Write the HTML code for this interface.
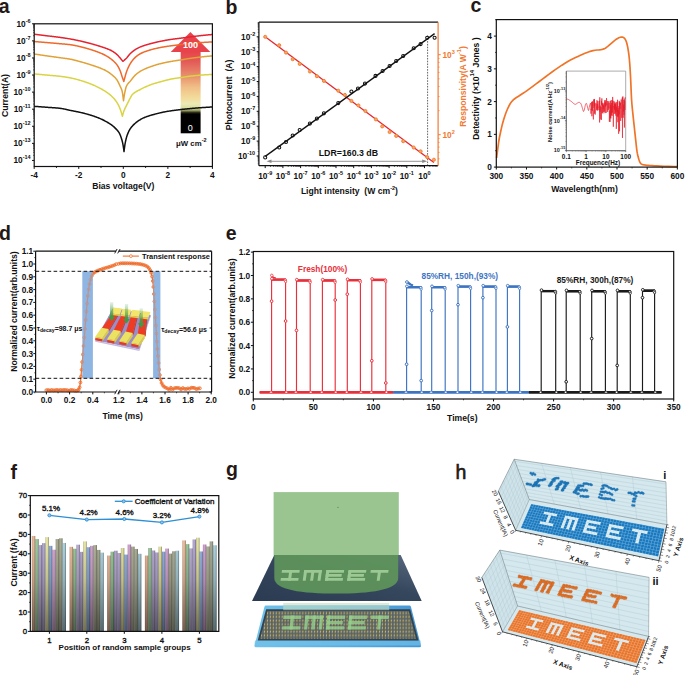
<!DOCTYPE html>
<html><head><meta charset="utf-8"><title>Figure</title>
<style>html,body{margin:0;padding:0;background:#fff;width:685px;height:675px;overflow:hidden;font-family:"Liberation Sans", sans-serif;}svg{display:block;}</style>
</head><body>
<svg width="685" height="675" viewBox="0 0 685 675" font-family='"Liberation Sans", sans-serif'>
<text x="-1.2" y="12.6" font-size="19.5" font-weight="bold" fill="#231815">a</text>
<text x="225.4" y="13.6" font-size="19.5" font-weight="bold" fill="#231815">b</text>
<text x="470.6" y="12.4" font-size="19.5" font-weight="bold" fill="#231815">c</text>
<text x="-1" y="240.1" font-size="19.5" font-weight="bold" fill="#231815">d</text>
<text x="225.8" y="240.1" font-size="19.5" font-weight="bold" fill="#231815">e</text>
<text x="10.6" y="479.2" font-size="19.5" font-weight="bold" fill="#231815">f</text>
<text x="226.1" y="476.3" font-size="19.5" font-weight="bold" fill="#231815">g</text>
<text x="455.6" y="478.9" font-size="19.5" font-weight="normal" fill="#231815" stroke="#231815" stroke-width="0.6">h</text>
<defs><linearGradient id="arrg" x1="0" y1="0" x2="0" y2="1">
<stop offset="0" stop-color="#e8434b"/><stop offset="0.12" stop-color="#e35a58"/>
<stop offset="0.3" stop-color="#e8906c"/><stop offset="0.44" stop-color="#f0c088"/>
<stop offset="0.57" stop-color="#f2dc9c"/><stop offset="0.64" stop-color="#eeeab6"/>
<stop offset="0.69" stop-color="#d8e0a0"/><stop offset="0.72" stop-color="#9aa064"/>
<stop offset="0.75" stop-color="#1a1a0c"/><stop offset="0.77" stop-color="#000"/><stop offset="1" stop-color="#000"/></linearGradient></defs>
<polygon points="190.4,31.9 210.4,52 170.7,52" fill="#e8434b" stroke="none" stroke-width="1"/>
<rect x="180.7" y="51.5" width="19.9" height="81.8" fill="url(#arrg)"/>
<text x="191.3" y="143" font-size="7.8" text-anchor="middle" font-weight="bold" fill="#111" dominant-baseline="central">μW cm<tspan font-size="5.5" dy="-3">-2</tspan></text>
<polyline points="34.2,106.3 34.7,106.34 35.2,106.38 35.7,106.42 36.2,106.46 36.7,106.5 37.2,106.54 37.7,106.57 38.2,106.61 38.7,106.65 39.2,106.69 39.7,106.73 40.2,106.77 40.7,106.81 41.2,106.85 41.7,106.89 42.2,106.93 42.7,106.97 43.2,107 43.7,107.04 44.2,107.08 44.7,107.12 45.2,107.16 45.7,107.2 46.2,107.24 46.7,107.28 47.2,107.32 47.7,107.35 48.2,107.39 48.7,107.42 49.2,107.46 49.7,107.49 50.2,107.53 50.7,107.56 51.2,107.59 51.7,107.62 52.2,107.66 52.7,107.69 53.2,107.72 53.7,107.76 54.2,107.79 54.7,107.83 55.2,107.86 55.7,107.9 56.2,107.94 56.7,107.98 57.2,108.02 57.7,108.07 58.2,108.11 58.7,108.16 59.2,108.21 59.7,108.27 60.2,108.32 60.7,108.39 61.2,108.46 61.7,108.54 62.2,108.62 62.7,108.71 63.2,108.81 63.7,108.91 64.2,109.01 64.7,109.12 65.2,109.23 65.7,109.35 66.2,109.46 66.7,109.58 67.2,109.69 67.7,109.81 68.2,109.92 68.7,110.03 69.2,110.15 69.7,110.25 70.2,110.36 70.7,110.46 71.2,110.56 71.7,110.66 72.2,110.76 72.7,110.86 73.2,110.95 73.7,111.05 74.2,111.15 74.7,111.25 75.2,111.34 75.7,111.44 76.2,111.54 76.7,111.64 77.2,111.74 77.7,111.85 78.2,111.95 78.7,112.06 79.2,112.16 79.7,112.27 80.2,112.39 80.7,112.5 81.2,112.62 81.7,112.73 82.2,112.85 82.7,112.98 83.2,113.1 83.7,113.22 84.2,113.35 84.7,113.48 85.2,113.61 85.7,113.74 86.2,113.87 86.7,114.01 87.2,114.15 87.7,114.29 88.2,114.43 88.7,114.58 89.2,114.72 89.7,114.87 90.2,115.02 90.7,115.18 91.2,115.33 91.7,115.49 92.2,115.65 92.7,115.82 93.2,115.98 93.7,116.15 94.2,116.32 94.7,116.5 95.2,116.68 95.7,116.86 96.2,117.04 96.7,117.23 97.2,117.42 97.7,117.62 98.2,117.81 98.7,118.01 99.2,118.22 99.7,118.42 100.2,118.64 100.7,118.85 101.2,119.07 101.7,119.29 102.2,119.52 102.7,119.76 103.2,120 103.7,120.26 104.2,120.52 104.7,120.79 105.2,121.06 105.7,121.34 106.2,121.62 106.7,121.9 107.2,122.19 107.7,122.48 108.2,122.77 108.7,123.07 109.2,123.38 109.7,123.69 110.2,124.01 110.7,124.35 111.2,124.69 111.7,125.05 112.2,125.43 112.7,125.82 113.2,126.24 113.7,126.67 114.2,127.13 114.7,127.6 115.2,128.1 115.7,128.6 116.2,129.1 116.7,129.62 117.2,130.17 117.7,130.77 118.2,131.43 118.7,132.16 119.2,132.97 119.7,133.92 120.2,135.02 120.7,136.28 121.2,137.69 121.7,139.27 122.2,141 122.7,143.12 123.2,145.8 123.7,149.12 124,151.6 124.5,147.72 125,144.18 125.5,141.52 126,139.31 126.5,137.4 127,135.76 127.5,134.36 128,133.1 128.5,131.96 129,130.92 129.5,129.99 130,129.16 130.5,128.41 131,127.72 131.5,127.07 132,126.46 132.5,125.89 133,125.35 133.5,124.84 134,124.36 134.5,123.89 135,123.45 135.5,123.01 136,122.6 136.5,122.19 137,121.81 137.5,121.44 138,121.08 138.5,120.74 139,120.41 139.5,120.1 140,119.79 140.5,119.5 141,119.22 141.5,118.94 142,118.68 142.5,118.42 143,118.17 143.5,117.94 144,117.71 144.5,117.49 145,117.28 145.5,117.08 146,116.89 146.5,116.7 147,116.52 147.5,116.35 148,116.18 148.5,116.01 149,115.85 149.5,115.69 150,115.53 150.5,115.38 151,115.23 151.5,115.09 152,114.95 152.5,114.81 153,114.67 153.5,114.53 154,114.4 154.5,114.27 155,114.13 155.5,114 156,113.87 156.5,113.75 157,113.62 157.5,113.49 158,113.37 158.5,113.24 159,113.12 159.5,113 160,112.88 160.5,112.76 161,112.65 161.5,112.53 162,112.42 162.5,112.31 163,112.21 163.5,112.1 164,112 164.5,111.9 165,111.8 165.5,111.71 166,111.62 166.5,111.53 167,111.44 167.5,111.36 168,111.28 168.5,111.2 169,111.12 169.5,111.04 170,110.96 170.5,110.89 171,110.82 171.5,110.74 172,110.67 172.5,110.6 173,110.54 173.5,110.47 174,110.4 174.5,110.33 175,110.27 175.5,110.2 176,110.14 176.5,110.07 177,110.01 177.5,109.95 178,109.89 178.5,109.83 179,109.77 179.5,109.71 180,109.65 180.5,109.59 181,109.53 181.5,109.48 182,109.42 182.5,109.37 183,109.31 183.5,109.26 184,109.2 184.5,109.15 185,109.1 185.5,109.05 186,109 186.5,108.95 187,108.9 187.5,108.84 188,108.79 188.5,108.74 189,108.7 189.5,108.65 190,108.6 190.5,108.55 191,108.5 191.5,108.45 192,108.41 192.5,108.36 193,108.32 193.5,108.27 194,108.23 194.5,108.18 195,108.14 195.5,108.1 196,108.06 196.5,108.02 197,107.98 197.5,107.94 198,107.9 198.5,107.86 199,107.83 199.5,107.79 200,107.75 200.5,107.72 201,107.68 201.5,107.65 202,107.61 202.5,107.58 203,107.54 203.5,107.51 204,107.48 204.5,107.44 205,107.41 205.5,107.38 206,107.35 206.5,107.32 207,107.29 207.5,107.26 208,107.23 208.5,107.2 209,107.17 209.5,107.15 210,107.12 210.5,107.09 211,107.07 211.5,107.04 212,107.02 212.4,107" fill="none" stroke="#111" stroke-width="1.5" stroke-linejoin="round"/>
<polyline points="34.2,73.9 34.7,73.95 35.2,73.99 35.7,74.04 36.2,74.09 36.7,74.14 37.2,74.18 37.7,74.23 38.2,74.28 38.7,74.32 39.2,74.37 39.7,74.42 40.2,74.46 40.7,74.51 41.2,74.56 41.7,74.61 42.2,74.65 42.7,74.7 43.2,74.75 43.7,74.79 44.2,74.84 44.7,74.89 45.2,74.93 45.7,74.98 46.2,75.03 46.7,75.07 47.2,75.12 47.7,75.16 48.2,75.21 48.7,75.25 49.2,75.3 49.7,75.34 50.2,75.38 50.7,75.42 51.2,75.47 51.7,75.51 52.2,75.55 52.7,75.59 53.2,75.64 53.7,75.68 54.2,75.72 54.7,75.77 55.2,75.81 55.7,75.86 56.2,75.9 56.7,75.95 57.2,76 57.7,76.05 58.2,76.1 58.7,76.15 59.2,76.21 59.7,76.27 60.2,76.32 60.7,76.38 61.2,76.44 61.7,76.51 62.2,76.57 62.7,76.64 63.2,76.71 63.7,76.78 64.2,76.85 64.7,76.93 65.2,77 65.7,77.08 66.2,77.16 66.7,77.24 67.2,77.32 67.7,77.41 68.2,77.5 68.7,77.59 69.2,77.68 69.7,77.77 70.2,77.86 70.7,77.96 71.2,78.06 71.7,78.16 72.2,78.27 72.7,78.38 73.2,78.49 73.7,78.61 74.2,78.73 74.7,78.85 75.2,78.98 75.7,79.11 76.2,79.24 76.7,79.37 77.2,79.51 77.7,79.65 78.2,79.78 78.7,79.92 79.2,80.07 79.7,80.21 80.2,80.35 80.7,80.5 81.2,80.65 81.7,80.8 82.2,80.95 82.7,81.1 83.2,81.26 83.7,81.42 84.2,81.58 84.7,81.75 85.2,81.92 85.7,82.09 86.2,82.26 86.7,82.44 87.2,82.61 87.7,82.8 88.2,82.98 88.7,83.17 89.2,83.36 89.7,83.55 90.2,83.74 90.7,83.94 91.2,84.14 91.7,84.34 92.2,84.55 92.7,84.77 93.2,84.98 93.7,85.2 94.2,85.43 94.7,85.66 95.2,85.89 95.7,86.12 96.2,86.36 96.7,86.61 97.2,86.85 97.7,87.1 98.2,87.36 98.7,87.61 99.2,87.87 99.7,88.13 100.2,88.4 100.7,88.67 101.2,88.94 101.7,89.21 102.2,89.49 102.7,89.77 103.2,90.07 103.7,90.36 104.2,90.67 104.7,90.98 105.2,91.3 105.7,91.62 106.2,91.96 106.7,92.3 107.2,92.65 107.7,93 108.2,93.36 108.7,93.72 109.2,94.1 109.7,94.49 110.2,94.89 110.7,95.31 111.2,95.75 111.7,96.21 112.2,96.69 112.7,97.19 113.2,97.71 113.7,98.25 114.2,98.82 114.7,99.42 115.2,100.05 115.7,100.71 116.2,101.41 116.7,102.14 117.2,102.92 117.7,103.76 118.2,104.69 118.7,105.69 119.2,106.77 119.7,107.92 120.2,109.15 120.7,110.53 121.2,112.06 121.7,113.71 122.2,115.47 122.4,116.2 122.9,114.34 123.4,112.62 123.9,111.08 124.4,109.75 124.9,108.62 125.4,107.62 125.9,106.67 126.4,105.7 126.9,104.68 127.4,103.65 127.9,102.62 128.4,101.59 128.9,100.59 129.4,99.62 129.9,98.68 130.4,97.76 130.9,96.81 131.4,95.9 131.9,95.11 132.4,94.5 132.9,94.02 133.4,93.58 133.9,93.17 134.4,92.79 134.9,92.43 135.4,92.1 135.9,91.79 136.4,91.5 136.9,91.22 137.4,90.96 137.9,90.7 138.4,90.45 138.9,90.21 139.4,89.96 139.9,89.71 140.4,89.46 140.9,89.19 141.4,88.93 141.9,88.67 142.4,88.42 142.9,88.17 143.4,87.92 143.9,87.67 144.4,87.43 144.9,87.19 145.4,86.96 145.9,86.73 146.4,86.5 146.9,86.28 147.4,86.07 147.9,85.85 148.4,85.64 148.9,85.44 149.4,85.24 149.9,85.05 150.4,84.86 150.9,84.67 151.4,84.49 151.9,84.32 152.4,84.15 152.9,83.98 153.4,83.82 153.9,83.66 154.4,83.5 154.9,83.35 155.4,83.2 155.9,83.05 156.4,82.91 156.9,82.76 157.4,82.62 157.9,82.48 158.4,82.34 158.9,82.21 159.4,82.07 159.9,81.93 160.4,81.8 160.9,81.66 161.4,81.53 161.9,81.39 162.4,81.25 162.9,81.12 163.4,80.98 163.9,80.84 164.4,80.7 164.9,80.57 165.4,80.43 165.9,80.3 166.4,80.16 166.9,80.03 167.4,79.91 167.9,79.78 168.4,79.66 168.9,79.54 169.4,79.42 169.9,79.31 170.4,79.2 170.9,79.09 171.4,78.99 171.9,78.9 172.4,78.81 172.9,78.72 173.4,78.64 173.9,78.56 174.4,78.48 174.9,78.41 175.4,78.34 175.9,78.26 176.4,78.19 176.9,78.13 177.4,78.06 177.9,77.99 178.4,77.93 178.9,77.86 179.4,77.79 179.9,77.73 180.4,77.66 180.9,77.59 181.4,77.52 181.9,77.44 182.4,77.37 182.9,77.29 183.4,77.21 183.9,77.13 184.4,77.05 184.9,76.96 185.4,76.88 185.9,76.79 186.4,76.71 186.9,76.63 187.4,76.55 187.9,76.47 188.4,76.4 188.9,76.33 189.4,76.27 189.9,76.21 190.4,76.16 190.9,76.1 191.4,76.05 191.9,76 192.4,75.94 192.9,75.89 193.4,75.84 193.9,75.79 194.4,75.74 194.9,75.69 195.4,75.63 195.9,75.58 196.4,75.54 196.9,75.49 197.4,75.44 197.9,75.39 198.4,75.34 198.9,75.3 199.4,75.25 199.9,75.21 200.4,75.17 200.9,75.12 201.4,75.08 201.9,75.04 202.4,75 202.9,74.97 203.4,74.93 203.9,74.89 204.4,74.86 204.9,74.82 205.4,74.79 205.9,74.76 206.4,74.73 206.9,74.7 207.4,74.68 207.9,74.65 208.4,74.63 208.9,74.61 209.4,74.59 209.9,74.57 210.4,74.55 210.9,74.54 211.4,74.52 211.9,74.51 212.4,74.5" fill="none" stroke="#d9d443" stroke-width="1.5" stroke-linejoin="round"/>
<polyline points="34.2,54 34.7,54.08 35.2,54.15 35.7,54.23 36.2,54.31 36.7,54.38 37.2,54.46 37.7,54.53 38.2,54.61 38.7,54.68 39.2,54.76 39.7,54.83 40.2,54.91 40.7,54.98 41.2,55.06 41.7,55.13 42.2,55.2 42.7,55.28 43.2,55.35 43.7,55.42 44.2,55.5 44.7,55.57 45.2,55.64 45.7,55.71 46.2,55.79 46.7,55.86 47.2,55.93 47.7,56 48.2,56.07 48.7,56.14 49.2,56.21 49.7,56.28 50.2,56.35 50.7,56.42 51.2,56.49 51.7,56.56 52.2,56.63 52.7,56.69 53.2,56.76 53.7,56.83 54.2,56.9 54.7,56.97 55.2,57.04 55.7,57.1 56.2,57.17 56.7,57.24 57.2,57.31 57.7,57.38 58.2,57.45 58.7,57.52 59.2,57.59 59.7,57.66 60.2,57.73 60.7,57.8 61.2,57.87 61.7,57.93 62.2,58 62.7,58.06 63.2,58.13 63.7,58.2 64.2,58.26 64.7,58.33 65.2,58.4 65.7,58.46 66.2,58.53 66.7,58.6 67.2,58.68 67.7,58.75 68.2,58.83 68.7,58.91 69.2,58.99 69.7,59.07 70.2,59.16 70.7,59.26 71.2,59.35 71.7,59.46 72.2,59.56 72.7,59.68 73.2,59.79 73.7,59.91 74.2,60.04 74.7,60.16 75.2,60.29 75.7,60.42 76.2,60.56 76.7,60.69 77.2,60.83 77.7,60.97 78.2,61.11 78.7,61.25 79.2,61.39 79.7,61.52 80.2,61.66 80.7,61.8 81.2,61.94 81.7,62.08 82.2,62.22 82.7,62.36 83.2,62.5 83.7,62.64 84.2,62.78 84.7,62.93 85.2,63.08 85.7,63.22 86.2,63.37 86.7,63.52 87.2,63.67 87.7,63.83 88.2,63.98 88.7,64.14 89.2,64.29 89.7,64.45 90.2,64.61 90.7,64.77 91.2,64.93 91.7,65.09 92.2,65.26 92.7,65.42 93.2,65.58 93.7,65.75 94.2,65.92 94.7,66.08 95.2,66.25 95.7,66.42 96.2,66.6 96.7,66.77 97.2,66.95 97.7,67.13 98.2,67.31 98.7,67.5 99.2,67.69 99.7,67.88 100.2,68.07 100.7,68.27 101.2,68.48 101.7,68.68 102.2,68.89 102.7,69.11 103.2,69.33 103.7,69.56 104.2,69.79 104.7,70.04 105.2,70.29 105.7,70.55 106.2,70.82 106.7,71.1 107.2,71.39 107.7,71.7 108.2,72.02 108.7,72.36 109.2,72.71 109.7,73.07 110.2,73.44 110.7,73.83 111.2,74.22 111.7,74.63 112.2,75.05 112.7,75.47 113.2,75.9 113.7,76.35 114.2,76.81 114.7,77.3 115.2,77.81 115.7,78.36 116.2,78.96 116.7,79.59 117.2,80.29 117.7,81.12 118.2,82.06 118.7,83.09 119.2,84.18 119.7,85.3 120.2,86.42 120.7,87.44 121.2,88.49 121.7,89.75 122.2,91.4 122.7,94.13 123.2,98.06 123.5,100.7 124,97.19 124.5,94.1 125,91.52 125.5,89.23 126,87.3 126.5,85.99 127,85.07 127.5,84.29 128,83.64 128.5,83.06 129,82.53 129.5,82.01 130,81.47 130.5,80.88 131,80.24 131.5,79.6 132,78.95 132.5,78.31 133,77.68 133.5,77.06 134,76.47 134.5,75.9 135,75.38 135.5,74.89 136,74.45 136.5,74.02 137,73.61 137.5,73.22 138,72.84 138.5,72.49 139,72.15 139.5,71.82 140,71.51 140.5,71.21 141,70.93 141.5,70.66 142,70.39 142.5,70.13 143,69.88 143.5,69.63 144,69.39 144.5,69.16 145,68.93 145.5,68.7 146,68.49 146.5,68.27 147,68.06 147.5,67.86 148,67.66 148.5,67.46 149,67.27 149.5,67.08 150,66.9 150.5,66.72 151,66.54 151.5,66.36 152,66.18 152.5,66.01 153,65.84 153.5,65.68 154,65.51 154.5,65.35 155,65.2 155.5,65.04 156,64.89 156.5,64.74 157,64.59 157.5,64.45 158,64.31 158.5,64.17 159,64.04 159.5,63.9 160,63.77 160.5,63.65 161,63.52 161.5,63.4 162,63.28 162.5,63.16 163,63.05 163.5,62.94 164,62.83 164.5,62.72 165,62.61 165.5,62.51 166,62.41 166.5,62.31 167,62.21 167.5,62.11 168,62.01 168.5,61.92 169,61.82 169.5,61.73 170,61.64 170.5,61.55 171,61.46 171.5,61.37 172,61.28 172.5,61.2 173,61.11 173.5,61.03 174,60.95 174.5,60.87 175,60.79 175.5,60.71 176,60.64 176.5,60.56 177,60.49 177.5,60.41 178,60.34 178.5,60.27 179,60.19 179.5,60.12 180,60.04 180.5,59.97 181,59.89 181.5,59.81 182,59.73 182.5,59.65 183,59.57 183.5,59.48 184,59.4 184.5,59.31 185,59.22 185.5,59.13 186,59.05 186.5,58.96 187,58.87 187.5,58.79 188,58.7 188.5,58.62 189,58.55 189.5,58.47 190,58.4 190.5,58.33 191,58.26 191.5,58.19 192,58.13 192.5,58.06 193,57.99 193.5,57.92 194,57.86 194.5,57.79 195,57.73 195.5,57.66 196,57.6 196.5,57.53 197,57.47 197.5,57.41 198,57.34 198.5,57.28 199,57.22 199.5,57.16 200,57.1 200.5,57.04 201,56.98 201.5,56.93 202,56.87 202.5,56.81 203,56.76 203.5,56.7 204,56.65 204.5,56.6 205,56.55 205.5,56.5 206,56.45 206.5,56.4 207,56.35 207.5,56.3 208,56.26 208.5,56.21 209,56.17 209.5,56.13 210,56.08 210.5,56.04 211,56 211.5,55.97 212,55.93 212.4,55.9" fill="none" stroke="#e0a236" stroke-width="1.5" stroke-linejoin="round"/>
<polyline points="34.2,41.5 34.7,41.54 35.2,41.59 35.7,41.63 36.2,41.67 36.7,41.72 37.2,41.76 37.7,41.8 38.2,41.85 38.7,41.89 39.2,41.93 39.7,41.97 40.2,42.02 40.7,42.06 41.2,42.1 41.7,42.15 42.2,42.19 42.7,42.23 43.2,42.28 43.7,42.32 44.2,42.36 44.7,42.4 45.2,42.45 45.7,42.49 46.2,42.53 46.7,42.57 47.2,42.62 47.7,42.66 48.2,42.7 48.7,42.74 49.2,42.79 49.7,42.83 50.2,42.87 50.7,42.91 51.2,42.95 51.7,42.99 52.2,43.03 52.7,43.08 53.2,43.12 53.7,43.16 54.2,43.2 54.7,43.24 55.2,43.28 55.7,43.33 56.2,43.37 56.7,43.41 57.2,43.45 57.7,43.5 58.2,43.54 58.7,43.58 59.2,43.63 59.7,43.67 60.2,43.72 60.7,43.76 61.2,43.81 61.7,43.85 62.2,43.89 62.7,43.93 63.2,43.98 63.7,44.02 64.2,44.06 64.7,44.1 65.2,44.15 65.7,44.19 66.2,44.24 66.7,44.29 67.2,44.34 67.7,44.39 68.2,44.44 68.7,44.49 69.2,44.55 69.7,44.61 70.2,44.67 70.7,44.74 71.2,44.81 71.7,44.89 72.2,44.97 72.7,45.05 73.2,45.14 73.7,45.24 74.2,45.34 74.7,45.44 75.2,45.54 75.7,45.65 76.2,45.76 76.7,45.87 77.2,45.98 77.7,46.1 78.2,46.21 78.7,46.33 79.2,46.45 79.7,46.56 80.2,46.68 80.7,46.8 81.2,46.92 81.7,47.04 82.2,47.16 82.7,47.29 83.2,47.42 83.7,47.55 84.2,47.68 84.7,47.81 85.2,47.95 85.7,48.09 86.2,48.23 86.7,48.37 87.2,48.52 87.7,48.66 88.2,48.81 88.7,48.96 89.2,49.11 89.7,49.26 90.2,49.42 90.7,49.57 91.2,49.73 91.7,49.89 92.2,50.05 92.7,50.22 93.2,50.38 93.7,50.55 94.2,50.72 94.7,50.89 95.2,51.06 95.7,51.24 96.2,51.42 96.7,51.6 97.2,51.78 97.7,51.97 98.2,52.16 98.7,52.35 99.2,52.55 99.7,52.75 100.2,52.95 100.7,53.16 101.2,53.37 101.7,53.59 102.2,53.81 102.7,54.03 103.2,54.27 103.7,54.51 104.2,54.75 104.7,55.01 105.2,55.27 105.7,55.54 106.2,55.81 106.7,56.1 107.2,56.39 107.7,56.7 108.2,57.01 108.7,57.34 109.2,57.67 109.7,58.02 110.2,58.38 110.7,58.75 111.2,59.14 111.7,59.54 112.2,59.95 112.7,60.37 113.2,60.81 113.7,61.26 114.2,61.73 114.7,62.22 115.2,62.74 115.7,63.29 116.2,63.88 116.7,64.5 117.2,65.18 117.7,65.92 118.2,66.75 118.7,67.65 119.2,68.64 119.7,69.7 120.2,70.84 120.7,72.2 121.2,73.75 121.7,75.36 122.2,76.9 122.7,78.36 123.2,79.8 123.7,81.22 123.8,81.5 124.3,79.6 124.8,77.74 125.3,75.87 125.8,74 126.3,72.42 126.8,71.04 127.3,69.74 127.8,68.52 128.3,67.38 128.8,66.31 129.3,65.32 129.8,64.4 130.3,63.56 130.8,62.78 131.3,62.04 131.8,61.34 132.3,60.67 132.8,60.04 133.3,59.45 133.8,58.88 134.3,58.35 134.8,57.85 135.3,57.37 135.8,56.92 136.3,56.49 136.8,56.08 137.3,55.68 137.8,55.3 138.3,54.94 138.8,54.6 139.3,54.28 139.8,53.99 140.3,53.71 140.8,53.45 141.3,53.21 141.8,52.97 142.3,52.74 142.8,52.53 143.3,52.31 143.8,52.11 144.3,51.91 144.8,51.72 145.3,51.53 145.8,51.35 146.3,51.18 146.8,51.01 147.3,50.84 147.8,50.68 148.3,50.53 148.8,50.37 149.3,50.22 149.8,50.07 150.3,49.93 150.8,49.79 151.3,49.64 151.8,49.5 152.3,49.37 152.8,49.23 153.3,49.1 153.8,48.98 154.3,48.85 154.8,48.73 155.3,48.61 155.8,48.49 156.3,48.37 156.8,48.26 157.3,48.15 157.8,48.04 158.3,47.93 158.8,47.83 159.3,47.73 159.8,47.63 160.3,47.53 160.8,47.43 161.3,47.34 161.8,47.24 162.3,47.15 162.8,47.07 163.3,46.98 163.8,46.89 164.3,46.81 164.8,46.73 165.3,46.65 165.8,46.57 166.3,46.49 166.8,46.42 167.3,46.34 167.8,46.27 168.3,46.2 168.8,46.12 169.3,46.05 169.8,45.98 170.3,45.92 170.8,45.85 171.3,45.78 171.8,45.71 172.3,45.65 172.8,45.58 173.3,45.52 173.8,45.46 174.3,45.4 174.8,45.34 175.3,45.28 175.8,45.23 176.3,45.17 176.8,45.11 177.3,45.06 177.8,45 178.3,44.95 178.8,44.89 179.3,44.84 179.8,44.78 180.3,44.72 180.8,44.67 181.3,44.61 181.8,44.55 182.3,44.49 182.8,44.42 183.3,44.36 183.8,44.29 184.3,44.22 184.8,44.15 185.3,44.08 185.8,44.01 186.3,43.94 186.8,43.88 187.3,43.81 187.8,43.74 188.3,43.68 188.8,43.62 189.3,43.57 189.8,43.52 190.3,43.47 190.8,43.43 191.3,43.38 191.8,43.33 192.3,43.29 192.8,43.24 193.3,43.2 193.8,43.15 194.3,43.11 194.8,43.07 195.3,43.02 195.8,42.98 196.3,42.94 196.8,42.89 197.3,42.85 197.8,42.81 198.3,42.77 198.8,42.73 199.3,42.69 199.8,42.65 200.3,42.62 200.8,42.58 201.3,42.54 201.8,42.51 202.3,42.47 202.8,42.44 203.3,42.41 203.8,42.38 204.3,42.34 204.8,42.31 205.3,42.29 205.8,42.26 206.3,42.23 206.8,42.2 207.3,42.18 207.8,42.16 208.3,42.13 208.8,42.11 209.3,42.09 209.8,42.07 210.3,42.06 210.8,42.04 211.3,42.03 211.8,42.01 212.3,42 212.4,42" fill="none" stroke="#f0692c" stroke-width="1.5" stroke-linejoin="round"/>
<polyline points="34.2,34.2 34.7,34.26 35.2,34.33 35.7,34.39 36.2,34.45 36.7,34.51 37.2,34.58 37.7,34.64 38.2,34.7 38.7,34.77 39.2,34.83 39.7,34.89 40.2,34.95 40.7,35.02 41.2,35.08 41.7,35.14 42.2,35.2 42.7,35.27 43.2,35.33 43.7,35.39 44.2,35.45 44.7,35.51 45.2,35.58 45.7,35.64 46.2,35.7 46.7,35.76 47.2,35.82 47.7,35.89 48.2,35.95 48.7,36.01 49.2,36.07 49.7,36.13 50.2,36.19 50.7,36.25 51.2,36.31 51.7,36.36 52.2,36.42 52.7,36.48 53.2,36.54 53.7,36.6 54.2,36.66 54.7,36.72 55.2,36.78 55.7,36.84 56.2,36.91 56.7,36.97 57.2,37.03 57.7,37.1 58.2,37.16 58.7,37.23 59.2,37.29 59.7,37.36 60.2,37.43 60.7,37.5 61.2,37.57 61.7,37.64 62.2,37.71 62.7,37.78 63.2,37.85 63.7,37.93 64.2,38 64.7,38.07 65.2,38.15 65.7,38.23 66.2,38.3 66.7,38.38 67.2,38.46 67.7,38.54 68.2,38.63 68.7,38.71 69.2,38.79 69.7,38.88 70.2,38.97 70.7,39.05 71.2,39.14 71.7,39.23 72.2,39.33 72.7,39.42 73.2,39.52 73.7,39.61 74.2,39.71 74.7,39.81 75.2,39.91 75.7,40.02 76.2,40.12 76.7,40.23 77.2,40.33 77.7,40.44 78.2,40.55 78.7,40.66 79.2,40.77 79.7,40.88 80.2,40.99 80.7,41.1 81.2,41.21 81.7,41.33 82.2,41.44 82.7,41.56 83.2,41.68 83.7,41.8 84.2,41.92 84.7,42.04 85.2,42.16 85.7,42.29 86.2,42.41 86.7,42.54 87.2,42.67 87.7,42.8 88.2,42.93 88.7,43.06 89.2,43.19 89.7,43.32 90.2,43.46 90.7,43.59 91.2,43.73 91.7,43.86 92.2,44 92.7,44.14 93.2,44.28 93.7,44.42 94.2,44.57 94.7,44.71 95.2,44.86 95.7,45.01 96.2,45.15 96.7,45.3 97.2,45.45 97.7,45.61 98.2,45.76 98.7,45.91 99.2,46.07 99.7,46.23 100.2,46.38 100.7,46.54 101.2,46.7 101.7,46.86 102.2,47.03 102.7,47.19 103.2,47.35 103.7,47.52 104.2,47.69 104.7,47.86 105.2,48.04 105.7,48.22 106.2,48.41 106.7,48.6 107.2,48.79 107.7,48.99 108.2,49.19 108.7,49.39 109.2,49.6 109.7,49.82 110.2,50.04 110.7,50.28 111.2,50.53 111.7,50.79 112.2,51.07 112.7,51.36 113.2,51.68 113.7,52.01 114.2,52.35 114.7,52.72 115.2,53.1 115.7,53.5 116.2,53.91 116.7,54.34 117.2,54.78 117.7,55.28 118.2,55.81 118.7,56.38 119.2,56.96 119.7,57.54 120.2,58.11 120.7,58.69 121.2,59.27 121.7,59.86 122.2,60.45 122.7,61.06 122.9,61.3 123.4,60.91 123.9,60.51 124.4,60.08 124.9,59.64 125.4,59.18 125.9,58.7 126.4,58.2 126.9,57.66 127.4,57.08 127.9,56.46 128.4,55.82 128.9,55.19 129.4,54.58 129.9,54.01 130.4,53.5 130.9,53.03 131.4,52.58 131.9,52.14 132.4,51.72 132.9,51.31 133.4,50.92 133.9,50.55 134.4,50.19 134.9,49.85 135.4,49.53 135.9,49.22 136.4,48.92 136.9,48.63 137.4,48.36 137.9,48.09 138.4,47.84 138.9,47.59 139.4,47.36 139.9,47.13 140.4,46.92 140.9,46.72 141.4,46.52 141.9,46.33 142.4,46.15 142.9,45.97 143.4,45.79 143.9,45.62 144.4,45.45 144.9,45.29 145.4,45.13 145.9,44.98 146.4,44.82 146.9,44.67 147.4,44.53 147.9,44.38 148.4,44.24 148.9,44.1 149.4,43.96 149.9,43.82 150.4,43.69 150.9,43.55 151.4,43.42 151.9,43.29 152.4,43.16 152.9,43.03 153.4,42.91 153.9,42.78 154.4,42.66 154.9,42.54 155.4,42.42 155.9,42.3 156.4,42.19 156.9,42.07 157.4,41.96 157.9,41.85 158.4,41.74 158.9,41.63 159.4,41.53 159.9,41.42 160.4,41.32 160.9,41.22 161.4,41.12 161.9,41.02 162.4,40.92 162.9,40.83 163.4,40.73 163.9,40.64 164.4,40.54 164.9,40.45 165.4,40.36 165.9,40.27 166.4,40.18 166.9,40.1 167.4,40.01 167.9,39.93 168.4,39.84 168.9,39.76 169.4,39.68 169.9,39.6 170.4,39.53 170.9,39.45 171.4,39.37 171.9,39.3 172.4,39.23 172.9,39.16 173.4,39.09 173.9,39.02 174.4,38.96 174.9,38.9 175.4,38.83 175.9,38.77 176.4,38.71 176.9,38.65 177.4,38.59 177.9,38.53 178.4,38.47 178.9,38.41 179.4,38.35 179.9,38.29 180.4,38.23 180.9,38.17 181.4,38.1 181.9,38.04 182.4,37.97 182.9,37.9 183.4,37.83 183.9,37.76 184.4,37.69 184.9,37.62 185.4,37.54 185.9,37.47 186.4,37.4 186.9,37.32 187.4,37.25 187.9,37.18 188.4,37.11 188.9,37.04 189.4,36.98 189.9,36.91 190.4,36.85 190.9,36.79 191.4,36.73 191.9,36.67 192.4,36.6 192.9,36.54 193.4,36.48 193.9,36.42 194.4,36.36 194.9,36.3 195.4,36.24 195.9,36.18 196.4,36.12 196.9,36.07 197.4,36.01 197.9,35.95 198.4,35.89 198.9,35.84 199.4,35.78 199.9,35.72 200.4,35.67 200.9,35.61 201.4,35.56 201.9,35.51 202.4,35.45 202.9,35.4 203.4,35.35 203.9,35.29 204.4,35.24 204.9,35.19 205.4,35.14 205.9,35.09 206.4,35.04 206.9,34.99 207.4,34.94 207.9,34.9 208.4,34.85 208.9,34.8 209.4,34.76 209.9,34.71 210.4,34.67 210.9,34.63 211.4,34.58 211.9,34.54 212.4,34.5" fill="none" stroke="#e52330" stroke-width="1.5" stroke-linejoin="round"/>
<text x="190.5" y="45.4" font-size="9" text-anchor="middle" font-weight="bold" fill="#fff" dominant-baseline="central">100</text>
<text x="190.2" y="128.3" font-size="9" text-anchor="middle" font-weight="normal" fill="#fff" dominant-baseline="central">0</text>
<rect x="34.2" y="23.8" width="178.2" height="142.7" fill="none" stroke="#111" stroke-width="1.2"/>
<line x1="32" y1="23.8" x2="34.2" y2="23.8" stroke="#111" stroke-width="1"/>
<text x="30.6" y="23.5" font-size="8.3" text-anchor="end" font-weight="bold" fill="#111" dominant-baseline="central">10<tspan font-size="5.5" dy="-2.7">-6</tspan></text>
<line x1="33" y1="35.74" x2="34.2" y2="35.74" stroke="#111" stroke-width="0.6"/>
<line x1="33" y1="32.73" x2="34.2" y2="32.73" stroke="#111" stroke-width="0.6"/>
<line x1="33" y1="30.6" x2="34.2" y2="30.6" stroke="#111" stroke-width="0.6"/>
<line x1="33" y1="28.94" x2="34.2" y2="28.94" stroke="#111" stroke-width="0.6"/>
<line x1="33" y1="27.59" x2="34.2" y2="27.59" stroke="#111" stroke-width="0.6"/>
<line x1="33" y1="26.45" x2="34.2" y2="26.45" stroke="#111" stroke-width="0.6"/>
<line x1="33" y1="25.46" x2="34.2" y2="25.46" stroke="#111" stroke-width="0.6"/>
<line x1="33" y1="24.58" x2="34.2" y2="24.58" stroke="#111" stroke-width="0.6"/>
<line x1="32" y1="40.88" x2="34.2" y2="40.88" stroke="#111" stroke-width="1"/>
<text x="30.6" y="40.58" font-size="8.3" text-anchor="end" font-weight="bold" fill="#111" dominant-baseline="central">10<tspan font-size="5.5" dy="-2.7">-7</tspan></text>
<line x1="33" y1="52.82" x2="34.2" y2="52.82" stroke="#111" stroke-width="0.6"/>
<line x1="33" y1="49.81" x2="34.2" y2="49.81" stroke="#111" stroke-width="0.6"/>
<line x1="33" y1="47.68" x2="34.2" y2="47.68" stroke="#111" stroke-width="0.6"/>
<line x1="33" y1="46.02" x2="34.2" y2="46.02" stroke="#111" stroke-width="0.6"/>
<line x1="33" y1="44.67" x2="34.2" y2="44.67" stroke="#111" stroke-width="0.6"/>
<line x1="33" y1="43.53" x2="34.2" y2="43.53" stroke="#111" stroke-width="0.6"/>
<line x1="33" y1="42.54" x2="34.2" y2="42.54" stroke="#111" stroke-width="0.6"/>
<line x1="33" y1="41.66" x2="34.2" y2="41.66" stroke="#111" stroke-width="0.6"/>
<line x1="32" y1="57.96" x2="34.2" y2="57.96" stroke="#111" stroke-width="1"/>
<text x="30.6" y="57.66" font-size="8.3" text-anchor="end" font-weight="bold" fill="#111" dominant-baseline="central">10<tspan font-size="5.5" dy="-2.7">-8</tspan></text>
<line x1="33" y1="69.9" x2="34.2" y2="69.9" stroke="#111" stroke-width="0.6"/>
<line x1="33" y1="66.89" x2="34.2" y2="66.89" stroke="#111" stroke-width="0.6"/>
<line x1="33" y1="64.76" x2="34.2" y2="64.76" stroke="#111" stroke-width="0.6"/>
<line x1="33" y1="63.1" x2="34.2" y2="63.1" stroke="#111" stroke-width="0.6"/>
<line x1="33" y1="61.75" x2="34.2" y2="61.75" stroke="#111" stroke-width="0.6"/>
<line x1="33" y1="60.61" x2="34.2" y2="60.61" stroke="#111" stroke-width="0.6"/>
<line x1="33" y1="59.62" x2="34.2" y2="59.62" stroke="#111" stroke-width="0.6"/>
<line x1="33" y1="58.74" x2="34.2" y2="58.74" stroke="#111" stroke-width="0.6"/>
<line x1="32" y1="75.04" x2="34.2" y2="75.04" stroke="#111" stroke-width="1"/>
<text x="30.6" y="74.74" font-size="8.3" text-anchor="end" font-weight="bold" fill="#111" dominant-baseline="central">10<tspan font-size="5.5" dy="-2.7">-9</tspan></text>
<line x1="33" y1="86.98" x2="34.2" y2="86.98" stroke="#111" stroke-width="0.6"/>
<line x1="33" y1="83.97" x2="34.2" y2="83.97" stroke="#111" stroke-width="0.6"/>
<line x1="33" y1="81.84" x2="34.2" y2="81.84" stroke="#111" stroke-width="0.6"/>
<line x1="33" y1="80.18" x2="34.2" y2="80.18" stroke="#111" stroke-width="0.6"/>
<line x1="33" y1="78.83" x2="34.2" y2="78.83" stroke="#111" stroke-width="0.6"/>
<line x1="33" y1="77.69" x2="34.2" y2="77.69" stroke="#111" stroke-width="0.6"/>
<line x1="33" y1="76.7" x2="34.2" y2="76.7" stroke="#111" stroke-width="0.6"/>
<line x1="33" y1="75.82" x2="34.2" y2="75.82" stroke="#111" stroke-width="0.6"/>
<line x1="32" y1="92.12" x2="34.2" y2="92.12" stroke="#111" stroke-width="1"/>
<text x="30.6" y="91.82" font-size="8.3" text-anchor="end" font-weight="bold" fill="#111" dominant-baseline="central">10<tspan font-size="5.5" dy="-2.7">-10</tspan></text>
<line x1="33" y1="104.06" x2="34.2" y2="104.06" stroke="#111" stroke-width="0.6"/>
<line x1="33" y1="101.05" x2="34.2" y2="101.05" stroke="#111" stroke-width="0.6"/>
<line x1="33" y1="98.92" x2="34.2" y2="98.92" stroke="#111" stroke-width="0.6"/>
<line x1="33" y1="97.26" x2="34.2" y2="97.26" stroke="#111" stroke-width="0.6"/>
<line x1="33" y1="95.91" x2="34.2" y2="95.91" stroke="#111" stroke-width="0.6"/>
<line x1="33" y1="94.77" x2="34.2" y2="94.77" stroke="#111" stroke-width="0.6"/>
<line x1="33" y1="93.78" x2="34.2" y2="93.78" stroke="#111" stroke-width="0.6"/>
<line x1="33" y1="92.9" x2="34.2" y2="92.9" stroke="#111" stroke-width="0.6"/>
<line x1="32" y1="109.2" x2="34.2" y2="109.2" stroke="#111" stroke-width="1"/>
<text x="30.6" y="108.9" font-size="8.3" text-anchor="end" font-weight="bold" fill="#111" dominant-baseline="central">10<tspan font-size="5.5" dy="-2.7">-11</tspan></text>
<line x1="33" y1="121.14" x2="34.2" y2="121.14" stroke="#111" stroke-width="0.6"/>
<line x1="33" y1="118.13" x2="34.2" y2="118.13" stroke="#111" stroke-width="0.6"/>
<line x1="33" y1="116" x2="34.2" y2="116" stroke="#111" stroke-width="0.6"/>
<line x1="33" y1="114.34" x2="34.2" y2="114.34" stroke="#111" stroke-width="0.6"/>
<line x1="33" y1="112.99" x2="34.2" y2="112.99" stroke="#111" stroke-width="0.6"/>
<line x1="33" y1="111.85" x2="34.2" y2="111.85" stroke="#111" stroke-width="0.6"/>
<line x1="33" y1="110.86" x2="34.2" y2="110.86" stroke="#111" stroke-width="0.6"/>
<line x1="33" y1="109.98" x2="34.2" y2="109.98" stroke="#111" stroke-width="0.6"/>
<line x1="32" y1="126.28" x2="34.2" y2="126.28" stroke="#111" stroke-width="1"/>
<text x="30.6" y="125.98" font-size="8.3" text-anchor="end" font-weight="bold" fill="#111" dominant-baseline="central">10<tspan font-size="5.5" dy="-2.7">-12</tspan></text>
<line x1="33" y1="138.22" x2="34.2" y2="138.22" stroke="#111" stroke-width="0.6"/>
<line x1="33" y1="135.21" x2="34.2" y2="135.21" stroke="#111" stroke-width="0.6"/>
<line x1="33" y1="133.08" x2="34.2" y2="133.08" stroke="#111" stroke-width="0.6"/>
<line x1="33" y1="131.42" x2="34.2" y2="131.42" stroke="#111" stroke-width="0.6"/>
<line x1="33" y1="130.07" x2="34.2" y2="130.07" stroke="#111" stroke-width="0.6"/>
<line x1="33" y1="128.93" x2="34.2" y2="128.93" stroke="#111" stroke-width="0.6"/>
<line x1="33" y1="127.94" x2="34.2" y2="127.94" stroke="#111" stroke-width="0.6"/>
<line x1="33" y1="127.06" x2="34.2" y2="127.06" stroke="#111" stroke-width="0.6"/>
<line x1="32" y1="143.36" x2="34.2" y2="143.36" stroke="#111" stroke-width="1"/>
<text x="30.6" y="143.06" font-size="8.3" text-anchor="end" font-weight="bold" fill="#111" dominant-baseline="central">10<tspan font-size="5.5" dy="-2.7">-13</tspan></text>
<line x1="33" y1="155.3" x2="34.2" y2="155.3" stroke="#111" stroke-width="0.6"/>
<line x1="33" y1="152.29" x2="34.2" y2="152.29" stroke="#111" stroke-width="0.6"/>
<line x1="33" y1="150.16" x2="34.2" y2="150.16" stroke="#111" stroke-width="0.6"/>
<line x1="33" y1="148.5" x2="34.2" y2="148.5" stroke="#111" stroke-width="0.6"/>
<line x1="33" y1="147.15" x2="34.2" y2="147.15" stroke="#111" stroke-width="0.6"/>
<line x1="33" y1="146.01" x2="34.2" y2="146.01" stroke="#111" stroke-width="0.6"/>
<line x1="33" y1="145.02" x2="34.2" y2="145.02" stroke="#111" stroke-width="0.6"/>
<line x1="33" y1="144.14" x2="34.2" y2="144.14" stroke="#111" stroke-width="0.6"/>
<line x1="32" y1="160.44" x2="34.2" y2="160.44" stroke="#111" stroke-width="1"/>
<text x="30.6" y="160.14" font-size="8.3" text-anchor="end" font-weight="bold" fill="#111" dominant-baseline="central">10<tspan font-size="5.5" dy="-2.7">-14</tspan></text>
<line x1="34.18" y1="166.5" x2="34.18" y2="168.9" stroke="#111" stroke-width="1"/>
<text x="34.18" y="175.2" font-size="8.3" text-anchor="middle" font-weight="bold" fill="#111" dominant-baseline="central">-4</text>
<line x1="56.46" y1="166.5" x2="56.46" y2="167.9" stroke="#111" stroke-width="1"/>
<line x1="78.74" y1="166.5" x2="78.74" y2="168.9" stroke="#111" stroke-width="1"/>
<text x="78.74" y="175.2" font-size="8.3" text-anchor="middle" font-weight="bold" fill="#111" dominant-baseline="central">-2</text>
<line x1="101.02" y1="166.5" x2="101.02" y2="167.9" stroke="#111" stroke-width="1"/>
<line x1="123.3" y1="166.5" x2="123.3" y2="168.9" stroke="#111" stroke-width="1"/>
<text x="123.3" y="175.2" font-size="8.3" text-anchor="middle" font-weight="bold" fill="#111" dominant-baseline="central">0</text>
<line x1="145.58" y1="166.5" x2="145.58" y2="167.9" stroke="#111" stroke-width="1"/>
<line x1="167.86" y1="166.5" x2="167.86" y2="168.9" stroke="#111" stroke-width="1"/>
<text x="167.86" y="175.2" font-size="8.3" text-anchor="middle" font-weight="bold" fill="#111" dominant-baseline="central">2</text>
<line x1="190.14" y1="166.5" x2="190.14" y2="167.9" stroke="#111" stroke-width="1"/>
<line x1="212.42" y1="166.5" x2="212.42" y2="168.9" stroke="#111" stroke-width="1"/>
<text x="212.42" y="175.2" font-size="8.3" text-anchor="middle" font-weight="bold" fill="#111" dominant-baseline="central">4</text>
<text x="123.3" y="186" font-size="8.6" text-anchor="middle" font-weight="bold" fill="#111" dominant-baseline="central">Bias voltage(V)</text>
<text x="5" y="95.5" font-size="8.6" text-anchor="middle" font-weight="bold" fill="#111" dominant-baseline="central" transform="rotate(-90 5 95.5)">Current(A)</text>
<line x1="427.6" y1="35.5" x2="427.6" y2="165.7" stroke="#222" stroke-width="0.7" stroke-dasharray="1.6,1.2"/>
<line x1="269" y1="161.3" x2="425" y2="161.3" stroke="#888" stroke-width="0.9"/>
<polygon points="266.5,161.3 271.5,159.5 271.5,163.1" fill="#888" stroke="none" stroke-width="1"/>
<polygon points="427.2,161.3 422.2,159.5 422.2,163.1" fill="#888" stroke="none" stroke-width="1"/>
<text x="348.4" y="153.4" font-size="8.8" text-anchor="middle" font-weight="bold" fill="#111" dominant-baseline="central">LDR=160.3 dB</text>
<line x1="265.2" y1="36.8" x2="433.9" y2="162.4" stroke="#e8242c" stroke-width="1.3"/>
<circle cx="265.2" cy="36.8" r="1.55" fill="#f8a860" stroke="#f07a32" stroke-width="0.9"/>
<circle cx="279.2" cy="45.2" r="1.55" fill="#f8a860" stroke="#f07a32" stroke-width="0.9"/>
<circle cx="286" cy="52.6" r="1.55" fill="#f8a860" stroke="#f07a32" stroke-width="0.9"/>
<circle cx="292.7" cy="59.2" r="1.55" fill="#f8a860" stroke="#f07a32" stroke-width="0.9"/>
<circle cx="299.7" cy="63.9" r="1.55" fill="#f8a860" stroke="#f07a32" stroke-width="0.9"/>
<circle cx="309.9" cy="71.5" r="1.55" fill="#f8a860" stroke="#f07a32" stroke-width="0.9"/>
<circle cx="316.9" cy="76.2" r="1.55" fill="#f8a860" stroke="#f07a32" stroke-width="0.9"/>
<circle cx="323.9" cy="80.9" r="1.55" fill="#f8a860" stroke="#f07a32" stroke-width="0.9"/>
<circle cx="338.3" cy="90.7" r="1.55" fill="#f8a860" stroke="#f07a32" stroke-width="0.9"/>
<circle cx="344.9" cy="94.9" r="1.55" fill="#f8a860" stroke="#f07a32" stroke-width="0.9"/>
<circle cx="351.4" cy="100.9" r="1.55" fill="#f8a860" stroke="#f07a32" stroke-width="0.9"/>
<circle cx="358.4" cy="105.4" r="1.55" fill="#f8a860" stroke="#f07a32" stroke-width="0.9"/>
<circle cx="365.4" cy="111" r="1.55" fill="#f8a860" stroke="#f07a32" stroke-width="0.9"/>
<circle cx="375.9" cy="119.4" r="1.55" fill="#f8a860" stroke="#f07a32" stroke-width="0.9"/>
<circle cx="382.2" cy="126.4" r="1.55" fill="#f8a860" stroke="#f07a32" stroke-width="0.9"/>
<circle cx="389.6" cy="132" r="1.55" fill="#f8a860" stroke="#f07a32" stroke-width="0.9"/>
<circle cx="396.2" cy="135.9" r="1.55" fill="#f8a860" stroke="#f07a32" stroke-width="0.9"/>
<circle cx="403.2" cy="141.2" r="1.55" fill="#f8a860" stroke="#f07a32" stroke-width="0.9"/>
<circle cx="413.7" cy="147.5" r="1.55" fill="#f8a860" stroke="#f07a32" stroke-width="0.9"/>
<circle cx="420.6" cy="151.3" r="1.55" fill="#f8a860" stroke="#f07a32" stroke-width="0.9"/>
<circle cx="427.2" cy="157.1" r="1.55" fill="#f8a860" stroke="#f07a32" stroke-width="0.9"/>
<circle cx="433.9" cy="159.7" r="1.55" fill="#f8a860" stroke="#f07a32" stroke-width="0.9"/>
<line x1="265.2" y1="156.4" x2="434.6" y2="33.6" stroke="#111" stroke-width="1.3"/>
<circle cx="265.2" cy="157.4" r="1.55" fill="none" stroke="#111" stroke-width="1.05"/>
<circle cx="279.2" cy="147.5" r="1.55" fill="none" stroke="#111" stroke-width="1.05"/>
<circle cx="286" cy="142" r="1.55" fill="none" stroke="#111" stroke-width="1.05"/>
<circle cx="292.7" cy="135.5" r="1.55" fill="none" stroke="#111" stroke-width="1.05"/>
<circle cx="299.7" cy="130" r="1.55" fill="none" stroke="#111" stroke-width="1.05"/>
<circle cx="309.9" cy="123.6" r="1.55" fill="none" stroke="#111" stroke-width="1.05"/>
<circle cx="316.9" cy="118.6" r="1.55" fill="none" stroke="#111" stroke-width="1.05"/>
<circle cx="323.9" cy="113.3" r="1.55" fill="none" stroke="#111" stroke-width="1.05"/>
<circle cx="338.3" cy="103.1" r="1.55" fill="none" stroke="#111" stroke-width="1.05"/>
<circle cx="351.4" cy="91.6" r="1.55" fill="none" stroke="#111" stroke-width="1.05"/>
<circle cx="358" cy="88.5" r="1.55" fill="none" stroke="#111" stroke-width="1.05"/>
<circle cx="365" cy="83.6" r="1.55" fill="none" stroke="#111" stroke-width="1.05"/>
<circle cx="375.5" cy="75.9" r="1.55" fill="none" stroke="#111" stroke-width="1.05"/>
<circle cx="382.6" cy="71" r="1.55" fill="none" stroke="#111" stroke-width="1.05"/>
<circle cx="389.6" cy="66" r="1.55" fill="none" stroke="#111" stroke-width="1.05"/>
<circle cx="396.2" cy="61" r="1.55" fill="none" stroke="#111" stroke-width="1.05"/>
<circle cx="403.2" cy="56" r="1.55" fill="none" stroke="#111" stroke-width="1.05"/>
<circle cx="413.7" cy="48.2" r="1.55" fill="none" stroke="#111" stroke-width="1.05"/>
<circle cx="420.6" cy="44.1" r="1.55" fill="none" stroke="#111" stroke-width="1.05"/>
<circle cx="427.2" cy="37.7" r="1.55" fill="none" stroke="#111" stroke-width="1.05"/>
<circle cx="434.6" cy="37.7" r="1.55" fill="none" stroke="#111" stroke-width="1.05"/>
<line x1="258.9" y1="22.2" x2="438.1" y2="22.2" stroke="#111" stroke-width="1.2"/>
<line x1="258.9" y1="22.2" x2="258.9" y2="165.7" stroke="#111" stroke-width="1.2"/>
<line x1="258.9" y1="165.7" x2="438.1" y2="165.7" stroke="#111" stroke-width="1.2"/>
<line x1="438.1" y1="22.2" x2="438.1" y2="165.7" stroke="#f07a32" stroke-width="1.2"/>
<line x1="256.7" y1="36.8" x2="258.9" y2="36.8" stroke="#111" stroke-width="1"/>
<text x="255.2" y="36.6" font-size="8.3" text-anchor="end" font-weight="bold" fill="#111" dominant-baseline="central">10<tspan font-size="5.5" dy="-2.7">-2</tspan></text>
<line x1="257.7" y1="47.21" x2="258.9" y2="47.21" stroke="#111" stroke-width="0.6"/>
<line x1="257.7" y1="44.59" x2="258.9" y2="44.59" stroke="#111" stroke-width="0.6"/>
<line x1="257.7" y1="42.73" x2="258.9" y2="42.73" stroke="#111" stroke-width="0.6"/>
<line x1="257.7" y1="41.29" x2="258.9" y2="41.29" stroke="#111" stroke-width="0.6"/>
<line x1="257.7" y1="40.11" x2="258.9" y2="40.11" stroke="#111" stroke-width="0.6"/>
<line x1="257.7" y1="39.11" x2="258.9" y2="39.11" stroke="#111" stroke-width="0.6"/>
<line x1="257.7" y1="38.24" x2="258.9" y2="38.24" stroke="#111" stroke-width="0.6"/>
<line x1="257.7" y1="37.48" x2="258.9" y2="37.48" stroke="#111" stroke-width="0.6"/>
<line x1="256.7" y1="51.7" x2="258.9" y2="51.7" stroke="#111" stroke-width="1"/>
<text x="255.2" y="51.5" font-size="8.3" text-anchor="end" font-weight="bold" fill="#111" dominant-baseline="central">10<tspan font-size="5.5" dy="-2.7">-3</tspan></text>
<line x1="257.7" y1="62.11" x2="258.9" y2="62.11" stroke="#111" stroke-width="0.6"/>
<line x1="257.7" y1="59.49" x2="258.9" y2="59.49" stroke="#111" stroke-width="0.6"/>
<line x1="257.7" y1="57.63" x2="258.9" y2="57.63" stroke="#111" stroke-width="0.6"/>
<line x1="257.7" y1="56.19" x2="258.9" y2="56.19" stroke="#111" stroke-width="0.6"/>
<line x1="257.7" y1="55.01" x2="258.9" y2="55.01" stroke="#111" stroke-width="0.6"/>
<line x1="257.7" y1="54.01" x2="258.9" y2="54.01" stroke="#111" stroke-width="0.6"/>
<line x1="257.7" y1="53.14" x2="258.9" y2="53.14" stroke="#111" stroke-width="0.6"/>
<line x1="257.7" y1="52.38" x2="258.9" y2="52.38" stroke="#111" stroke-width="0.6"/>
<line x1="256.7" y1="66.6" x2="258.9" y2="66.6" stroke="#111" stroke-width="1"/>
<text x="255.2" y="66.4" font-size="8.3" text-anchor="end" font-weight="bold" fill="#111" dominant-baseline="central">10<tspan font-size="5.5" dy="-2.7">-4</tspan></text>
<line x1="257.7" y1="77.01" x2="258.9" y2="77.01" stroke="#111" stroke-width="0.6"/>
<line x1="257.7" y1="74.39" x2="258.9" y2="74.39" stroke="#111" stroke-width="0.6"/>
<line x1="257.7" y1="72.53" x2="258.9" y2="72.53" stroke="#111" stroke-width="0.6"/>
<line x1="257.7" y1="71.09" x2="258.9" y2="71.09" stroke="#111" stroke-width="0.6"/>
<line x1="257.7" y1="69.91" x2="258.9" y2="69.91" stroke="#111" stroke-width="0.6"/>
<line x1="257.7" y1="68.91" x2="258.9" y2="68.91" stroke="#111" stroke-width="0.6"/>
<line x1="257.7" y1="68.04" x2="258.9" y2="68.04" stroke="#111" stroke-width="0.6"/>
<line x1="257.7" y1="67.28" x2="258.9" y2="67.28" stroke="#111" stroke-width="0.6"/>
<line x1="256.7" y1="81.5" x2="258.9" y2="81.5" stroke="#111" stroke-width="1"/>
<text x="255.2" y="81.3" font-size="8.3" text-anchor="end" font-weight="bold" fill="#111" dominant-baseline="central">10<tspan font-size="5.5" dy="-2.7">-5</tspan></text>
<line x1="257.7" y1="91.91" x2="258.9" y2="91.91" stroke="#111" stroke-width="0.6"/>
<line x1="257.7" y1="89.29" x2="258.9" y2="89.29" stroke="#111" stroke-width="0.6"/>
<line x1="257.7" y1="87.43" x2="258.9" y2="87.43" stroke="#111" stroke-width="0.6"/>
<line x1="257.7" y1="85.99" x2="258.9" y2="85.99" stroke="#111" stroke-width="0.6"/>
<line x1="257.7" y1="84.81" x2="258.9" y2="84.81" stroke="#111" stroke-width="0.6"/>
<line x1="257.7" y1="83.81" x2="258.9" y2="83.81" stroke="#111" stroke-width="0.6"/>
<line x1="257.7" y1="82.94" x2="258.9" y2="82.94" stroke="#111" stroke-width="0.6"/>
<line x1="257.7" y1="82.18" x2="258.9" y2="82.18" stroke="#111" stroke-width="0.6"/>
<line x1="256.7" y1="96.4" x2="258.9" y2="96.4" stroke="#111" stroke-width="1"/>
<text x="255.2" y="96.2" font-size="8.3" text-anchor="end" font-weight="bold" fill="#111" dominant-baseline="central">10<tspan font-size="5.5" dy="-2.7">-6</tspan></text>
<line x1="257.7" y1="106.81" x2="258.9" y2="106.81" stroke="#111" stroke-width="0.6"/>
<line x1="257.7" y1="104.19" x2="258.9" y2="104.19" stroke="#111" stroke-width="0.6"/>
<line x1="257.7" y1="102.33" x2="258.9" y2="102.33" stroke="#111" stroke-width="0.6"/>
<line x1="257.7" y1="100.89" x2="258.9" y2="100.89" stroke="#111" stroke-width="0.6"/>
<line x1="257.7" y1="99.71" x2="258.9" y2="99.71" stroke="#111" stroke-width="0.6"/>
<line x1="257.7" y1="98.71" x2="258.9" y2="98.71" stroke="#111" stroke-width="0.6"/>
<line x1="257.7" y1="97.84" x2="258.9" y2="97.84" stroke="#111" stroke-width="0.6"/>
<line x1="257.7" y1="97.08" x2="258.9" y2="97.08" stroke="#111" stroke-width="0.6"/>
<line x1="256.7" y1="111.3" x2="258.9" y2="111.3" stroke="#111" stroke-width="1"/>
<text x="255.2" y="111.1" font-size="8.3" text-anchor="end" font-weight="bold" fill="#111" dominant-baseline="central">10<tspan font-size="5.5" dy="-2.7">-7</tspan></text>
<line x1="257.7" y1="121.71" x2="258.9" y2="121.71" stroke="#111" stroke-width="0.6"/>
<line x1="257.7" y1="119.09" x2="258.9" y2="119.09" stroke="#111" stroke-width="0.6"/>
<line x1="257.7" y1="117.23" x2="258.9" y2="117.23" stroke="#111" stroke-width="0.6"/>
<line x1="257.7" y1="115.79" x2="258.9" y2="115.79" stroke="#111" stroke-width="0.6"/>
<line x1="257.7" y1="114.61" x2="258.9" y2="114.61" stroke="#111" stroke-width="0.6"/>
<line x1="257.7" y1="113.61" x2="258.9" y2="113.61" stroke="#111" stroke-width="0.6"/>
<line x1="257.7" y1="112.74" x2="258.9" y2="112.74" stroke="#111" stroke-width="0.6"/>
<line x1="257.7" y1="111.98" x2="258.9" y2="111.98" stroke="#111" stroke-width="0.6"/>
<line x1="256.7" y1="126.2" x2="258.9" y2="126.2" stroke="#111" stroke-width="1"/>
<text x="255.2" y="126" font-size="8.3" text-anchor="end" font-weight="bold" fill="#111" dominant-baseline="central">10<tspan font-size="5.5" dy="-2.7">-8</tspan></text>
<line x1="257.7" y1="136.61" x2="258.9" y2="136.61" stroke="#111" stroke-width="0.6"/>
<line x1="257.7" y1="133.99" x2="258.9" y2="133.99" stroke="#111" stroke-width="0.6"/>
<line x1="257.7" y1="132.13" x2="258.9" y2="132.13" stroke="#111" stroke-width="0.6"/>
<line x1="257.7" y1="130.69" x2="258.9" y2="130.69" stroke="#111" stroke-width="0.6"/>
<line x1="257.7" y1="129.51" x2="258.9" y2="129.51" stroke="#111" stroke-width="0.6"/>
<line x1="257.7" y1="128.51" x2="258.9" y2="128.51" stroke="#111" stroke-width="0.6"/>
<line x1="257.7" y1="127.64" x2="258.9" y2="127.64" stroke="#111" stroke-width="0.6"/>
<line x1="257.7" y1="126.88" x2="258.9" y2="126.88" stroke="#111" stroke-width="0.6"/>
<line x1="256.7" y1="141.1" x2="258.9" y2="141.1" stroke="#111" stroke-width="1"/>
<text x="255.2" y="140.9" font-size="8.3" text-anchor="end" font-weight="bold" fill="#111" dominant-baseline="central">10<tspan font-size="5.5" dy="-2.7">-9</tspan></text>
<line x1="257.7" y1="151.51" x2="258.9" y2="151.51" stroke="#111" stroke-width="0.6"/>
<line x1="257.7" y1="148.89" x2="258.9" y2="148.89" stroke="#111" stroke-width="0.6"/>
<line x1="257.7" y1="147.03" x2="258.9" y2="147.03" stroke="#111" stroke-width="0.6"/>
<line x1="257.7" y1="145.59" x2="258.9" y2="145.59" stroke="#111" stroke-width="0.6"/>
<line x1="257.7" y1="144.41" x2="258.9" y2="144.41" stroke="#111" stroke-width="0.6"/>
<line x1="257.7" y1="143.41" x2="258.9" y2="143.41" stroke="#111" stroke-width="0.6"/>
<line x1="257.7" y1="142.54" x2="258.9" y2="142.54" stroke="#111" stroke-width="0.6"/>
<line x1="257.7" y1="141.78" x2="258.9" y2="141.78" stroke="#111" stroke-width="0.6"/>
<line x1="256.7" y1="156" x2="258.9" y2="156" stroke="#111" stroke-width="1"/>
<text x="255.2" y="155.8" font-size="8.3" text-anchor="end" font-weight="bold" fill="#111" dominant-baseline="central">10<tspan font-size="5.5" dy="-2.7">-10</tspan></text>
<line x1="257.7" y1="32.31" x2="258.9" y2="32.31" stroke="#111" stroke-width="0.6"/>
<line x1="257.7" y1="29.69" x2="258.9" y2="29.69" stroke="#111" stroke-width="0.6"/>
<line x1="257.7" y1="27.83" x2="258.9" y2="27.83" stroke="#111" stroke-width="0.6"/>
<line x1="257.7" y1="26.39" x2="258.9" y2="26.39" stroke="#111" stroke-width="0.6"/>
<line x1="257.7" y1="25.21" x2="258.9" y2="25.21" stroke="#111" stroke-width="0.6"/>
<line x1="257.7" y1="24.21" x2="258.9" y2="24.21" stroke="#111" stroke-width="0.6"/>
<line x1="257.7" y1="23.34" x2="258.9" y2="23.34" stroke="#111" stroke-width="0.6"/>
<line x1="257.7" y1="22.58" x2="258.9" y2="22.58" stroke="#111" stroke-width="0.6"/>
<line x1="257.7" y1="163.79" x2="258.9" y2="163.79" stroke="#111" stroke-width="0.6"/>
<line x1="257.7" y1="161.93" x2="258.9" y2="161.93" stroke="#111" stroke-width="0.6"/>
<line x1="257.7" y1="160.49" x2="258.9" y2="160.49" stroke="#111" stroke-width="0.6"/>
<line x1="257.7" y1="159.31" x2="258.9" y2="159.31" stroke="#111" stroke-width="0.6"/>
<line x1="257.7" y1="158.31" x2="258.9" y2="158.31" stroke="#111" stroke-width="0.6"/>
<line x1="257.7" y1="157.44" x2="258.9" y2="157.44" stroke="#111" stroke-width="0.6"/>
<line x1="257.7" y1="156.68" x2="258.9" y2="156.68" stroke="#111" stroke-width="0.6"/>
<line x1="265.2" y1="165.7" x2="265.2" y2="168.1" stroke="#111" stroke-width="1"/>
<text x="265.2" y="175.8" font-size="8.3" text-anchor="middle" font-weight="bold" fill="#111" dominant-baseline="central">10<tspan font-size="5.5" dy="-2.7">-9</tspan></text>
<line x1="270.53" y1="165.7" x2="270.53" y2="167" stroke="#111" stroke-width="0.6"/>
<line x1="273.65" y1="165.7" x2="273.65" y2="167" stroke="#111" stroke-width="0.6"/>
<line x1="275.86" y1="165.7" x2="275.86" y2="167" stroke="#111" stroke-width="0.6"/>
<line x1="277.57" y1="165.7" x2="277.57" y2="167" stroke="#111" stroke-width="0.6"/>
<line x1="278.97" y1="165.7" x2="278.97" y2="167" stroke="#111" stroke-width="0.6"/>
<line x1="280.16" y1="165.7" x2="280.16" y2="167" stroke="#111" stroke-width="0.6"/>
<line x1="281.18" y1="165.7" x2="281.18" y2="167" stroke="#111" stroke-width="0.6"/>
<line x1="282.09" y1="165.7" x2="282.09" y2="167" stroke="#111" stroke-width="0.6"/>
<line x1="282.9" y1="165.7" x2="282.9" y2="168.1" stroke="#111" stroke-width="1"/>
<text x="282.9" y="175.8" font-size="8.3" text-anchor="middle" font-weight="bold" fill="#111" dominant-baseline="central">10<tspan font-size="5.5" dy="-2.7">-8</tspan></text>
<line x1="288.23" y1="165.7" x2="288.23" y2="167" stroke="#111" stroke-width="0.6"/>
<line x1="291.35" y1="165.7" x2="291.35" y2="167" stroke="#111" stroke-width="0.6"/>
<line x1="293.56" y1="165.7" x2="293.56" y2="167" stroke="#111" stroke-width="0.6"/>
<line x1="295.27" y1="165.7" x2="295.27" y2="167" stroke="#111" stroke-width="0.6"/>
<line x1="296.67" y1="165.7" x2="296.67" y2="167" stroke="#111" stroke-width="0.6"/>
<line x1="297.86" y1="165.7" x2="297.86" y2="167" stroke="#111" stroke-width="0.6"/>
<line x1="298.88" y1="165.7" x2="298.88" y2="167" stroke="#111" stroke-width="0.6"/>
<line x1="299.79" y1="165.7" x2="299.79" y2="167" stroke="#111" stroke-width="0.6"/>
<line x1="300.6" y1="165.7" x2="300.6" y2="168.1" stroke="#111" stroke-width="1"/>
<text x="300.6" y="175.8" font-size="8.3" text-anchor="middle" font-weight="bold" fill="#111" dominant-baseline="central">10<tspan font-size="5.5" dy="-2.7">-7</tspan></text>
<line x1="305.93" y1="165.7" x2="305.93" y2="167" stroke="#111" stroke-width="0.6"/>
<line x1="309.05" y1="165.7" x2="309.05" y2="167" stroke="#111" stroke-width="0.6"/>
<line x1="311.26" y1="165.7" x2="311.26" y2="167" stroke="#111" stroke-width="0.6"/>
<line x1="312.97" y1="165.7" x2="312.97" y2="167" stroke="#111" stroke-width="0.6"/>
<line x1="314.37" y1="165.7" x2="314.37" y2="167" stroke="#111" stroke-width="0.6"/>
<line x1="315.56" y1="165.7" x2="315.56" y2="167" stroke="#111" stroke-width="0.6"/>
<line x1="316.58" y1="165.7" x2="316.58" y2="167" stroke="#111" stroke-width="0.6"/>
<line x1="317.49" y1="165.7" x2="317.49" y2="167" stroke="#111" stroke-width="0.6"/>
<line x1="318.3" y1="165.7" x2="318.3" y2="168.1" stroke="#111" stroke-width="1"/>
<text x="318.3" y="175.8" font-size="8.3" text-anchor="middle" font-weight="bold" fill="#111" dominant-baseline="central">10<tspan font-size="5.5" dy="-2.7">-6</tspan></text>
<line x1="323.63" y1="165.7" x2="323.63" y2="167" stroke="#111" stroke-width="0.6"/>
<line x1="326.75" y1="165.7" x2="326.75" y2="167" stroke="#111" stroke-width="0.6"/>
<line x1="328.96" y1="165.7" x2="328.96" y2="167" stroke="#111" stroke-width="0.6"/>
<line x1="330.67" y1="165.7" x2="330.67" y2="167" stroke="#111" stroke-width="0.6"/>
<line x1="332.07" y1="165.7" x2="332.07" y2="167" stroke="#111" stroke-width="0.6"/>
<line x1="333.26" y1="165.7" x2="333.26" y2="167" stroke="#111" stroke-width="0.6"/>
<line x1="334.28" y1="165.7" x2="334.28" y2="167" stroke="#111" stroke-width="0.6"/>
<line x1="335.19" y1="165.7" x2="335.19" y2="167" stroke="#111" stroke-width="0.6"/>
<line x1="336" y1="165.7" x2="336" y2="168.1" stroke="#111" stroke-width="1"/>
<text x="336" y="175.8" font-size="8.3" text-anchor="middle" font-weight="bold" fill="#111" dominant-baseline="central">10<tspan font-size="5.5" dy="-2.7">-5</tspan></text>
<line x1="341.33" y1="165.7" x2="341.33" y2="167" stroke="#111" stroke-width="0.6"/>
<line x1="344.45" y1="165.7" x2="344.45" y2="167" stroke="#111" stroke-width="0.6"/>
<line x1="346.66" y1="165.7" x2="346.66" y2="167" stroke="#111" stroke-width="0.6"/>
<line x1="348.37" y1="165.7" x2="348.37" y2="167" stroke="#111" stroke-width="0.6"/>
<line x1="349.77" y1="165.7" x2="349.77" y2="167" stroke="#111" stroke-width="0.6"/>
<line x1="350.96" y1="165.7" x2="350.96" y2="167" stroke="#111" stroke-width="0.6"/>
<line x1="351.98" y1="165.7" x2="351.98" y2="167" stroke="#111" stroke-width="0.6"/>
<line x1="352.89" y1="165.7" x2="352.89" y2="167" stroke="#111" stroke-width="0.6"/>
<line x1="353.7" y1="165.7" x2="353.7" y2="168.1" stroke="#111" stroke-width="1"/>
<text x="353.7" y="175.8" font-size="8.3" text-anchor="middle" font-weight="bold" fill="#111" dominant-baseline="central">10<tspan font-size="5.5" dy="-2.7">-4</tspan></text>
<line x1="359.03" y1="165.7" x2="359.03" y2="167" stroke="#111" stroke-width="0.6"/>
<line x1="362.15" y1="165.7" x2="362.15" y2="167" stroke="#111" stroke-width="0.6"/>
<line x1="364.36" y1="165.7" x2="364.36" y2="167" stroke="#111" stroke-width="0.6"/>
<line x1="366.07" y1="165.7" x2="366.07" y2="167" stroke="#111" stroke-width="0.6"/>
<line x1="367.47" y1="165.7" x2="367.47" y2="167" stroke="#111" stroke-width="0.6"/>
<line x1="368.66" y1="165.7" x2="368.66" y2="167" stroke="#111" stroke-width="0.6"/>
<line x1="369.68" y1="165.7" x2="369.68" y2="167" stroke="#111" stroke-width="0.6"/>
<line x1="370.59" y1="165.7" x2="370.59" y2="167" stroke="#111" stroke-width="0.6"/>
<line x1="371.4" y1="165.7" x2="371.4" y2="168.1" stroke="#111" stroke-width="1"/>
<text x="371.4" y="175.8" font-size="8.3" text-anchor="middle" font-weight="bold" fill="#111" dominant-baseline="central">10<tspan font-size="5.5" dy="-2.7">-3</tspan></text>
<line x1="376.73" y1="165.7" x2="376.73" y2="167" stroke="#111" stroke-width="0.6"/>
<line x1="379.85" y1="165.7" x2="379.85" y2="167" stroke="#111" stroke-width="0.6"/>
<line x1="382.06" y1="165.7" x2="382.06" y2="167" stroke="#111" stroke-width="0.6"/>
<line x1="383.77" y1="165.7" x2="383.77" y2="167" stroke="#111" stroke-width="0.6"/>
<line x1="385.17" y1="165.7" x2="385.17" y2="167" stroke="#111" stroke-width="0.6"/>
<line x1="386.36" y1="165.7" x2="386.36" y2="167" stroke="#111" stroke-width="0.6"/>
<line x1="387.38" y1="165.7" x2="387.38" y2="167" stroke="#111" stroke-width="0.6"/>
<line x1="388.29" y1="165.7" x2="388.29" y2="167" stroke="#111" stroke-width="0.6"/>
<line x1="389.1" y1="165.7" x2="389.1" y2="168.1" stroke="#111" stroke-width="1"/>
<text x="389.1" y="175.8" font-size="8.3" text-anchor="middle" font-weight="bold" fill="#111" dominant-baseline="central">10<tspan font-size="5.5" dy="-2.7">-2</tspan></text>
<line x1="394.43" y1="165.7" x2="394.43" y2="167" stroke="#111" stroke-width="0.6"/>
<line x1="397.55" y1="165.7" x2="397.55" y2="167" stroke="#111" stroke-width="0.6"/>
<line x1="399.76" y1="165.7" x2="399.76" y2="167" stroke="#111" stroke-width="0.6"/>
<line x1="401.47" y1="165.7" x2="401.47" y2="167" stroke="#111" stroke-width="0.6"/>
<line x1="402.87" y1="165.7" x2="402.87" y2="167" stroke="#111" stroke-width="0.6"/>
<line x1="404.06" y1="165.7" x2="404.06" y2="167" stroke="#111" stroke-width="0.6"/>
<line x1="405.08" y1="165.7" x2="405.08" y2="167" stroke="#111" stroke-width="0.6"/>
<line x1="405.99" y1="165.7" x2="405.99" y2="167" stroke="#111" stroke-width="0.6"/>
<line x1="406.8" y1="165.7" x2="406.8" y2="168.1" stroke="#111" stroke-width="1"/>
<text x="406.8" y="175.8" font-size="8.3" text-anchor="middle" font-weight="bold" fill="#111" dominant-baseline="central">10<tspan font-size="5.5" dy="-2.7">-1</tspan></text>
<line x1="412.13" y1="165.7" x2="412.13" y2="167" stroke="#111" stroke-width="0.6"/>
<line x1="415.25" y1="165.7" x2="415.25" y2="167" stroke="#111" stroke-width="0.6"/>
<line x1="417.46" y1="165.7" x2="417.46" y2="167" stroke="#111" stroke-width="0.6"/>
<line x1="419.17" y1="165.7" x2="419.17" y2="167" stroke="#111" stroke-width="0.6"/>
<line x1="420.57" y1="165.7" x2="420.57" y2="167" stroke="#111" stroke-width="0.6"/>
<line x1="421.76" y1="165.7" x2="421.76" y2="167" stroke="#111" stroke-width="0.6"/>
<line x1="422.78" y1="165.7" x2="422.78" y2="167" stroke="#111" stroke-width="0.6"/>
<line x1="423.69" y1="165.7" x2="423.69" y2="167" stroke="#111" stroke-width="0.6"/>
<line x1="424.5" y1="165.7" x2="424.5" y2="168.1" stroke="#111" stroke-width="1"/>
<text x="424.5" y="175.8" font-size="8.3" text-anchor="middle" font-weight="bold" fill="#111" dominant-baseline="central">10<tspan font-size="5.5" dy="-2.7">0</tspan></text>
<line x1="429.83" y1="165.7" x2="429.83" y2="167" stroke="#111" stroke-width="0.6"/>
<line x1="432.95" y1="165.7" x2="432.95" y2="167" stroke="#111" stroke-width="0.6"/>
<line x1="435.16" y1="165.7" x2="435.16" y2="167" stroke="#111" stroke-width="0.6"/>
<line x1="436.87" y1="165.7" x2="436.87" y2="167" stroke="#111" stroke-width="0.6"/>
<line x1="438.1" y1="54.7" x2="440.7" y2="54.7" stroke="#f07a32" stroke-width="1"/>
<text x="442.5" y="54.5" font-size="8.3" text-anchor="start" font-weight="bold" fill="#f07a32" dominant-baseline="central">10<tspan font-size="5.5" dy="-2.7">3</tspan></text>
<line x1="438.1" y1="134.7" x2="440.7" y2="134.7" stroke="#f07a32" stroke-width="1"/>
<text x="442.5" y="134.5" font-size="8.3" text-anchor="start" font-weight="bold" fill="#f07a32" dominant-baseline="central">10<tspan font-size="5.5" dy="-2.7">2</tspan></text>
<line x1="438.1" y1="110.62" x2="439.6" y2="110.62" stroke="#f07a32" stroke-width="0.7"/>
<line x1="438.1" y1="96.53" x2="439.6" y2="96.53" stroke="#f07a32" stroke-width="0.7"/>
<line x1="438.1" y1="86.54" x2="439.6" y2="86.54" stroke="#f07a32" stroke-width="0.7"/>
<line x1="438.1" y1="78.78" x2="439.6" y2="78.78" stroke="#f07a32" stroke-width="0.7"/>
<line x1="438.1" y1="72.45" x2="439.6" y2="72.45" stroke="#f07a32" stroke-width="0.7"/>
<line x1="438.1" y1="67.09" x2="439.6" y2="67.09" stroke="#f07a32" stroke-width="0.7"/>
<line x1="438.1" y1="62.45" x2="439.6" y2="62.45" stroke="#f07a32" stroke-width="0.7"/>
<line x1="438.1" y1="58.36" x2="439.6" y2="58.36" stroke="#f07a32" stroke-width="0.7"/>
<line x1="438.1" y1="158.78" x2="439.6" y2="158.78" stroke="#f07a32" stroke-width="0.7"/>
<line x1="438.1" y1="152.45" x2="439.6" y2="152.45" stroke="#f07a32" stroke-width="0.7"/>
<line x1="438.1" y1="147.09" x2="439.6" y2="147.09" stroke="#f07a32" stroke-width="0.7"/>
<line x1="438.1" y1="142.45" x2="439.6" y2="142.45" stroke="#f07a32" stroke-width="0.7"/>
<line x1="438.1" y1="138.36" x2="439.6" y2="138.36" stroke="#f07a32" stroke-width="0.7"/>
<text x="229.2" y="95" font-size="8.6" text-anchor="middle" font-weight="bold" fill="#111" dominant-baseline="central" transform="rotate(-90 229.2 95)" xml:space="preserve">Photocurrent  (A)</text>
<text x="349.4" y="191.2" font-size="8.6" text-anchor="middle" font-weight="bold" fill="#111" dominant-baseline="central" xml:space="preserve">Light intensity  (W cm<tspan font-size="5.5" dy="-3.2">-2</tspan><tspan dy="3.2">)</tspan></text>
<text x="462.7" y="86.5" font-size="8.6" text-anchor="middle" font-weight="bold" fill="#f07a32" dominant-baseline="central" transform="rotate(-90 462.7 86.5)">Responsivity(A W<tspan font-size="5.5" dy="-3.2">-1</tspan><tspan dy="3.2">)</tspan></text>
<polyline points="496.6,158 496.77,156.61 497.01,154.62 497.3,152.33 497.6,150 497.91,147.62 498.25,145.06 498.61,142.48 499,140 499.42,137.64 499.88,135.33 500.35,133.1 500.8,131 501.21,129.1 501.61,127.36 502.02,125.64 502.5,123.8 503.07,121.76 503.7,119.61 504.36,117.47 505,115.5 505.62,113.71 506.25,112.04 506.88,110.48 507.5,109 508.14,107.59 508.78,106.26 509.41,105.05 510,104 510.51,103.17 510.97,102.51 511.44,101.93 512,101.3 512.63,100.62 513.31,99.93 514.09,99.23 515,98.5 516.06,97.76 517.25,97.02 518.56,96.21 520,95.3 521.49,94.33 523.04,93.32 524.83,92.12 527,90.6 529.69,88.64 532.79,86.35 536.07,83.91 539.3,81.5 542.44,79.14 545.61,76.73 548.79,74.34 552,72 555.29,69.68 558.64,67.36 561.92,65.16 565,63.2 567.82,61.54 570.47,60.12 573,58.83 575.5,57.6 577.98,56.4 580.41,55.27 582.75,54.23 585,53.3 587.11,52.47 589.1,51.74 591.04,51.12 593,50.6 595.08,50.23 597.22,49.99 599.23,49.81 600.9,49.6 602.12,49.37 603.01,49.16 603.74,48.92 604.5,48.6 605.28,48.19 606.01,47.73 606.73,47.19 607.5,46.6 608.34,45.92 609.22,45.16 610.11,44.37 611,43.6 611.88,42.84 612.75,42.06 613.62,41.31 614.5,40.6 615.38,39.93 616.27,39.28 617.15,38.69 618,38.2 618.82,37.8 619.62,37.48 620.38,37.24 621.1,37.1 621.76,37.05 622.38,37.1 622.95,37.25 623.5,37.5 624.02,37.85 624.5,38.3 624.96,38.87 625.4,39.6 625.82,40.45 626.22,41.43 626.61,42.59 627,44 627.39,45.7 627.78,47.65 628.16,49.77 628.5,52 628.81,54.22 629.08,56.5 629.34,59.03 629.6,62 629.86,65.44 630.11,69.25 630.35,73.44 630.6,78 630.84,83.24 631.08,89.06 631.32,94.85 631.6,100 631.92,104.29 632.28,108.06 632.64,111.55 633,115 633.35,118.39 633.7,121.62 634.05,124.8 634.4,128 634.75,131.3 635.11,134.63 635.46,137.9 635.8,141 636.13,143.97 636.44,146.85 636.76,149.53 637.1,151.9 637.45,153.9 637.82,155.6 638.2,157.1 638.6,158.5 639.01,159.84 639.43,161.06 639.89,162.13 640.4,163 640.89,163.62 641.37,164.02 642.01,164.32 643,164.6 644.39,164.88 646.09,165.11 648.02,165.31 650.1,165.5 652.21,165.67 654.43,165.82 656.96,165.96 660,166.1 664.15,166.24 669.12,166.39 673.78,166.51 677,166.6" fill="none" stroke="#f07428" stroke-width="1.7" stroke-linejoin="round"/>
<rect x="566.3" y="71.1" width="59.4" height="79.6" fill="#fff" stroke="none" stroke-width="1"/>
<polyline points="566.3,99.1 566.73,99.11 567.35,99.15 568,99.3 568.64,99.61 569.32,100.04 570,100.5 570.67,100.97 571.33,101.47 572,102 572.69,102.63 573.37,103.29 574,103.8 574.54,104.11 575.02,104.29 575.5,104.3 576,104.11 576.5,103.76 577,103.4 577.5,103.03 578,102.65 578.5,102.4 579.01,102.31 579.51,102.36 580,102.6 580.45,103.03 580.88,103.65 581.3,104.5 581.71,105.71 582.12,107.16 582.5,108.5 582.85,109.78 583.17,110.94 583.5,111.5 583.83,111.15 584.17,110.19 584.5,109 584.83,107.52 585.17,105.81 585.5,104.5 585.83,103.74 586.17,103.37 586.5,103.5 586.83,104.33 587.17,105.67 587.5,107 587.83,108.46 588.17,109.93 588.5,110.5 588.83,109.54 589.17,107.69 589.5,106 589.87,104.78 590.24,103.72 590.5,103 590.5,103.3 590.68,105.85 590.8,106.82 590.95,113.67 591.15,108.77 591.28,109.95 591.46,108.99 591.58,108.6 591.73,101.86 591.92,116.25 592.14,102.09 592.35,110.89 592.48,101.33 592.67,103.35 592.82,108.76 593.03,110.67 593.24,116.56 593.37,119.43 593.58,109.61 593.73,108.85 593.87,99.29 594,107.98 594.14,99.88 594.26,105.94 594.45,98.98 594.62,113.62 594.75,105.88 594.89,102.76 595.02,113.81 595.23,114.55 595.4,109.54 595.58,109.43 595.79,108.33 595.98,103.34 596.16,105.83 596.32,105.89 596.5,106.15 596.68,109.98 596.84,110.37 596.96,100.18 597.1,109.52 597.26,104.17 597.44,103.83 597.56,110.5 597.71,101.55 597.85,102.1 598,101.37 598.21,104.03 598.41,107.33 598.55,107.12 598.75,107.09 598.9,110.14 599.1,105.17 599.3,103.96 599.46,100.73 599.58,122.45 599.8,97.29 599.94,111.65 600.13,107.92 600.28,105.55 600.43,106.26 600.64,112.41 600.85,119.3 600.97,107.18 601.12,109.7 601.28,119.97 601.43,100.85 601.63,104.82 601.83,98.37 602.04,106.07 602.22,112.8 602.37,102.8 602.53,106.05 602.66,105.27 602.88,113.46 603.05,104.1 603.23,108.78 603.37,105.29 603.56,105.58 603.72,112.05 603.88,110.86 604.04,102.92 604.2,109.67 604.35,111.5 604.47,101.7 604.69,100.28 604.83,107.1 605.03,113.15 605.23,111.97 605.41,102.26 605.54,106.52 605.67,100.28 605.8,107.15 606,112.95 606.22,112.69 606.34,110.37 606.53,98.02 606.66,100.03 606.8,104.5 607,103.69 607.15,105.66 607.37,101.03 607.56,111.92 607.73,111.69 607.94,105.59 608.15,110.06 608.34,104.38 608.52,104.63 608.74,101.22 608.94,108.64 609.08,102.83 609.22,103.97 609.36,121.73 609.54,113.7 609.74,110.61 609.93,120.62 610.12,121.85 610.27,101 610.48,118.09 610.62,104.97 610.83,118.43 611.03,103.18 611.16,100.05 611.32,112.62 611.44,103.07 611.58,115.25 611.74,107.54 611.89,107.48 612.09,115.99 612.31,100.41 612.46,112.62 612.66,96.96 612.85,107.56 613.02,100.78 613.19,101.34 613.33,126.73 613.46,117.18 613.62,112.28 613.79,110.96 613.94,105.97 614.14,113.76 614.29,101.53 614.42,108.97 614.61,103.82 614.79,110.06 614.99,104.33 615.12,113.83 615.26,103.11 615.46,112.53 615.6,104.97 615.78,104.5 615.9,115.64 616.11,101.93 616.3,128.88 616.45,124.89 616.63,106.67 616.82,111.72 617,108.66 617.17,102.33 617.33,116.67 617.54,99.77 617.67,104.65 617.84,122.16 618.05,108.12 618.26,116.55 618.45,110.38 618.65,133.81 618.81,111.94 618.94,106.04 619.08,114.29 619.25,100.9 619.42,111.12 619.56,131.32 619.71,101.96 619.86,104.87 619.99,108.93 620.13,103.09 620.25,105.25 620.38,102.68 620.57,103.08 620.69,120.9 620.82,108.66 621,105.67 621.2,99.47 621.41,104.5 621.61,110.75 621.74,117.84 621.92,106.58 622.06,106.36 622.27,97.6 622.47,137.93 622.59,97.59 622.72,98.74 622.88,96.42 623.02,115.42 623.22,117.67 623.38,104.7 623.54,105.28 623.73,111.49 623.89,99.98 624.06,114.96 624.19,98.65 624.4,127.54 624.61,110.96 624.76,100.63 624.9,108.31 625.02,109.89 625.15,100.54 625.27,97.29 625.45,99.15" fill="none" stroke="#e61e2c" stroke-width="0.65" stroke-linejoin="round"/>
<line x1="566.3" y1="71.1" x2="625.7" y2="71.1" stroke="#888" stroke-width="0.7"/>
<line x1="625.7" y1="71.1" x2="625.7" y2="150.7" stroke="#888" stroke-width="0.7"/>
<line x1="566.3" y1="71.1" x2="566.3" y2="150.7" stroke="#333" stroke-width="0.8"/>
<line x1="566.3" y1="150.7" x2="625.7" y2="150.7" stroke="#333" stroke-width="0.8"/>
<line x1="564.9" y1="91" x2="566.3" y2="91" stroke="#333" stroke-width="0.6"/>
<text x="565.3" y="90.8" font-size="5.5" text-anchor="end" font-weight="bold" fill="#222" dominant-baseline="central">10<tspan font-size="3.8" dy="-2.2">-13</tspan></text>
<line x1="565.5" y1="82.06" x2="566.3" y2="82.06" stroke="#444" stroke-width="0.4"/>
<line x1="565.5" y1="76.83" x2="566.3" y2="76.83" stroke="#444" stroke-width="0.4"/>
<line x1="565.5" y1="73.12" x2="566.3" y2="73.12" stroke="#444" stroke-width="0.4"/>
<line x1="564.9" y1="120.7" x2="566.3" y2="120.7" stroke="#333" stroke-width="0.6"/>
<text x="565.3" y="120.5" font-size="5.5" text-anchor="end" font-weight="bold" fill="#222" dominant-baseline="central">10<tspan font-size="3.8" dy="-2.2">-14</tspan></text>
<line x1="565.5" y1="111.76" x2="566.3" y2="111.76" stroke="#444" stroke-width="0.4"/>
<line x1="565.5" y1="106.53" x2="566.3" y2="106.53" stroke="#444" stroke-width="0.4"/>
<line x1="565.5" y1="102.82" x2="566.3" y2="102.82" stroke="#444" stroke-width="0.4"/>
<line x1="565.5" y1="99.94" x2="566.3" y2="99.94" stroke="#444" stroke-width="0.4"/>
<line x1="565.5" y1="97.59" x2="566.3" y2="97.59" stroke="#444" stroke-width="0.4"/>
<line x1="565.5" y1="95.6" x2="566.3" y2="95.6" stroke="#444" stroke-width="0.4"/>
<line x1="565.5" y1="93.88" x2="566.3" y2="93.88" stroke="#444" stroke-width="0.4"/>
<line x1="565.5" y1="92.36" x2="566.3" y2="92.36" stroke="#444" stroke-width="0.4"/>
<line x1="564.9" y1="150.4" x2="566.3" y2="150.4" stroke="#333" stroke-width="0.6"/>
<text x="565.3" y="150.2" font-size="5.5" text-anchor="end" font-weight="bold" fill="#222" dominant-baseline="central">10<tspan font-size="3.8" dy="-2.2">-15</tspan></text>
<line x1="565.5" y1="141.46" x2="566.3" y2="141.46" stroke="#444" stroke-width="0.4"/>
<line x1="565.5" y1="136.23" x2="566.3" y2="136.23" stroke="#444" stroke-width="0.4"/>
<line x1="565.5" y1="132.52" x2="566.3" y2="132.52" stroke="#444" stroke-width="0.4"/>
<line x1="565.5" y1="129.64" x2="566.3" y2="129.64" stroke="#444" stroke-width="0.4"/>
<line x1="565.5" y1="127.29" x2="566.3" y2="127.29" stroke="#444" stroke-width="0.4"/>
<line x1="565.5" y1="125.3" x2="566.3" y2="125.3" stroke="#444" stroke-width="0.4"/>
<line x1="565.5" y1="123.58" x2="566.3" y2="123.58" stroke="#444" stroke-width="0.4"/>
<line x1="565.5" y1="122.06" x2="566.3" y2="122.06" stroke="#444" stroke-width="0.4"/>
<line x1="566.3" y1="150.7" x2="566.3" y2="152.1" stroke="#333" stroke-width="0.6"/>
<text x="566.3" y="156.9" font-size="6.4" text-anchor="middle" font-weight="bold" fill="#111" dominant-baseline="central">0.1</text>
<line x1="572.26" y1="150.7" x2="572.26" y2="151.5" stroke="#444" stroke-width="0.4"/>
<line x1="575.75" y1="150.7" x2="575.75" y2="151.5" stroke="#444" stroke-width="0.4"/>
<line x1="578.22" y1="150.7" x2="578.22" y2="151.5" stroke="#444" stroke-width="0.4"/>
<line x1="580.14" y1="150.7" x2="580.14" y2="151.5" stroke="#444" stroke-width="0.4"/>
<line x1="581.71" y1="150.7" x2="581.71" y2="151.5" stroke="#444" stroke-width="0.4"/>
<line x1="583.03" y1="150.7" x2="583.03" y2="151.5" stroke="#444" stroke-width="0.4"/>
<line x1="584.18" y1="150.7" x2="584.18" y2="151.5" stroke="#444" stroke-width="0.4"/>
<line x1="585.19" y1="150.7" x2="585.19" y2="151.5" stroke="#444" stroke-width="0.4"/>
<line x1="586.1" y1="150.7" x2="586.1" y2="152.1" stroke="#333" stroke-width="0.6"/>
<text x="586.1" y="156.9" font-size="6.4" text-anchor="middle" font-weight="bold" fill="#111" dominant-baseline="central">1</text>
<line x1="592.06" y1="150.7" x2="592.06" y2="151.5" stroke="#444" stroke-width="0.4"/>
<line x1="595.55" y1="150.7" x2="595.55" y2="151.5" stroke="#444" stroke-width="0.4"/>
<line x1="598.02" y1="150.7" x2="598.02" y2="151.5" stroke="#444" stroke-width="0.4"/>
<line x1="599.94" y1="150.7" x2="599.94" y2="151.5" stroke="#444" stroke-width="0.4"/>
<line x1="601.51" y1="150.7" x2="601.51" y2="151.5" stroke="#444" stroke-width="0.4"/>
<line x1="602.83" y1="150.7" x2="602.83" y2="151.5" stroke="#444" stroke-width="0.4"/>
<line x1="603.98" y1="150.7" x2="603.98" y2="151.5" stroke="#444" stroke-width="0.4"/>
<line x1="604.99" y1="150.7" x2="604.99" y2="151.5" stroke="#444" stroke-width="0.4"/>
<line x1="605.9" y1="150.7" x2="605.9" y2="152.1" stroke="#333" stroke-width="0.6"/>
<text x="605.9" y="156.9" font-size="6.4" text-anchor="middle" font-weight="bold" fill="#111" dominant-baseline="central">10</text>
<line x1="611.86" y1="150.7" x2="611.86" y2="151.5" stroke="#444" stroke-width="0.4"/>
<line x1="615.35" y1="150.7" x2="615.35" y2="151.5" stroke="#444" stroke-width="0.4"/>
<line x1="617.82" y1="150.7" x2="617.82" y2="151.5" stroke="#444" stroke-width="0.4"/>
<line x1="619.74" y1="150.7" x2="619.74" y2="151.5" stroke="#444" stroke-width="0.4"/>
<line x1="621.31" y1="150.7" x2="621.31" y2="151.5" stroke="#444" stroke-width="0.4"/>
<line x1="622.63" y1="150.7" x2="622.63" y2="151.5" stroke="#444" stroke-width="0.4"/>
<line x1="623.78" y1="150.7" x2="623.78" y2="151.5" stroke="#444" stroke-width="0.4"/>
<line x1="624.79" y1="150.7" x2="624.79" y2="151.5" stroke="#444" stroke-width="0.4"/>
<line x1="625.7" y1="150.7" x2="625.7" y2="152.1" stroke="#333" stroke-width="0.6"/>
<text x="625.7" y="156.9" font-size="6.4" text-anchor="middle" font-weight="bold" fill="#111" dominant-baseline="central">100</text>
<text x="598" y="162" font-size="6.4" text-anchor="middle" font-weight="bold" fill="#111" dominant-baseline="central">Frequence(Hz)</text>
<text x="549.6" y="112" font-size="5.7" text-anchor="middle" font-weight="bold" fill="#111" dominant-baseline="central" transform="rotate(-90 549.6 112)">Noise current(A Hz<tspan font-size="4" dy="-2.2">-1/2</tspan><tspan dy="2.2">)</tspan></text>
<rect x="496.3" y="19.6" width="181.1" height="147.5" fill="none" stroke="#111" stroke-width="1.2"/>
<line x1="493.9" y1="167.1" x2="496.3" y2="167.1" stroke="#111" stroke-width="1"/>
<text x="491.8" y="167.1" font-size="8.3" text-anchor="end" font-weight="bold" fill="#111" dominant-baseline="central">0</text>
<line x1="495" y1="150.7" x2="496.3" y2="150.7" stroke="#111" stroke-width="0.7"/>
<line x1="493.9" y1="134.35" x2="496.3" y2="134.35" stroke="#111" stroke-width="1"/>
<text x="491.8" y="134.35" font-size="8.3" text-anchor="end" font-weight="bold" fill="#111" dominant-baseline="central">1</text>
<line x1="495" y1="117.95" x2="496.3" y2="117.95" stroke="#111" stroke-width="0.7"/>
<line x1="493.9" y1="101.6" x2="496.3" y2="101.6" stroke="#111" stroke-width="1"/>
<text x="491.8" y="101.6" font-size="8.3" text-anchor="end" font-weight="bold" fill="#111" dominant-baseline="central">2</text>
<line x1="495" y1="85.2" x2="496.3" y2="85.2" stroke="#111" stroke-width="0.7"/>
<line x1="493.9" y1="68.85" x2="496.3" y2="68.85" stroke="#111" stroke-width="1"/>
<text x="491.8" y="68.85" font-size="8.3" text-anchor="end" font-weight="bold" fill="#111" dominant-baseline="central">3</text>
<line x1="495" y1="52.45" x2="496.3" y2="52.45" stroke="#111" stroke-width="0.7"/>
<line x1="493.9" y1="36.1" x2="496.3" y2="36.1" stroke="#111" stroke-width="1"/>
<text x="491.8" y="36.1" font-size="8.3" text-anchor="end" font-weight="bold" fill="#111" dominant-baseline="central">4</text>
<line x1="495" y1="19.7" x2="496.3" y2="19.7" stroke="#111" stroke-width="0.7"/>
<line x1="496.3" y1="167.1" x2="496.3" y2="169.5" stroke="#111" stroke-width="1"/>
<text x="496.3" y="176" font-size="8.3" text-anchor="middle" font-weight="bold" fill="#111" dominant-baseline="central">300</text>
<line x1="511.4" y1="167.1" x2="511.4" y2="168.4" stroke="#111" stroke-width="0.7"/>
<line x1="526.48" y1="167.1" x2="526.48" y2="169.5" stroke="#111" stroke-width="1"/>
<text x="526.48" y="176" font-size="8.3" text-anchor="middle" font-weight="bold" fill="#111" dominant-baseline="central">350</text>
<line x1="541.58" y1="167.1" x2="541.58" y2="168.4" stroke="#111" stroke-width="0.7"/>
<line x1="556.65" y1="167.1" x2="556.65" y2="169.5" stroke="#111" stroke-width="1"/>
<text x="556.65" y="176" font-size="8.3" text-anchor="middle" font-weight="bold" fill="#111" dominant-baseline="central">400</text>
<line x1="571.75" y1="167.1" x2="571.75" y2="168.4" stroke="#111" stroke-width="0.7"/>
<line x1="586.83" y1="167.1" x2="586.83" y2="169.5" stroke="#111" stroke-width="1"/>
<text x="586.83" y="176" font-size="8.3" text-anchor="middle" font-weight="bold" fill="#111" dominant-baseline="central">450</text>
<line x1="601.93" y1="167.1" x2="601.93" y2="168.4" stroke="#111" stroke-width="0.7"/>
<line x1="617" y1="167.1" x2="617" y2="169.5" stroke="#111" stroke-width="1"/>
<text x="617" y="176" font-size="8.3" text-anchor="middle" font-weight="bold" fill="#111" dominant-baseline="central">500</text>
<line x1="632.1" y1="167.1" x2="632.1" y2="168.4" stroke="#111" stroke-width="0.7"/>
<line x1="647.17" y1="167.1" x2="647.17" y2="169.5" stroke="#111" stroke-width="1"/>
<text x="647.17" y="176" font-size="8.3" text-anchor="middle" font-weight="bold" fill="#111" dominant-baseline="central">550</text>
<line x1="662.27" y1="167.1" x2="662.27" y2="168.4" stroke="#111" stroke-width="0.7"/>
<line x1="677.35" y1="167.1" x2="677.35" y2="169.5" stroke="#111" stroke-width="1"/>
<text x="677.35" y="176" font-size="8.3" text-anchor="middle" font-weight="bold" fill="#111" dominant-baseline="central">600</text>
<text x="584.5" y="188.6" font-size="8.6" text-anchor="middle" font-weight="bold" fill="#111" dominant-baseline="central">Wavelength(nm)</text>
<text x="475.8" y="88.6" font-size="8.6" text-anchor="middle" font-weight="bold" fill="#111" dominant-baseline="central" transform="rotate(-90 475.8 88.6)">Detectivity (×10<tspan font-size="6" dy="-3.4">14</tspan><tspan dy="3.4"> Jones )</tspan></text>
<polyline points="46.4,390.19 48.15,390.04 49.9,390.49 51.65,389.97 53.4,390.38 55.15,390.23 56.9,389.95 58.65,390.36 60.4,389.93 62.15,390.29 63.9,389.96 65.65,389.98 67.4,390.28 69.15,390.64 70.9,390.01 72.65,390.1 74.4,390.46 76.15,390.75 77.9,390.42 78.6,389.6 79.6,387.3 80.4,382.5 81,376.5 81.6,369.8 82.2,362 82.9,354.5 83.6,346 84.3,337.5 85,329 85.7,320 86.4,311.5 87.1,303.5 87.8,296 88.6,289.5 89.5,284 90.5,279.5 91.7,276 93.1,273.6 94.7,272.2 96.4,271.3 98.2,270.5 100,269.8 101.8,269.2 103.6,268.6 105.4,268 107.2,267.5 109,267 110.8,266.4 112.6,265.8 114.4,265.1 116.2,264.2" fill="none" stroke="#f07030" stroke-width="1.1" stroke-linejoin="round"/>
<polyline points="118.6,263.8 120.4,263.4 122.2,263.3 124,263.3 125.8,263.3 127.6,263.3 129.4,263.4 131.2,263.4 133,263.5 134.8,263.6 136.6,263.7 138.4,263.9 140.2,264.1 142,264.5 143.8,265 145.6,265.6 147.3,266.6 148.8,268 150.1,270 151.2,272.8 152.1,276.5 152.8,281 153.4,287 153.9,294 154.4,301.5 154.9,309.5 155.4,317.5 155.9,325.5 156.4,333.5 156.9,341.5 157.4,349 157.9,356 158.5,363 159.1,369.5 159.8,375 160.6,379.5 161.6,383 162.8,385.3 164.2,386.8 165.8,387.7 167.5,388.47 169.2,389.75 170.9,387.7 172.6,389.49 174.3,388.24 176,387.92 177.7,387.86 179.4,388.28 181.1,389.4 182.8,388 184.5,388.88 186.2,389.01 187.9,388.42 189.6,388.81 191.3,387.74 193,387.73 194.7,388.05 196.4,389.1 198.1,388.54 199.8,388.29" fill="none" stroke="#f07030" stroke-width="1.1" stroke-linejoin="round"/>
<circle cx="46.4" cy="390.19" r="1.4" fill="none" stroke="#f07030" stroke-width="0.75"/>
<circle cx="48.15" cy="390.04" r="1.4" fill="none" stroke="#f07030" stroke-width="0.75"/>
<circle cx="49.9" cy="390.49" r="1.4" fill="none" stroke="#f07030" stroke-width="0.75"/>
<circle cx="51.65" cy="389.97" r="1.4" fill="none" stroke="#f07030" stroke-width="0.75"/>
<circle cx="53.4" cy="390.38" r="1.4" fill="none" stroke="#f07030" stroke-width="0.75"/>
<circle cx="55.15" cy="390.23" r="1.4" fill="none" stroke="#f07030" stroke-width="0.75"/>
<circle cx="56.9" cy="389.95" r="1.4" fill="none" stroke="#f07030" stroke-width="0.75"/>
<circle cx="58.65" cy="390.36" r="1.4" fill="none" stroke="#f07030" stroke-width="0.75"/>
<circle cx="60.4" cy="389.93" r="1.4" fill="none" stroke="#f07030" stroke-width="0.75"/>
<circle cx="62.15" cy="390.29" r="1.4" fill="none" stroke="#f07030" stroke-width="0.75"/>
<circle cx="63.9" cy="389.96" r="1.4" fill="none" stroke="#f07030" stroke-width="0.75"/>
<circle cx="65.65" cy="389.98" r="1.4" fill="none" stroke="#f07030" stroke-width="0.75"/>
<circle cx="67.4" cy="390.28" r="1.4" fill="none" stroke="#f07030" stroke-width="0.75"/>
<circle cx="69.15" cy="390.64" r="1.4" fill="none" stroke="#f07030" stroke-width="0.75"/>
<circle cx="70.9" cy="390.01" r="1.4" fill="none" stroke="#f07030" stroke-width="0.75"/>
<circle cx="72.65" cy="390.1" r="1.4" fill="none" stroke="#f07030" stroke-width="0.75"/>
<circle cx="74.4" cy="390.46" r="1.4" fill="none" stroke="#f07030" stroke-width="0.75"/>
<circle cx="76.15" cy="390.75" r="1.4" fill="none" stroke="#f07030" stroke-width="0.75"/>
<circle cx="77.9" cy="390.42" r="1.4" fill="none" stroke="#f07030" stroke-width="0.75"/>
<circle cx="78.6" cy="389.6" r="1.4" fill="none" stroke="#f07030" stroke-width="0.75"/>
<circle cx="79.6" cy="387.3" r="1.4" fill="none" stroke="#f07030" stroke-width="0.75"/>
<circle cx="80.4" cy="382.5" r="1.4" fill="none" stroke="#f07030" stroke-width="0.75"/>
<circle cx="81" cy="376.5" r="1.4" fill="none" stroke="#f07030" stroke-width="0.75"/>
<circle cx="81.6" cy="369.8" r="1.4" fill="none" stroke="#f07030" stroke-width="0.75"/>
<circle cx="82.2" cy="362" r="1.4" fill="none" stroke="#f07030" stroke-width="0.75"/>
<circle cx="82.9" cy="354.5" r="1.4" fill="none" stroke="#f07030" stroke-width="0.75"/>
<circle cx="83.6" cy="346" r="1.4" fill="none" stroke="#f07030" stroke-width="0.75"/>
<circle cx="84.3" cy="337.5" r="1.4" fill="none" stroke="#f07030" stroke-width="0.75"/>
<circle cx="85" cy="329" r="1.4" fill="none" stroke="#f07030" stroke-width="0.75"/>
<circle cx="85.7" cy="320" r="1.4" fill="none" stroke="#f07030" stroke-width="0.75"/>
<circle cx="86.4" cy="311.5" r="1.4" fill="none" stroke="#f07030" stroke-width="0.75"/>
<circle cx="87.1" cy="303.5" r="1.4" fill="none" stroke="#f07030" stroke-width="0.75"/>
<circle cx="87.8" cy="296" r="1.4" fill="none" stroke="#f07030" stroke-width="0.75"/>
<circle cx="88.6" cy="289.5" r="1.4" fill="none" stroke="#f07030" stroke-width="0.75"/>
<circle cx="89.5" cy="284" r="1.4" fill="none" stroke="#f07030" stroke-width="0.75"/>
<circle cx="90.5" cy="279.5" r="1.4" fill="none" stroke="#f07030" stroke-width="0.75"/>
<circle cx="91.7" cy="276" r="1.4" fill="none" stroke="#f07030" stroke-width="0.75"/>
<circle cx="93.1" cy="273.6" r="1.4" fill="none" stroke="#f07030" stroke-width="0.75"/>
<circle cx="94.7" cy="272.2" r="1.4" fill="none" stroke="#f07030" stroke-width="0.75"/>
<circle cx="96.4" cy="271.3" r="1.4" fill="none" stroke="#f07030" stroke-width="0.75"/>
<circle cx="98.2" cy="270.5" r="1.4" fill="none" stroke="#f07030" stroke-width="0.75"/>
<circle cx="100" cy="269.8" r="1.4" fill="none" stroke="#f07030" stroke-width="0.75"/>
<circle cx="101.8" cy="269.2" r="1.4" fill="none" stroke="#f07030" stroke-width="0.75"/>
<circle cx="103.6" cy="268.6" r="1.4" fill="none" stroke="#f07030" stroke-width="0.75"/>
<circle cx="105.4" cy="268" r="1.4" fill="none" stroke="#f07030" stroke-width="0.75"/>
<circle cx="107.2" cy="267.5" r="1.4" fill="none" stroke="#f07030" stroke-width="0.75"/>
<circle cx="109" cy="267" r="1.4" fill="none" stroke="#f07030" stroke-width="0.75"/>
<circle cx="110.8" cy="266.4" r="1.4" fill="none" stroke="#f07030" stroke-width="0.75"/>
<circle cx="112.6" cy="265.8" r="1.4" fill="none" stroke="#f07030" stroke-width="0.75"/>
<circle cx="114.4" cy="265.1" r="1.4" fill="none" stroke="#f07030" stroke-width="0.75"/>
<circle cx="116.2" cy="264.2" r="1.4" fill="none" stroke="#f07030" stroke-width="0.75"/>
<circle cx="118.6" cy="263.8" r="1.4" fill="none" stroke="#f07030" stroke-width="0.75"/>
<circle cx="120.4" cy="263.4" r="1.4" fill="none" stroke="#f07030" stroke-width="0.75"/>
<circle cx="122.2" cy="263.3" r="1.4" fill="none" stroke="#f07030" stroke-width="0.75"/>
<circle cx="124" cy="263.3" r="1.4" fill="none" stroke="#f07030" stroke-width="0.75"/>
<circle cx="125.8" cy="263.3" r="1.4" fill="none" stroke="#f07030" stroke-width="0.75"/>
<circle cx="127.6" cy="263.3" r="1.4" fill="none" stroke="#f07030" stroke-width="0.75"/>
<circle cx="129.4" cy="263.4" r="1.4" fill="none" stroke="#f07030" stroke-width="0.75"/>
<circle cx="131.2" cy="263.4" r="1.4" fill="none" stroke="#f07030" stroke-width="0.75"/>
<circle cx="133" cy="263.5" r="1.4" fill="none" stroke="#f07030" stroke-width="0.75"/>
<circle cx="134.8" cy="263.6" r="1.4" fill="none" stroke="#f07030" stroke-width="0.75"/>
<circle cx="136.6" cy="263.7" r="1.4" fill="none" stroke="#f07030" stroke-width="0.75"/>
<circle cx="138.4" cy="263.9" r="1.4" fill="none" stroke="#f07030" stroke-width="0.75"/>
<circle cx="140.2" cy="264.1" r="1.4" fill="none" stroke="#f07030" stroke-width="0.75"/>
<circle cx="142" cy="264.5" r="1.4" fill="none" stroke="#f07030" stroke-width="0.75"/>
<circle cx="143.8" cy="265" r="1.4" fill="none" stroke="#f07030" stroke-width="0.75"/>
<circle cx="145.6" cy="265.6" r="1.4" fill="none" stroke="#f07030" stroke-width="0.75"/>
<circle cx="147.3" cy="266.6" r="1.4" fill="none" stroke="#f07030" stroke-width="0.75"/>
<circle cx="148.8" cy="268" r="1.4" fill="none" stroke="#f07030" stroke-width="0.75"/>
<circle cx="150.1" cy="270" r="1.4" fill="none" stroke="#f07030" stroke-width="0.75"/>
<circle cx="151.2" cy="272.8" r="1.4" fill="none" stroke="#f07030" stroke-width="0.75"/>
<circle cx="152.1" cy="276.5" r="1.4" fill="none" stroke="#f07030" stroke-width="0.75"/>
<circle cx="152.8" cy="281" r="1.4" fill="none" stroke="#f07030" stroke-width="0.75"/>
<circle cx="153.4" cy="287" r="1.4" fill="none" stroke="#f07030" stroke-width="0.75"/>
<circle cx="153.9" cy="294" r="1.4" fill="none" stroke="#f07030" stroke-width="0.75"/>
<circle cx="154.4" cy="301.5" r="1.4" fill="none" stroke="#f07030" stroke-width="0.75"/>
<circle cx="154.9" cy="309.5" r="1.4" fill="none" stroke="#f07030" stroke-width="0.75"/>
<circle cx="155.4" cy="317.5" r="1.4" fill="none" stroke="#f07030" stroke-width="0.75"/>
<circle cx="155.9" cy="325.5" r="1.4" fill="none" stroke="#f07030" stroke-width="0.75"/>
<circle cx="156.4" cy="333.5" r="1.4" fill="none" stroke="#f07030" stroke-width="0.75"/>
<circle cx="156.9" cy="341.5" r="1.4" fill="none" stroke="#f07030" stroke-width="0.75"/>
<circle cx="157.4" cy="349" r="1.4" fill="none" stroke="#f07030" stroke-width="0.75"/>
<circle cx="157.9" cy="356" r="1.4" fill="none" stroke="#f07030" stroke-width="0.75"/>
<circle cx="158.5" cy="363" r="1.4" fill="none" stroke="#f07030" stroke-width="0.75"/>
<circle cx="159.1" cy="369.5" r="1.4" fill="none" stroke="#f07030" stroke-width="0.75"/>
<circle cx="159.8" cy="375" r="1.4" fill="none" stroke="#f07030" stroke-width="0.75"/>
<circle cx="160.6" cy="379.5" r="1.4" fill="none" stroke="#f07030" stroke-width="0.75"/>
<circle cx="161.6" cy="383" r="1.4" fill="none" stroke="#f07030" stroke-width="0.75"/>
<circle cx="162.8" cy="385.3" r="1.4" fill="none" stroke="#f07030" stroke-width="0.75"/>
<circle cx="164.2" cy="386.8" r="1.4" fill="none" stroke="#f07030" stroke-width="0.75"/>
<circle cx="165.8" cy="387.7" r="1.4" fill="none" stroke="#f07030" stroke-width="0.75"/>
<circle cx="167.5" cy="388.47" r="1.4" fill="none" stroke="#f07030" stroke-width="0.75"/>
<circle cx="169.2" cy="389.75" r="1.4" fill="none" stroke="#f07030" stroke-width="0.75"/>
<circle cx="170.9" cy="387.7" r="1.4" fill="none" stroke="#f07030" stroke-width="0.75"/>
<circle cx="172.6" cy="389.49" r="1.4" fill="none" stroke="#f07030" stroke-width="0.75"/>
<circle cx="174.3" cy="388.24" r="1.4" fill="none" stroke="#f07030" stroke-width="0.75"/>
<circle cx="176" cy="387.92" r="1.4" fill="none" stroke="#f07030" stroke-width="0.75"/>
<circle cx="177.7" cy="387.86" r="1.4" fill="none" stroke="#f07030" stroke-width="0.75"/>
<circle cx="179.4" cy="388.28" r="1.4" fill="none" stroke="#f07030" stroke-width="0.75"/>
<circle cx="181.1" cy="389.4" r="1.4" fill="none" stroke="#f07030" stroke-width="0.75"/>
<circle cx="182.8" cy="388" r="1.4" fill="none" stroke="#f07030" stroke-width="0.75"/>
<circle cx="184.5" cy="388.88" r="1.4" fill="none" stroke="#f07030" stroke-width="0.75"/>
<circle cx="186.2" cy="389.01" r="1.4" fill="none" stroke="#f07030" stroke-width="0.75"/>
<circle cx="187.9" cy="388.42" r="1.4" fill="none" stroke="#f07030" stroke-width="0.75"/>
<circle cx="189.6" cy="388.81" r="1.4" fill="none" stroke="#f07030" stroke-width="0.75"/>
<circle cx="191.3" cy="387.74" r="1.4" fill="none" stroke="#f07030" stroke-width="0.75"/>
<circle cx="193" cy="387.73" r="1.4" fill="none" stroke="#f07030" stroke-width="0.75"/>
<circle cx="194.7" cy="388.05" r="1.4" fill="none" stroke="#f07030" stroke-width="0.75"/>
<circle cx="196.4" cy="389.1" r="1.4" fill="none" stroke="#f07030" stroke-width="0.75"/>
<circle cx="198.1" cy="388.54" r="1.4" fill="none" stroke="#f07030" stroke-width="0.75"/>
<circle cx="199.8" cy="388.29" r="1.4" fill="none" stroke="#f07030" stroke-width="0.75"/>
<rect x="82.3" y="271.3" width="10.6" height="107" fill="#8fb5e3" stroke="none" stroke-width="1"/>
<rect x="153.1" y="271.3" width="7.3" height="107" fill="#8fb5e3" stroke="none" stroke-width="1"/>
<g opacity="0.5"><polyline points="46.4,390.19 48.15,390.04 49.9,390.49 51.65,389.97 53.4,390.38 55.15,390.23 56.9,389.95 58.65,390.36 60.4,389.93 62.15,390.29 63.9,389.96 65.65,389.98 67.4,390.28 69.15,390.64 70.9,390.01 72.65,390.1 74.4,390.46 76.15,390.75 77.9,390.42 78.6,389.6 79.6,387.3 80.4,382.5 81,376.5 81.6,369.8 82.2,362 82.9,354.5 83.6,346 84.3,337.5 85,329 85.7,320 86.4,311.5 87.1,303.5 87.8,296 88.6,289.5 89.5,284 90.5,279.5 91.7,276 93.1,273.6 94.7,272.2 96.4,271.3 98.2,270.5 100,269.8 101.8,269.2 103.6,268.6 105.4,268 107.2,267.5 109,267 110.8,266.4 112.6,265.8 114.4,265.1 116.2,264.2" fill="none" stroke="#f07030" stroke-width="1.1" stroke-linejoin="round"/>
<polyline points="118.6,263.8 120.4,263.4 122.2,263.3 124,263.3 125.8,263.3 127.6,263.3 129.4,263.4 131.2,263.4 133,263.5 134.8,263.6 136.6,263.7 138.4,263.9 140.2,264.1 142,264.5 143.8,265 145.6,265.6 147.3,266.6 148.8,268 150.1,270 151.2,272.8 152.1,276.5 152.8,281 153.4,287 153.9,294 154.4,301.5 154.9,309.5 155.4,317.5 155.9,325.5 156.4,333.5 156.9,341.5 157.4,349 157.9,356 158.5,363 159.1,369.5 159.8,375 160.6,379.5 161.6,383 162.8,385.3 164.2,386.8 165.8,387.7 167.5,388.47 169.2,389.75 170.9,387.7 172.6,389.49 174.3,388.24 176,387.92 177.7,387.86 179.4,388.28 181.1,389.4 182.8,388 184.5,388.88 186.2,389.01 187.9,388.42 189.6,388.81 191.3,387.74 193,387.73 194.7,388.05 196.4,389.1 198.1,388.54 199.8,388.29" fill="none" stroke="#f07030" stroke-width="1.1" stroke-linejoin="round"/>
<circle cx="46.4" cy="390.19" r="1.4" fill="none" stroke="#f07030" stroke-width="0.75"/>
<circle cx="48.15" cy="390.04" r="1.4" fill="none" stroke="#f07030" stroke-width="0.75"/>
<circle cx="49.9" cy="390.49" r="1.4" fill="none" stroke="#f07030" stroke-width="0.75"/>
<circle cx="51.65" cy="389.97" r="1.4" fill="none" stroke="#f07030" stroke-width="0.75"/>
<circle cx="53.4" cy="390.38" r="1.4" fill="none" stroke="#f07030" stroke-width="0.75"/>
<circle cx="55.15" cy="390.23" r="1.4" fill="none" stroke="#f07030" stroke-width="0.75"/>
<circle cx="56.9" cy="389.95" r="1.4" fill="none" stroke="#f07030" stroke-width="0.75"/>
<circle cx="58.65" cy="390.36" r="1.4" fill="none" stroke="#f07030" stroke-width="0.75"/>
<circle cx="60.4" cy="389.93" r="1.4" fill="none" stroke="#f07030" stroke-width="0.75"/>
<circle cx="62.15" cy="390.29" r="1.4" fill="none" stroke="#f07030" stroke-width="0.75"/>
<circle cx="63.9" cy="389.96" r="1.4" fill="none" stroke="#f07030" stroke-width="0.75"/>
<circle cx="65.65" cy="389.98" r="1.4" fill="none" stroke="#f07030" stroke-width="0.75"/>
<circle cx="67.4" cy="390.28" r="1.4" fill="none" stroke="#f07030" stroke-width="0.75"/>
<circle cx="69.15" cy="390.64" r="1.4" fill="none" stroke="#f07030" stroke-width="0.75"/>
<circle cx="70.9" cy="390.01" r="1.4" fill="none" stroke="#f07030" stroke-width="0.75"/>
<circle cx="72.65" cy="390.1" r="1.4" fill="none" stroke="#f07030" stroke-width="0.75"/>
<circle cx="74.4" cy="390.46" r="1.4" fill="none" stroke="#f07030" stroke-width="0.75"/>
<circle cx="76.15" cy="390.75" r="1.4" fill="none" stroke="#f07030" stroke-width="0.75"/>
<circle cx="77.9" cy="390.42" r="1.4" fill="none" stroke="#f07030" stroke-width="0.75"/>
<circle cx="78.6" cy="389.6" r="1.4" fill="none" stroke="#f07030" stroke-width="0.75"/>
<circle cx="79.6" cy="387.3" r="1.4" fill="none" stroke="#f07030" stroke-width="0.75"/>
<circle cx="80.4" cy="382.5" r="1.4" fill="none" stroke="#f07030" stroke-width="0.75"/>
<circle cx="81" cy="376.5" r="1.4" fill="none" stroke="#f07030" stroke-width="0.75"/>
<circle cx="81.6" cy="369.8" r="1.4" fill="none" stroke="#f07030" stroke-width="0.75"/>
<circle cx="82.2" cy="362" r="1.4" fill="none" stroke="#f07030" stroke-width="0.75"/>
<circle cx="82.9" cy="354.5" r="1.4" fill="none" stroke="#f07030" stroke-width="0.75"/>
<circle cx="83.6" cy="346" r="1.4" fill="none" stroke="#f07030" stroke-width="0.75"/>
<circle cx="84.3" cy="337.5" r="1.4" fill="none" stroke="#f07030" stroke-width="0.75"/>
<circle cx="85" cy="329" r="1.4" fill="none" stroke="#f07030" stroke-width="0.75"/>
<circle cx="85.7" cy="320" r="1.4" fill="none" stroke="#f07030" stroke-width="0.75"/>
<circle cx="86.4" cy="311.5" r="1.4" fill="none" stroke="#f07030" stroke-width="0.75"/>
<circle cx="87.1" cy="303.5" r="1.4" fill="none" stroke="#f07030" stroke-width="0.75"/>
<circle cx="87.8" cy="296" r="1.4" fill="none" stroke="#f07030" stroke-width="0.75"/>
<circle cx="88.6" cy="289.5" r="1.4" fill="none" stroke="#f07030" stroke-width="0.75"/>
<circle cx="89.5" cy="284" r="1.4" fill="none" stroke="#f07030" stroke-width="0.75"/>
<circle cx="90.5" cy="279.5" r="1.4" fill="none" stroke="#f07030" stroke-width="0.75"/>
<circle cx="91.7" cy="276" r="1.4" fill="none" stroke="#f07030" stroke-width="0.75"/>
<circle cx="93.1" cy="273.6" r="1.4" fill="none" stroke="#f07030" stroke-width="0.75"/>
<circle cx="94.7" cy="272.2" r="1.4" fill="none" stroke="#f07030" stroke-width="0.75"/>
<circle cx="96.4" cy="271.3" r="1.4" fill="none" stroke="#f07030" stroke-width="0.75"/>
<circle cx="98.2" cy="270.5" r="1.4" fill="none" stroke="#f07030" stroke-width="0.75"/>
<circle cx="100" cy="269.8" r="1.4" fill="none" stroke="#f07030" stroke-width="0.75"/>
<circle cx="101.8" cy="269.2" r="1.4" fill="none" stroke="#f07030" stroke-width="0.75"/>
<circle cx="103.6" cy="268.6" r="1.4" fill="none" stroke="#f07030" stroke-width="0.75"/>
<circle cx="105.4" cy="268" r="1.4" fill="none" stroke="#f07030" stroke-width="0.75"/>
<circle cx="107.2" cy="267.5" r="1.4" fill="none" stroke="#f07030" stroke-width="0.75"/>
<circle cx="109" cy="267" r="1.4" fill="none" stroke="#f07030" stroke-width="0.75"/>
<circle cx="110.8" cy="266.4" r="1.4" fill="none" stroke="#f07030" stroke-width="0.75"/>
<circle cx="112.6" cy="265.8" r="1.4" fill="none" stroke="#f07030" stroke-width="0.75"/>
<circle cx="114.4" cy="265.1" r="1.4" fill="none" stroke="#f07030" stroke-width="0.75"/>
<circle cx="116.2" cy="264.2" r="1.4" fill="none" stroke="#f07030" stroke-width="0.75"/>
<circle cx="118.6" cy="263.8" r="1.4" fill="none" stroke="#f07030" stroke-width="0.75"/>
<circle cx="120.4" cy="263.4" r="1.4" fill="none" stroke="#f07030" stroke-width="0.75"/>
<circle cx="122.2" cy="263.3" r="1.4" fill="none" stroke="#f07030" stroke-width="0.75"/>
<circle cx="124" cy="263.3" r="1.4" fill="none" stroke="#f07030" stroke-width="0.75"/>
<circle cx="125.8" cy="263.3" r="1.4" fill="none" stroke="#f07030" stroke-width="0.75"/>
<circle cx="127.6" cy="263.3" r="1.4" fill="none" stroke="#f07030" stroke-width="0.75"/>
<circle cx="129.4" cy="263.4" r="1.4" fill="none" stroke="#f07030" stroke-width="0.75"/>
<circle cx="131.2" cy="263.4" r="1.4" fill="none" stroke="#f07030" stroke-width="0.75"/>
<circle cx="133" cy="263.5" r="1.4" fill="none" stroke="#f07030" stroke-width="0.75"/>
<circle cx="134.8" cy="263.6" r="1.4" fill="none" stroke="#f07030" stroke-width="0.75"/>
<circle cx="136.6" cy="263.7" r="1.4" fill="none" stroke="#f07030" stroke-width="0.75"/>
<circle cx="138.4" cy="263.9" r="1.4" fill="none" stroke="#f07030" stroke-width="0.75"/>
<circle cx="140.2" cy="264.1" r="1.4" fill="none" stroke="#f07030" stroke-width="0.75"/>
<circle cx="142" cy="264.5" r="1.4" fill="none" stroke="#f07030" stroke-width="0.75"/>
<circle cx="143.8" cy="265" r="1.4" fill="none" stroke="#f07030" stroke-width="0.75"/>
<circle cx="145.6" cy="265.6" r="1.4" fill="none" stroke="#f07030" stroke-width="0.75"/>
<circle cx="147.3" cy="266.6" r="1.4" fill="none" stroke="#f07030" stroke-width="0.75"/>
<circle cx="148.8" cy="268" r="1.4" fill="none" stroke="#f07030" stroke-width="0.75"/>
<circle cx="150.1" cy="270" r="1.4" fill="none" stroke="#f07030" stroke-width="0.75"/>
<circle cx="151.2" cy="272.8" r="1.4" fill="none" stroke="#f07030" stroke-width="0.75"/>
<circle cx="152.1" cy="276.5" r="1.4" fill="none" stroke="#f07030" stroke-width="0.75"/>
<circle cx="152.8" cy="281" r="1.4" fill="none" stroke="#f07030" stroke-width="0.75"/>
<circle cx="153.4" cy="287" r="1.4" fill="none" stroke="#f07030" stroke-width="0.75"/>
<circle cx="153.9" cy="294" r="1.4" fill="none" stroke="#f07030" stroke-width="0.75"/>
<circle cx="154.4" cy="301.5" r="1.4" fill="none" stroke="#f07030" stroke-width="0.75"/>
<circle cx="154.9" cy="309.5" r="1.4" fill="none" stroke="#f07030" stroke-width="0.75"/>
<circle cx="155.4" cy="317.5" r="1.4" fill="none" stroke="#f07030" stroke-width="0.75"/>
<circle cx="155.9" cy="325.5" r="1.4" fill="none" stroke="#f07030" stroke-width="0.75"/>
<circle cx="156.4" cy="333.5" r="1.4" fill="none" stroke="#f07030" stroke-width="0.75"/>
<circle cx="156.9" cy="341.5" r="1.4" fill="none" stroke="#f07030" stroke-width="0.75"/>
<circle cx="157.4" cy="349" r="1.4" fill="none" stroke="#f07030" stroke-width="0.75"/>
<circle cx="157.9" cy="356" r="1.4" fill="none" stroke="#f07030" stroke-width="0.75"/>
<circle cx="158.5" cy="363" r="1.4" fill="none" stroke="#f07030" stroke-width="0.75"/>
<circle cx="159.1" cy="369.5" r="1.4" fill="none" stroke="#f07030" stroke-width="0.75"/>
<circle cx="159.8" cy="375" r="1.4" fill="none" stroke="#f07030" stroke-width="0.75"/>
<circle cx="160.6" cy="379.5" r="1.4" fill="none" stroke="#f07030" stroke-width="0.75"/>
<circle cx="161.6" cy="383" r="1.4" fill="none" stroke="#f07030" stroke-width="0.75"/>
<circle cx="162.8" cy="385.3" r="1.4" fill="none" stroke="#f07030" stroke-width="0.75"/>
<circle cx="164.2" cy="386.8" r="1.4" fill="none" stroke="#f07030" stroke-width="0.75"/>
<circle cx="165.8" cy="387.7" r="1.4" fill="none" stroke="#f07030" stroke-width="0.75"/>
<circle cx="167.5" cy="388.47" r="1.4" fill="none" stroke="#f07030" stroke-width="0.75"/>
<circle cx="169.2" cy="389.75" r="1.4" fill="none" stroke="#f07030" stroke-width="0.75"/>
<circle cx="170.9" cy="387.7" r="1.4" fill="none" stroke="#f07030" stroke-width="0.75"/>
<circle cx="172.6" cy="389.49" r="1.4" fill="none" stroke="#f07030" stroke-width="0.75"/>
<circle cx="174.3" cy="388.24" r="1.4" fill="none" stroke="#f07030" stroke-width="0.75"/>
<circle cx="176" cy="387.92" r="1.4" fill="none" stroke="#f07030" stroke-width="0.75"/>
<circle cx="177.7" cy="387.86" r="1.4" fill="none" stroke="#f07030" stroke-width="0.75"/>
<circle cx="179.4" cy="388.28" r="1.4" fill="none" stroke="#f07030" stroke-width="0.75"/>
<circle cx="181.1" cy="389.4" r="1.4" fill="none" stroke="#f07030" stroke-width="0.75"/>
<circle cx="182.8" cy="388" r="1.4" fill="none" stroke="#f07030" stroke-width="0.75"/>
<circle cx="184.5" cy="388.88" r="1.4" fill="none" stroke="#f07030" stroke-width="0.75"/>
<circle cx="186.2" cy="389.01" r="1.4" fill="none" stroke="#f07030" stroke-width="0.75"/>
<circle cx="187.9" cy="388.42" r="1.4" fill="none" stroke="#f07030" stroke-width="0.75"/>
<circle cx="189.6" cy="388.81" r="1.4" fill="none" stroke="#f07030" stroke-width="0.75"/>
<circle cx="191.3" cy="387.74" r="1.4" fill="none" stroke="#f07030" stroke-width="0.75"/>
<circle cx="193" cy="387.73" r="1.4" fill="none" stroke="#f07030" stroke-width="0.75"/>
<circle cx="194.7" cy="388.05" r="1.4" fill="none" stroke="#f07030" stroke-width="0.75"/>
<circle cx="196.4" cy="389.1" r="1.4" fill="none" stroke="#f07030" stroke-width="0.75"/>
<circle cx="198.1" cy="388.54" r="1.4" fill="none" stroke="#f07030" stroke-width="0.75"/>
<circle cx="199.8" cy="388.29" r="1.4" fill="none" stroke="#f07030" stroke-width="0.75"/></g>
<line x1="35.6" y1="271.3" x2="211.6" y2="271.3" stroke="#111" stroke-width="1" stroke-dasharray="3.6,2.4"/>
<line x1="35.6" y1="378.3" x2="211.6" y2="378.3" stroke="#111" stroke-width="1" stroke-dasharray="3.6,2.4"/>
<polygon points="95.22,340.35 139.34,349.55 150.72,314.92 113.24,307.81" fill="#9c8cc8" stroke="none" stroke-width="1"/>
<polygon points="95.22,340.35 139.34,349.55 139.34,350.98 95.22,341.77" fill="#c6bce0" stroke="none" stroke-width="1"/>
<polygon points="139.34,349.55 150.72,314.92 150.72,316.35 139.34,350.98" fill="#b0a4d4" stroke="none" stroke-width="1"/>
<polygon points="101.48,328.78 108.6,330.2 117.89,314.83 112.01,313.98" fill="#ee3b24" stroke="none" stroke-width="1"/>
<polygon points="108.6,330.2 109.54,330.48 118.75,315.11 117.89,314.83" fill="#b8402c" stroke="none" stroke-width="1"/>
<polygon points="113.53,330.77 120.65,332.19 127.38,315.97 121.5,315.11" fill="#ee3b24" stroke="none" stroke-width="1"/>
<polygon points="120.65,332.19 121.59,332.48 128.24,316.25 127.38,315.97" fill="#b8402c" stroke="none" stroke-width="1"/>
<polygon points="125.58,332.76 132.69,334.18 136.87,317.11 130.99,316.25" fill="#ee3b24" stroke="none" stroke-width="1"/>
<polygon points="132.69,334.18 133.64,334.47 137.72,317.39 136.87,317.11" fill="#b8402c" stroke="none" stroke-width="1"/>
<polygon points="137.63,334.75 144.74,336.18 146.36,318.24 140.47,317.39" fill="#ee3b24" stroke="none" stroke-width="1"/>
<polygon points="144.74,336.18 145.69,336.46 147.21,318.53 146.36,318.24" fill="#b8402c" stroke="none" stroke-width="1"/>
<polygon points="113.24,307.52 121.97,308.57 119.89,314.45 111.16,313.41" fill="#f2e66c" stroke="none" stroke-width="1"/>
<polygon points="111.16,313.41 119.89,314.45 119.89,315.97 111.16,314.92" fill="#e2d248" stroke="none" stroke-width="1"/>
<polygon points="122.73,308.66 131.46,309.71 129.37,315.59 120.65,314.54" fill="#f2e66c" stroke="none" stroke-width="1"/>
<polygon points="120.65,314.54 129.37,315.59 129.37,317.11 120.65,316.06" fill="#e2d248" stroke="none" stroke-width="1"/>
<polygon points="132.22,309.8 140.95,310.84 138.86,316.73 130.13,315.68" fill="#f2e66c" stroke="none" stroke-width="1"/>
<polygon points="130.13,315.68 138.86,316.73 138.86,318.24 130.13,317.2" fill="#e2d248" stroke="none" stroke-width="1"/>
<polygon points="141.71,310.94 150.44,311.98 148.35,317.87 139.62,316.82" fill="#f2e66c" stroke="none" stroke-width="1"/>
<polygon points="139.62,316.82 148.35,317.87 148.35,319.38 139.62,318.34" fill="#e2d248" stroke="none" stroke-width="1"/>
<polygon points="102.33,338.17 108.6,329.06 108.6,332.48 102.33,341.58" fill="#d9cb46" stroke="none" stroke-width="1"/>
<polygon points="95.22,336.75 102.33,338.17 108.6,329.06 101.48,327.64" fill="#ece262" stroke="none" stroke-width="1"/>
<polygon points="95.22,336.75 102.33,338.17 102.33,339.31 95.22,337.88" fill="#e4d650" stroke="none" stroke-width="1"/>
<polygon points="95.22,337.88 102.33,339.31 102.33,341.58 95.22,340.16" fill="#e8381f" stroke="none" stroke-width="1"/>
<polygon points="114.38,340.16 120.65,331.05 120.65,334.47 114.38,343.58" fill="#d9cb46" stroke="none" stroke-width="1"/>
<polygon points="107.27,338.74 114.38,340.16 120.65,331.05 113.53,329.63" fill="#ece262" stroke="none" stroke-width="1"/>
<polygon points="107.27,338.74 114.38,340.16 114.38,341.3 107.27,339.88" fill="#e4d650" stroke="none" stroke-width="1"/>
<polygon points="107.27,339.88 114.38,341.3 114.38,343.58 107.27,342.15" fill="#e8381f" stroke="none" stroke-width="1"/>
<polygon points="126.43,342.15 132.69,333.05 132.69,336.46 126.43,345.57" fill="#d9cb46" stroke="none" stroke-width="1"/>
<polygon points="119.32,340.73 126.43,342.15 132.69,333.05 125.58,331.62" fill="#ece262" stroke="none" stroke-width="1"/>
<polygon points="119.32,340.73 126.43,342.15 126.43,343.29 119.32,341.87" fill="#e4d650" stroke="none" stroke-width="1"/>
<polygon points="119.32,341.87 126.43,343.29 126.43,345.57 119.32,344.15" fill="#e8381f" stroke="none" stroke-width="1"/>
<polygon points="138.48,344.15 144.74,335.04 144.74,338.45 138.48,347.56" fill="#d9cb46" stroke="none" stroke-width="1"/>
<polygon points="131.37,342.72 138.48,344.15 144.74,335.04 137.63,333.61" fill="#ece262" stroke="none" stroke-width="1"/>
<polygon points="131.37,342.72 138.48,344.15 138.48,345.28 131.37,343.86" fill="#e4d650" stroke="none" stroke-width="1"/>
<polygon points="131.37,343.86 138.48,345.28 138.48,347.56 131.37,346.14" fill="#e8381f" stroke="none" stroke-width="1"/>
<defs><linearGradient id="ga228" x1="0" y1="0" x2="0" y2="1"><stop offset="0" stop-color="#5aa860" stop-opacity="0.15"/><stop offset="1" stop-color="#3f9a48"/></linearGradient></defs>
<rect x="110.03" y="302.12" width="3.2" height="15.24" fill="url(#ga228)" stroke="none" stroke-width="1"/>
<polygon points="108.23,316.66 115.03,316.66 111.63,321.06" fill="#3f9a48" stroke="none" stroke-width="1"/>
<defs><linearGradient id="ga385" x1="0" y1="0" x2="0" y2="1"><stop offset="0" stop-color="#5aa860" stop-opacity="0.15"/><stop offset="1" stop-color="#3f9a48"/></linearGradient></defs>
<rect x="124.93" y="304.01" width="3.2" height="15.81" fill="url(#ga385)" stroke="none" stroke-width="1"/>
<polygon points="123.13,319.12 129.93,319.12 126.53,323.52" fill="#3f9a48" stroke="none" stroke-width="1"/>
<defs><linearGradient id="ga540" x1="0" y1="0" x2="0" y2="1"><stop offset="0" stop-color="#5aa860" stop-opacity="0.15"/><stop offset="1" stop-color="#3f9a48"/></linearGradient></defs>
<rect x="139.63" y="308.28" width="3.2" height="15.72" fill="url(#ga540)" stroke="none" stroke-width="1"/>
<polygon points="137.83,323.3 144.63,323.3 141.23,327.7" fill="#3f9a48" stroke="none" stroke-width="1"/>
<line x1="122.8" y1="256.1" x2="138.9" y2="256.1" stroke="#f07030" stroke-width="1.1"/>
<circle cx="130.9" cy="256.1" r="1.4" fill="#fff" stroke="#f07030" stroke-width="0.8"/>
<text x="142.1" y="256.3" font-size="7.4" text-anchor="start" font-weight="bold" fill="#111" dominant-baseline="central">Transient response</text>
<text x="36.8" y="328.4" font-size="7" text-anchor="start" font-weight="bold" fill="#111" dominant-baseline="central">τ<tspan font-size="5.2" dy="1.8">decay</tspan><tspan dy="-1.8">=98.7 μs</tspan></text>
<text x="161.2" y="329.2" font-size="7" text-anchor="start" font-weight="bold" fill="#111" dominant-baseline="central">τ<tspan font-size="5.2" dy="1.8">decay</tspan><tspan dy="-1.8">=56.6 μs</tspan></text>
<line x1="35.6" y1="251.2" x2="116.1" y2="251.2" stroke="#111" stroke-width="1.2"/>
<line x1="118.5" y1="251.2" x2="211.6" y2="251.2" stroke="#111" stroke-width="1.2"/>
<line x1="35.6" y1="392" x2="116.1" y2="392" stroke="#111" stroke-width="1.2"/>
<line x1="118.5" y1="392" x2="211.6" y2="392" stroke="#111" stroke-width="1.2"/>
<line x1="35.6" y1="251.2" x2="35.6" y2="392" stroke="#111" stroke-width="1.2"/>
<line x1="211.6" y1="251.2" x2="211.6" y2="392" stroke="#111" stroke-width="1.2"/>
<line x1="114.7" y1="253.4" x2="117.1" y2="249" stroke="#111" stroke-width="0.9"/>
<line x1="117.7" y1="253.4" x2="120.1" y2="249" stroke="#111" stroke-width="0.9"/>
<line x1="114.7" y1="394.2" x2="117.1" y2="389.8" stroke="#111" stroke-width="0.9"/>
<line x1="117.7" y1="394.2" x2="120.1" y2="389.8" stroke="#111" stroke-width="0.9"/>
<line x1="33.3" y1="392" x2="35.6" y2="392" stroke="#111" stroke-width="1"/>
<line x1="209.6" y1="392" x2="211.6" y2="392" stroke="#111" stroke-width="0.9"/>
<text x="33.2" y="392" font-size="8.3" text-anchor="end" font-weight="bold" fill="#111" dominant-baseline="central">0.0</text>
<line x1="34.3" y1="385.6" x2="35.6" y2="385.6" stroke="#111" stroke-width="0.7"/>
<line x1="33.3" y1="379.2" x2="35.6" y2="379.2" stroke="#111" stroke-width="1"/>
<line x1="209.6" y1="379.2" x2="211.6" y2="379.2" stroke="#111" stroke-width="0.9"/>
<text x="33.2" y="379.2" font-size="8.3" text-anchor="end" font-weight="bold" fill="#111" dominant-baseline="central">0.1</text>
<line x1="34.3" y1="372.8" x2="35.6" y2="372.8" stroke="#111" stroke-width="0.7"/>
<line x1="33.3" y1="366.4" x2="35.6" y2="366.4" stroke="#111" stroke-width="1"/>
<line x1="209.6" y1="366.4" x2="211.6" y2="366.4" stroke="#111" stroke-width="0.9"/>
<text x="33.2" y="366.4" font-size="8.3" text-anchor="end" font-weight="bold" fill="#111" dominant-baseline="central">0.2</text>
<line x1="34.3" y1="360" x2="35.6" y2="360" stroke="#111" stroke-width="0.7"/>
<line x1="33.3" y1="353.6" x2="35.6" y2="353.6" stroke="#111" stroke-width="1"/>
<line x1="209.6" y1="353.6" x2="211.6" y2="353.6" stroke="#111" stroke-width="0.9"/>
<text x="33.2" y="353.6" font-size="8.3" text-anchor="end" font-weight="bold" fill="#111" dominant-baseline="central">0.3</text>
<line x1="34.3" y1="347.2" x2="35.6" y2="347.2" stroke="#111" stroke-width="0.7"/>
<line x1="33.3" y1="340.8" x2="35.6" y2="340.8" stroke="#111" stroke-width="1"/>
<line x1="209.6" y1="340.8" x2="211.6" y2="340.8" stroke="#111" stroke-width="0.9"/>
<text x="33.2" y="340.8" font-size="8.3" text-anchor="end" font-weight="bold" fill="#111" dominant-baseline="central">0.4</text>
<line x1="34.3" y1="334.4" x2="35.6" y2="334.4" stroke="#111" stroke-width="0.7"/>
<line x1="33.3" y1="328" x2="35.6" y2="328" stroke="#111" stroke-width="1"/>
<line x1="209.6" y1="328" x2="211.6" y2="328" stroke="#111" stroke-width="0.9"/>
<text x="33.2" y="328" font-size="8.3" text-anchor="end" font-weight="bold" fill="#111" dominant-baseline="central">0.5</text>
<line x1="34.3" y1="321.6" x2="35.6" y2="321.6" stroke="#111" stroke-width="0.7"/>
<line x1="33.3" y1="315.2" x2="35.6" y2="315.2" stroke="#111" stroke-width="1"/>
<line x1="209.6" y1="315.2" x2="211.6" y2="315.2" stroke="#111" stroke-width="0.9"/>
<text x="33.2" y="315.2" font-size="8.3" text-anchor="end" font-weight="bold" fill="#111" dominant-baseline="central">0.6</text>
<line x1="34.3" y1="308.8" x2="35.6" y2="308.8" stroke="#111" stroke-width="0.7"/>
<line x1="33.3" y1="302.4" x2="35.6" y2="302.4" stroke="#111" stroke-width="1"/>
<line x1="209.6" y1="302.4" x2="211.6" y2="302.4" stroke="#111" stroke-width="0.9"/>
<text x="33.2" y="302.4" font-size="8.3" text-anchor="end" font-weight="bold" fill="#111" dominant-baseline="central">0.7</text>
<line x1="34.3" y1="296" x2="35.6" y2="296" stroke="#111" stroke-width="0.7"/>
<line x1="33.3" y1="289.6" x2="35.6" y2="289.6" stroke="#111" stroke-width="1"/>
<line x1="209.6" y1="289.6" x2="211.6" y2="289.6" stroke="#111" stroke-width="0.9"/>
<text x="33.2" y="289.6" font-size="8.3" text-anchor="end" font-weight="bold" fill="#111" dominant-baseline="central">0.8</text>
<line x1="34.3" y1="283.2" x2="35.6" y2="283.2" stroke="#111" stroke-width="0.7"/>
<line x1="33.3" y1="276.8" x2="35.6" y2="276.8" stroke="#111" stroke-width="1"/>
<line x1="209.6" y1="276.8" x2="211.6" y2="276.8" stroke="#111" stroke-width="0.9"/>
<text x="33.2" y="276.8" font-size="8.3" text-anchor="end" font-weight="bold" fill="#111" dominant-baseline="central">0.9</text>
<line x1="34.3" y1="270.4" x2="35.6" y2="270.4" stroke="#111" stroke-width="0.7"/>
<line x1="33.3" y1="264" x2="35.6" y2="264" stroke="#111" stroke-width="1"/>
<line x1="209.6" y1="264" x2="211.6" y2="264" stroke="#111" stroke-width="0.9"/>
<text x="33.2" y="264" font-size="8.3" text-anchor="end" font-weight="bold" fill="#111" dominant-baseline="central">1.0</text>
<line x1="34.3" y1="257.6" x2="35.6" y2="257.6" stroke="#111" stroke-width="0.7"/>
<line x1="33.3" y1="251.2" x2="35.6" y2="251.2" stroke="#111" stroke-width="1"/>
<line x1="209.6" y1="251.2" x2="211.6" y2="251.2" stroke="#111" stroke-width="0.9"/>
<text x="33.2" y="251.2" font-size="8.3" text-anchor="end" font-weight="bold" fill="#111" dominant-baseline="central">1.1</text>
<line x1="46.4" y1="392" x2="46.4" y2="394.4" stroke="#111" stroke-width="1"/>
<text x="46.4" y="400.2" font-size="8.3" text-anchor="middle" font-weight="bold" fill="#111" dominant-baseline="central">0.0</text>
<line x1="69.6" y1="392" x2="69.6" y2="394.4" stroke="#111" stroke-width="1"/>
<text x="69.6" y="400.2" font-size="8.3" text-anchor="middle" font-weight="bold" fill="#111" dominant-baseline="central">0.2</text>
<line x1="92.8" y1="392" x2="92.8" y2="394.4" stroke="#111" stroke-width="1"/>
<text x="92.8" y="400.2" font-size="8.3" text-anchor="middle" font-weight="bold" fill="#111" dominant-baseline="central">0.4</text>
<line x1="34.8" y1="392" x2="34.8" y2="393.3" stroke="#111" stroke-width="0.7"/>
<line x1="58" y1="392" x2="58" y2="393.3" stroke="#111" stroke-width="0.7"/>
<line x1="81.2" y1="392" x2="81.2" y2="393.3" stroke="#111" stroke-width="0.7"/>
<line x1="104.4" y1="392" x2="104.4" y2="393.3" stroke="#111" stroke-width="0.7"/>
<line x1="118.8" y1="392" x2="118.8" y2="394.4" stroke="#111" stroke-width="1"/>
<text x="118.8" y="400.2" font-size="8.3" text-anchor="middle" font-weight="bold" fill="#111" dominant-baseline="central">1.2</text>
<line x1="141.9" y1="392" x2="141.9" y2="394.4" stroke="#111" stroke-width="1"/>
<text x="141.9" y="400.2" font-size="8.3" text-anchor="middle" font-weight="bold" fill="#111" dominant-baseline="central">1.4</text>
<line x1="165" y1="392" x2="165" y2="394.4" stroke="#111" stroke-width="1"/>
<text x="165" y="400.2" font-size="8.3" text-anchor="middle" font-weight="bold" fill="#111" dominant-baseline="central">1.6</text>
<line x1="188.1" y1="392" x2="188.1" y2="394.4" stroke="#111" stroke-width="1"/>
<text x="188.1" y="400.2" font-size="8.3" text-anchor="middle" font-weight="bold" fill="#111" dominant-baseline="central">1.8</text>
<line x1="211.2" y1="392" x2="211.2" y2="394.4" stroke="#111" stroke-width="1"/>
<text x="211.2" y="400.2" font-size="8.3" text-anchor="middle" font-weight="bold" fill="#111" dominant-baseline="central">2.0</text>
<line x1="130.35" y1="392" x2="130.35" y2="393.3" stroke="#111" stroke-width="0.7"/>
<line x1="153.45" y1="392" x2="153.45" y2="393.3" stroke="#111" stroke-width="0.7"/>
<line x1="176.55" y1="392" x2="176.55" y2="393.3" stroke="#111" stroke-width="0.7"/>
<line x1="199.65" y1="392" x2="199.65" y2="393.3" stroke="#111" stroke-width="0.7"/>
<text x="122.6" y="416" font-size="8.6" text-anchor="middle" font-weight="bold" fill="#111" dominant-baseline="central">Time (ms)</text>
<text x="14.4" y="311.5" font-size="8.6" text-anchor="middle" font-weight="bold" fill="#111" dominant-baseline="central" transform="rotate(-90 14.4 311.5)">Normalized current(arb.units)</text>
<polyline points="259.6,392.3 271.6,392.3 271.6,279 285.6,279 285.6,392.3 296.5,392.3 296.5,279.94 310.2,279.94 310.2,392.3 322.4,392.3 322.4,279.94 335.2,279.94 335.2,392.3 347.3,392.3 347.3,279.59 360.4,279.59 360.4,392.3 371.8,392.3 371.8,279.24 385.8,279.24 385.8,392.3 393.1,392.3" fill="none" stroke="#e8303c" stroke-width="1.15" stroke-linejoin="round"/>
<line x1="271.6" y1="279.7" x2="285.6" y2="279.7" stroke="#e8303c" stroke-width="2.4"/>
<circle cx="271.9" cy="278.7" r="1.35" fill="#fff" stroke="#e8303c" stroke-width="0.9"/>
<circle cx="285.2" cy="280.2" r="1.35" fill="#fff" stroke="#e8303c" stroke-width="0.9"/>
<circle cx="285.6" cy="281.6" r="1.1" fill="#fff" stroke="#e8303c" stroke-width="0.7"/>
<line x1="296.5" y1="280.64" x2="310.2" y2="280.64" stroke="#e8303c" stroke-width="2.4"/>
<circle cx="296.8" cy="279.64" r="1.35" fill="#fff" stroke="#e8303c" stroke-width="0.9"/>
<circle cx="309.8" cy="281.14" r="1.35" fill="#fff" stroke="#e8303c" stroke-width="0.9"/>
<circle cx="310.2" cy="282.54" r="1.1" fill="#fff" stroke="#e8303c" stroke-width="0.7"/>
<line x1="322.4" y1="280.64" x2="335.2" y2="280.64" stroke="#e8303c" stroke-width="2.4"/>
<circle cx="322.7" cy="279.64" r="1.35" fill="#fff" stroke="#e8303c" stroke-width="0.9"/>
<circle cx="334.8" cy="281.14" r="1.35" fill="#fff" stroke="#e8303c" stroke-width="0.9"/>
<circle cx="335.2" cy="282.54" r="1.1" fill="#fff" stroke="#e8303c" stroke-width="0.7"/>
<line x1="347.3" y1="280.29" x2="360.4" y2="280.29" stroke="#e8303c" stroke-width="2.4"/>
<circle cx="347.6" cy="279.29" r="1.35" fill="#fff" stroke="#e8303c" stroke-width="0.9"/>
<circle cx="360" cy="280.79" r="1.35" fill="#fff" stroke="#e8303c" stroke-width="0.9"/>
<circle cx="360.4" cy="282.19" r="1.1" fill="#fff" stroke="#e8303c" stroke-width="0.7"/>
<line x1="371.8" y1="279.94" x2="385.8" y2="279.94" stroke="#e8303c" stroke-width="2.4"/>
<circle cx="372.1" cy="278.94" r="1.35" fill="#fff" stroke="#e8303c" stroke-width="0.9"/>
<circle cx="385.4" cy="280.44" r="1.35" fill="#fff" stroke="#e8303c" stroke-width="0.9"/>
<circle cx="385.8" cy="281.84" r="1.1" fill="#fff" stroke="#e8303c" stroke-width="0.7"/>
<line x1="259.6" y1="392.4" x2="393.1" y2="392.4" stroke="#e8303c" stroke-width="2.6"/>
<circle cx="271" cy="392.3" r="1.2" fill="#fff" stroke="#e8303c" stroke-width="0.7"/>
<circle cx="286.2" cy="392.3" r="1.2" fill="#fff" stroke="#e8303c" stroke-width="0.7"/>
<circle cx="295.9" cy="392.3" r="1.2" fill="#fff" stroke="#e8303c" stroke-width="0.7"/>
<circle cx="310.8" cy="392.3" r="1.2" fill="#fff" stroke="#e8303c" stroke-width="0.7"/>
<circle cx="321.8" cy="392.3" r="1.2" fill="#fff" stroke="#e8303c" stroke-width="0.7"/>
<circle cx="335.8" cy="392.3" r="1.2" fill="#fff" stroke="#e8303c" stroke-width="0.7"/>
<circle cx="346.7" cy="392.3" r="1.2" fill="#fff" stroke="#e8303c" stroke-width="0.7"/>
<circle cx="361" cy="392.3" r="1.2" fill="#fff" stroke="#e8303c" stroke-width="0.7"/>
<circle cx="371.2" cy="392.3" r="1.2" fill="#fff" stroke="#e8303c" stroke-width="0.7"/>
<circle cx="386.4" cy="392.3" r="1.2" fill="#fff" stroke="#e8303c" stroke-width="0.7"/>
<circle cx="271.6" cy="301.2" r="1.35" fill="#fff" stroke="#e8303c" stroke-width="1"/>
<circle cx="285.6" cy="321.05" r="1.35" fill="#fff" stroke="#e8303c" stroke-width="1"/>
<circle cx="296.5" cy="330.4" r="1.35" fill="#fff" stroke="#e8303c" stroke-width="1"/>
<circle cx="335.2" cy="300.03" r="1.35" fill="#fff" stroke="#e8303c" stroke-width="1"/>
<circle cx="347.3" cy="294.19" r="1.35" fill="#fff" stroke="#e8303c" stroke-width="1"/>
<circle cx="371.8" cy="360.76" r="1.35" fill="#fff" stroke="#e8303c" stroke-width="1"/>
<circle cx="385.8" cy="382.96" r="1.35" fill="#fff" stroke="#e8303c" stroke-width="1"/>
<polyline points="393.1,392.3 406.6,392.3 406.6,286.6 421.2,286.6 421.2,392.3 431.7,392.3 431.7,286.6 445.2,286.6 445.2,392.3 458,392.3 458,286.01 470.6,286.01 470.6,392.3 482.9,392.3 482.9,286.01 496,286.01 496,392.3 507.4,392.3 507.4,286.01 519.6,286.01 519.6,392.3 528.9,392.3" fill="none" stroke="#3d74c2" stroke-width="1.15" stroke-linejoin="round"/>
<line x1="406.6" y1="287.3" x2="421.2" y2="287.3" stroke="#3d74c2" stroke-width="2.4"/>
<circle cx="406.9" cy="286.3" r="1.35" fill="#fff" stroke="#3d74c2" stroke-width="0.9"/>
<circle cx="420.8" cy="287.8" r="1.35" fill="#fff" stroke="#3d74c2" stroke-width="0.9"/>
<circle cx="421.2" cy="289.2" r="1.1" fill="#fff" stroke="#3d74c2" stroke-width="0.7"/>
<line x1="431.7" y1="287.3" x2="445.2" y2="287.3" stroke="#3d74c2" stroke-width="2.4"/>
<circle cx="432" cy="286.3" r="1.35" fill="#fff" stroke="#3d74c2" stroke-width="0.9"/>
<circle cx="444.8" cy="287.8" r="1.35" fill="#fff" stroke="#3d74c2" stroke-width="0.9"/>
<circle cx="445.2" cy="289.2" r="1.1" fill="#fff" stroke="#3d74c2" stroke-width="0.7"/>
<line x1="458" y1="286.71" x2="470.6" y2="286.71" stroke="#3d74c2" stroke-width="2.4"/>
<circle cx="458.3" cy="285.71" r="1.35" fill="#fff" stroke="#3d74c2" stroke-width="0.9"/>
<circle cx="470.2" cy="287.21" r="1.35" fill="#fff" stroke="#3d74c2" stroke-width="0.9"/>
<circle cx="470.6" cy="288.61" r="1.1" fill="#fff" stroke="#3d74c2" stroke-width="0.7"/>
<line x1="482.9" y1="286.71" x2="496" y2="286.71" stroke="#3d74c2" stroke-width="2.4"/>
<circle cx="483.2" cy="285.71" r="1.35" fill="#fff" stroke="#3d74c2" stroke-width="0.9"/>
<circle cx="495.6" cy="287.21" r="1.35" fill="#fff" stroke="#3d74c2" stroke-width="0.9"/>
<circle cx="496" cy="288.61" r="1.1" fill="#fff" stroke="#3d74c2" stroke-width="0.7"/>
<line x1="507.4" y1="286.71" x2="519.6" y2="286.71" stroke="#3d74c2" stroke-width="2.4"/>
<circle cx="507.7" cy="285.71" r="1.35" fill="#fff" stroke="#3d74c2" stroke-width="0.9"/>
<circle cx="519.2" cy="287.21" r="1.35" fill="#fff" stroke="#3d74c2" stroke-width="0.9"/>
<circle cx="519.6" cy="288.61" r="1.1" fill="#fff" stroke="#3d74c2" stroke-width="0.7"/>
<line x1="393.1" y1="392.4" x2="528.9" y2="392.4" stroke="#3d74c2" stroke-width="2.6"/>
<circle cx="406" cy="392.3" r="1.2" fill="#fff" stroke="#3d74c2" stroke-width="0.7"/>
<circle cx="421.8" cy="392.3" r="1.2" fill="#fff" stroke="#3d74c2" stroke-width="0.7"/>
<circle cx="431.1" cy="392.3" r="1.2" fill="#fff" stroke="#3d74c2" stroke-width="0.7"/>
<circle cx="445.8" cy="392.3" r="1.2" fill="#fff" stroke="#3d74c2" stroke-width="0.7"/>
<circle cx="457.4" cy="392.3" r="1.2" fill="#fff" stroke="#3d74c2" stroke-width="0.7"/>
<circle cx="471.2" cy="392.3" r="1.2" fill="#fff" stroke="#3d74c2" stroke-width="0.7"/>
<circle cx="482.3" cy="392.3" r="1.2" fill="#fff" stroke="#3d74c2" stroke-width="0.7"/>
<circle cx="496.6" cy="392.3" r="1.2" fill="#fff" stroke="#3d74c2" stroke-width="0.7"/>
<circle cx="506.8" cy="392.3" r="1.2" fill="#fff" stroke="#3d74c2" stroke-width="0.7"/>
<circle cx="520.2" cy="392.3" r="1.2" fill="#fff" stroke="#3d74c2" stroke-width="0.7"/>
<circle cx="406.6" cy="364.27" r="1.35" fill="#fff" stroke="#3d74c2" stroke-width="1"/>
<circle cx="421.2" cy="380.62" r="1.35" fill="#fff" stroke="#3d74c2" stroke-width="1"/>
<circle cx="431.7" cy="310.54" r="1.35" fill="#fff" stroke="#3d74c2" stroke-width="1"/>
<circle cx="458" cy="304.7" r="1.35" fill="#fff" stroke="#3d74c2" stroke-width="1"/>
<circle cx="482.9" cy="297.69" r="1.35" fill="#fff" stroke="#3d74c2" stroke-width="1"/>
<circle cx="507.4" cy="326.89" r="1.35" fill="#fff" stroke="#3d74c2" stroke-width="1"/>
<polyline points="528.9,392.3 541.2,392.3 541.2,290.45 555.7,290.45 555.7,392.3 566.2,392.3 566.2,290.68 580.2,290.68 580.2,392.3 591.7,392.3 591.7,290.68 605.4,290.68 605.4,392.3 617.2,392.3 617.2,290.68 630.3,290.68 630.3,392.3 642.5,392.3 642.5,290.1 654.6,290.1 654.6,392.3 661.6,392.3" fill="none" stroke="#1a1a1a" stroke-width="1.15" stroke-linejoin="round"/>
<line x1="541.2" y1="291.15" x2="555.7" y2="291.15" stroke="#1a1a1a" stroke-width="2.4"/>
<circle cx="541.5" cy="290.15" r="1.35" fill="#fff" stroke="#1a1a1a" stroke-width="0.9"/>
<circle cx="555.3" cy="291.65" r="1.35" fill="#fff" stroke="#1a1a1a" stroke-width="0.9"/>
<circle cx="555.7" cy="293.05" r="1.1" fill="#fff" stroke="#1a1a1a" stroke-width="0.7"/>
<line x1="566.2" y1="291.38" x2="580.2" y2="291.38" stroke="#1a1a1a" stroke-width="2.4"/>
<circle cx="566.5" cy="290.38" r="1.35" fill="#fff" stroke="#1a1a1a" stroke-width="0.9"/>
<circle cx="579.8" cy="291.88" r="1.35" fill="#fff" stroke="#1a1a1a" stroke-width="0.9"/>
<circle cx="580.2" cy="293.28" r="1.1" fill="#fff" stroke="#1a1a1a" stroke-width="0.7"/>
<line x1="591.7" y1="291.38" x2="605.4" y2="291.38" stroke="#1a1a1a" stroke-width="2.4"/>
<circle cx="592" cy="290.38" r="1.35" fill="#fff" stroke="#1a1a1a" stroke-width="0.9"/>
<circle cx="605" cy="291.88" r="1.35" fill="#fff" stroke="#1a1a1a" stroke-width="0.9"/>
<circle cx="605.4" cy="293.28" r="1.1" fill="#fff" stroke="#1a1a1a" stroke-width="0.7"/>
<line x1="617.2" y1="291.38" x2="630.3" y2="291.38" stroke="#1a1a1a" stroke-width="2.4"/>
<circle cx="617.5" cy="290.38" r="1.35" fill="#fff" stroke="#1a1a1a" stroke-width="0.9"/>
<circle cx="629.9" cy="291.88" r="1.35" fill="#fff" stroke="#1a1a1a" stroke-width="0.9"/>
<circle cx="630.3" cy="293.28" r="1.1" fill="#fff" stroke="#1a1a1a" stroke-width="0.7"/>
<line x1="642.5" y1="290.8" x2="654.6" y2="290.8" stroke="#1a1a1a" stroke-width="2.4"/>
<circle cx="642.8" cy="289.8" r="1.35" fill="#fff" stroke="#1a1a1a" stroke-width="0.9"/>
<circle cx="654.2" cy="291.3" r="1.35" fill="#fff" stroke="#1a1a1a" stroke-width="0.9"/>
<circle cx="654.6" cy="292.7" r="1.1" fill="#fff" stroke="#1a1a1a" stroke-width="0.7"/>
<line x1="528.9" y1="392.4" x2="661.6" y2="392.4" stroke="#1a1a1a" stroke-width="2.6"/>
<circle cx="540.6" cy="392.3" r="1.2" fill="#fff" stroke="#1a1a1a" stroke-width="0.7"/>
<circle cx="556.3" cy="392.3" r="1.2" fill="#fff" stroke="#1a1a1a" stroke-width="0.7"/>
<circle cx="565.6" cy="392.3" r="1.2" fill="#fff" stroke="#1a1a1a" stroke-width="0.7"/>
<circle cx="580.8" cy="392.3" r="1.2" fill="#fff" stroke="#1a1a1a" stroke-width="0.7"/>
<circle cx="591.1" cy="392.3" r="1.2" fill="#fff" stroke="#1a1a1a" stroke-width="0.7"/>
<circle cx="606" cy="392.3" r="1.2" fill="#fff" stroke="#1a1a1a" stroke-width="0.7"/>
<circle cx="616.6" cy="392.3" r="1.2" fill="#fff" stroke="#1a1a1a" stroke-width="0.7"/>
<circle cx="630.9" cy="392.3" r="1.2" fill="#fff" stroke="#1a1a1a" stroke-width="0.7"/>
<circle cx="641.9" cy="392.3" r="1.2" fill="#fff" stroke="#1a1a1a" stroke-width="0.7"/>
<circle cx="655.2" cy="392.3" r="1.2" fill="#fff" stroke="#1a1a1a" stroke-width="0.7"/>
<circle cx="566.2" cy="381.79" r="1.35" fill="#fff" stroke="#1a1a1a" stroke-width="1"/>
<circle cx="591.7" cy="338.57" r="1.35" fill="#fff" stroke="#1a1a1a" stroke-width="1"/>
<circle cx="617.2" cy="365.44" r="1.35" fill="#fff" stroke="#1a1a1a" stroke-width="1"/>
<circle cx="642.5" cy="297.69" r="1.35" fill="#fff" stroke="#1a1a1a" stroke-width="1"/>
<polyline points="271.8,275.4 273.5,277.4 276,278" fill="none" stroke="#e8303c" stroke-width="1.2" stroke-linejoin="round"/>
<circle cx="271.8" cy="275.4" r="1.3" fill="#fff" stroke="#e8303c" stroke-width="0.75"/>
<polyline points="406.8,282 408.5,283 410.5,284.5 413,285.6" fill="none" stroke="#3d74c2" stroke-width="2.2" stroke-linejoin="round"/>
<circle cx="406.9" cy="282" r="1.35" fill="#fff" stroke="#3d74c2" stroke-width="0.9"/>
<text x="322.5" y="269" font-size="8.3" text-anchor="middle" font-weight="bold" fill="#e8303c" dominant-baseline="central">Fresh(100%)</text>
<text x="459.8" y="275.5" font-size="8.3" text-anchor="middle" font-weight="bold" fill="#3d74c2" dominant-baseline="central">85%RH, 150h,(93%)</text>
<text x="595" y="280.4" font-size="8.3" text-anchor="middle" font-weight="bold" fill="#1a1a1a" dominant-baseline="central">85%RH, 300h,(87%)</text>
<rect x="253.3" y="251.5" width="420.4" height="147.5" fill="none" stroke="#111" stroke-width="1.2"/>
<line x1="250.9" y1="392.3" x2="253.3" y2="392.3" stroke="#111" stroke-width="1"/>
<text x="250.2" y="392.3" font-size="8.3" text-anchor="end" font-weight="bold" fill="#111" dominant-baseline="central">0.0</text>
<line x1="252" y1="380.62" x2="253.3" y2="380.62" stroke="#111" stroke-width="0.7"/>
<line x1="250.9" y1="368.94" x2="253.3" y2="368.94" stroke="#111" stroke-width="1"/>
<text x="250.2" y="368.94" font-size="8.3" text-anchor="end" font-weight="bold" fill="#111" dominant-baseline="central">0.2</text>
<line x1="252" y1="357.26" x2="253.3" y2="357.26" stroke="#111" stroke-width="0.7"/>
<line x1="250.9" y1="345.58" x2="253.3" y2="345.58" stroke="#111" stroke-width="1"/>
<text x="250.2" y="345.58" font-size="8.3" text-anchor="end" font-weight="bold" fill="#111" dominant-baseline="central">0.4</text>
<line x1="252" y1="333.9" x2="253.3" y2="333.9" stroke="#111" stroke-width="0.7"/>
<line x1="250.9" y1="322.22" x2="253.3" y2="322.22" stroke="#111" stroke-width="1"/>
<text x="250.2" y="322.22" font-size="8.3" text-anchor="end" font-weight="bold" fill="#111" dominant-baseline="central">0.6</text>
<line x1="252" y1="310.54" x2="253.3" y2="310.54" stroke="#111" stroke-width="0.7"/>
<line x1="250.9" y1="298.86" x2="253.3" y2="298.86" stroke="#111" stroke-width="1"/>
<text x="250.2" y="298.86" font-size="8.3" text-anchor="end" font-weight="bold" fill="#111" dominant-baseline="central">0.8</text>
<line x1="252" y1="287.18" x2="253.3" y2="287.18" stroke="#111" stroke-width="0.7"/>
<line x1="250.9" y1="275.5" x2="253.3" y2="275.5" stroke="#111" stroke-width="1"/>
<text x="250.2" y="275.5" font-size="8.3" text-anchor="end" font-weight="bold" fill="#111" dominant-baseline="central">1.0</text>
<line x1="252" y1="263.82" x2="253.3" y2="263.82" stroke="#111" stroke-width="0.7"/>
<line x1="250.9" y1="252.14" x2="253.3" y2="252.14" stroke="#111" stroke-width="1"/>
<text x="250.2" y="252.14" font-size="8.3" text-anchor="end" font-weight="bold" fill="#111" dominant-baseline="central">1.2</text>
<line x1="253.3" y1="399" x2="253.3" y2="401.4" stroke="#111" stroke-width="1"/>
<text x="253.3" y="407.4" font-size="8.3" text-anchor="middle" font-weight="bold" fill="#111" dominant-baseline="central">0</text>
<line x1="283.3" y1="399" x2="283.3" y2="400.3" stroke="#111" stroke-width="0.7"/>
<line x1="313.36" y1="399" x2="313.36" y2="401.4" stroke="#111" stroke-width="1"/>
<text x="313.36" y="407.4" font-size="8.3" text-anchor="middle" font-weight="bold" fill="#111" dominant-baseline="central">50</text>
<line x1="343.36" y1="399" x2="343.36" y2="400.3" stroke="#111" stroke-width="0.7"/>
<line x1="373.41" y1="399" x2="373.41" y2="401.4" stroke="#111" stroke-width="1"/>
<text x="373.41" y="407.4" font-size="8.3" text-anchor="middle" font-weight="bold" fill="#111" dominant-baseline="central">100</text>
<line x1="403.41" y1="399" x2="403.41" y2="400.3" stroke="#111" stroke-width="0.7"/>
<line x1="433.47" y1="399" x2="433.47" y2="401.4" stroke="#111" stroke-width="1"/>
<text x="433.47" y="407.4" font-size="8.3" text-anchor="middle" font-weight="bold" fill="#111" dominant-baseline="central">150</text>
<line x1="463.47" y1="399" x2="463.47" y2="400.3" stroke="#111" stroke-width="0.7"/>
<line x1="493.52" y1="399" x2="493.52" y2="401.4" stroke="#111" stroke-width="1"/>
<text x="493.52" y="407.4" font-size="8.3" text-anchor="middle" font-weight="bold" fill="#111" dominant-baseline="central">200</text>
<line x1="523.52" y1="399" x2="523.52" y2="400.3" stroke="#111" stroke-width="0.7"/>
<line x1="553.58" y1="399" x2="553.58" y2="401.4" stroke="#111" stroke-width="1"/>
<text x="553.58" y="407.4" font-size="8.3" text-anchor="middle" font-weight="bold" fill="#111" dominant-baseline="central">250</text>
<line x1="583.58" y1="399" x2="583.58" y2="400.3" stroke="#111" stroke-width="0.7"/>
<line x1="613.63" y1="399" x2="613.63" y2="401.4" stroke="#111" stroke-width="1"/>
<text x="613.63" y="407.4" font-size="8.3" text-anchor="middle" font-weight="bold" fill="#111" dominant-baseline="central">300</text>
<line x1="643.63" y1="399" x2="643.63" y2="400.3" stroke="#111" stroke-width="0.7"/>
<line x1="673.69" y1="399" x2="673.69" y2="401.4" stroke="#111" stroke-width="1"/>
<text x="673.69" y="407.4" font-size="8.3" text-anchor="middle" font-weight="bold" fill="#111" dominant-baseline="central">350</text>
<text x="462.3" y="418.2" font-size="8.6" text-anchor="middle" font-weight="bold" fill="#111" dominant-baseline="central">Time(s)</text>
<text x="232.4" y="318.6" font-size="8.6" text-anchor="middle" font-weight="bold" fill="#111" dominant-baseline="central" transform="rotate(-90 232.4 318.6)">Normalized current(arb.units)</text>
<defs><linearGradient id="fb0" x1="0" y1="0" x2="1" y2="0"><stop offset="0" stop-color="#b89076"/><stop offset="0.3" stop-color="#e8bb9e"/><stop offset="0.65" stop-color="#e6b494"/><stop offset="1" stop-color="#8a6c58"/></linearGradient><linearGradient id="fb1" x1="0" y1="0" x2="1" y2="0"><stop offset="0" stop-color="#769b78"/><stop offset="0.3" stop-color="#9ec8a0"/><stop offset="0.65" stop-color="#94c296"/><stop offset="1" stop-color="#58745a"/></linearGradient><linearGradient id="fb2" x1="0" y1="0" x2="1" y2="0"><stop offset="0" stop-color="#8e84a3"/><stop offset="0.3" stop-color="#b9aed1"/><stop offset="0.65" stop-color="#b2a6cc"/><stop offset="1" stop-color="#6a637a"/></linearGradient><linearGradient id="fb3" x1="0" y1="0" x2="1" y2="0"><stop offset="0" stop-color="#8b81a3"/><stop offset="0.3" stop-color="#b6abd1"/><stop offset="0.65" stop-color="#aea2cc"/><stop offset="1" stop-color="#68617a"/></linearGradient><linearGradient id="fb4" x1="0" y1="0" x2="1" y2="0"><stop offset="0" stop-color="#b3b17c"/><stop offset="0.3" stop-color="#e3e1a5"/><stop offset="0.65" stop-color="#e0de9c"/><stop offset="1" stop-color="#86855d"/></linearGradient><linearGradient id="fb5" x1="0" y1="0" x2="1" y2="0"><stop offset="0" stop-color="#7088ac"/><stop offset="0.3" stop-color="#97b2db"/><stop offset="0.65" stop-color="#8caad8"/><stop offset="1" stop-color="#546681"/></linearGradient><linearGradient id="fb6" x1="0" y1="0" x2="1" y2="0"><stop offset="0" stop-color="#a37ea3"/><stop offset="0.3" stop-color="#d1a7d1"/><stop offset="0.65" stop-color="#cc9ecc"/><stop offset="1" stop-color="#7a5e7a"/></linearGradient><linearGradient id="fb7" x1="0" y1="0" x2="1" y2="0"><stop offset="0" stop-color="#848671"/><stop offset="0.3" stop-color="#aeb099"/><stop offset="0.65" stop-color="#a6a88e"/><stop offset="1" stop-color="#636455"/></linearGradient><linearGradient id="fb8" x1="0" y1="0" x2="1" y2="0"><stop offset="0" stop-color="#818471"/><stop offset="0.3" stop-color="#abae99"/><stop offset="0.65" stop-color="#a2a68e"/><stop offset="1" stop-color="#616355"/></linearGradient><linearGradient id="fb9" x1="0" y1="0" x2="1" y2="0"><stop offset="0" stop-color="#84a3ac"/><stop offset="0.3" stop-color="#aed1db"/><stop offset="0.65" stop-color="#a6ccd8"/><stop offset="1" stop-color="#637a81"/></linearGradient><linearGradient id="fvs" gradientUnits="userSpaceOnUse" x1="0" y1="545" x2="0" y2="631"><stop offset="0" stop-color="#000" stop-opacity="0"/><stop offset="0.4" stop-color="#000" stop-opacity="0.14"/><stop offset="1" stop-color="#000" stop-opacity="0.5"/></linearGradient></defs>
<rect x="31.8" y="535.95" width="3.46" height="95.45" fill="url(#fb0)" stroke="none" stroke-width="1"/>
<rect x="31.8" y="535.95" width="3.46" height="95.45" fill="url(#fvs)" stroke="none" stroke-width="1"/>
<rect x="35.21" y="539.06" width="3.46" height="92.34" fill="url(#fb1)" stroke="none" stroke-width="1"/>
<rect x="35.21" y="539.06" width="3.46" height="92.34" fill="url(#fvs)" stroke="none" stroke-width="1"/>
<rect x="38.62" y="545.07" width="3.46" height="86.33" fill="url(#fb2)" stroke="none" stroke-width="1"/>
<rect x="38.62" y="545.07" width="3.46" height="86.33" fill="url(#fvs)" stroke="none" stroke-width="1"/>
<rect x="42.03" y="543.13" width="3.46" height="88.27" fill="url(#fb3)" stroke="none" stroke-width="1"/>
<rect x="42.03" y="543.13" width="3.46" height="88.27" fill="url(#fvs)" stroke="none" stroke-width="1"/>
<rect x="45.44" y="537.12" width="3.46" height="94.28" fill="url(#fb4)" stroke="none" stroke-width="1"/>
<rect x="45.44" y="537.12" width="3.46" height="94.28" fill="url(#fvs)" stroke="none" stroke-width="1"/>
<rect x="48.85" y="545.85" width="3.46" height="85.55" fill="url(#fb5)" stroke="none" stroke-width="1"/>
<rect x="48.85" y="545.85" width="3.46" height="85.55" fill="url(#fvs)" stroke="none" stroke-width="1"/>
<rect x="52.26" y="549.73" width="3.46" height="81.67" fill="url(#fb6)" stroke="none" stroke-width="1"/>
<rect x="52.26" y="549.73" width="3.46" height="81.67" fill="url(#fvs)" stroke="none" stroke-width="1"/>
<rect x="55.67" y="539.06" width="3.46" height="92.34" fill="url(#fb7)" stroke="none" stroke-width="1"/>
<rect x="55.67" y="539.06" width="3.46" height="92.34" fill="url(#fvs)" stroke="none" stroke-width="1"/>
<rect x="59.08" y="538.28" width="3.46" height="93.12" fill="url(#fb8)" stroke="none" stroke-width="1"/>
<rect x="59.08" y="538.28" width="3.46" height="93.12" fill="url(#fvs)" stroke="none" stroke-width="1"/>
<rect x="62.49" y="542.94" width="3.46" height="88.46" fill="url(#fb9)" stroke="none" stroke-width="1"/>
<rect x="62.49" y="542.94" width="3.46" height="88.46" fill="url(#fvs)" stroke="none" stroke-width="1"/>
<rect x="69.6" y="546.82" width="3.46" height="84.58" fill="url(#fb0)" stroke="none" stroke-width="1"/>
<rect x="69.6" y="546.82" width="3.46" height="84.58" fill="url(#fvs)" stroke="none" stroke-width="1"/>
<rect x="73.01" y="548.76" width="3.46" height="82.64" fill="url(#fb1)" stroke="none" stroke-width="1"/>
<rect x="73.01" y="548.76" width="3.46" height="82.64" fill="url(#fvs)" stroke="none" stroke-width="1"/>
<rect x="76.42" y="544.68" width="3.46" height="86.72" fill="url(#fb2)" stroke="none" stroke-width="1"/>
<rect x="76.42" y="544.68" width="3.46" height="86.72" fill="url(#fvs)" stroke="none" stroke-width="1"/>
<rect x="79.83" y="551.86" width="3.46" height="79.54" fill="url(#fb3)" stroke="none" stroke-width="1"/>
<rect x="79.83" y="551.86" width="3.46" height="79.54" fill="url(#fvs)" stroke="none" stroke-width="1"/>
<rect x="83.24" y="541.38" width="3.46" height="90.02" fill="url(#fb4)" stroke="none" stroke-width="1"/>
<rect x="83.24" y="541.38" width="3.46" height="90.02" fill="url(#fvs)" stroke="none" stroke-width="1"/>
<rect x="86.65" y="547.2" width="3.46" height="84.2" fill="url(#fb5)" stroke="none" stroke-width="1"/>
<rect x="86.65" y="547.2" width="3.46" height="84.2" fill="url(#fvs)" stroke="none" stroke-width="1"/>
<rect x="90.06" y="545.85" width="3.46" height="85.55" fill="url(#fb6)" stroke="none" stroke-width="1"/>
<rect x="90.06" y="545.85" width="3.46" height="85.55" fill="url(#fvs)" stroke="none" stroke-width="1"/>
<rect x="93.47" y="545.07" width="3.46" height="86.33" fill="url(#fb7)" stroke="none" stroke-width="1"/>
<rect x="93.47" y="545.07" width="3.46" height="86.33" fill="url(#fvs)" stroke="none" stroke-width="1"/>
<rect x="96.88" y="549.92" width="3.46" height="81.48" fill="url(#fb8)" stroke="none" stroke-width="1"/>
<rect x="96.88" y="549.92" width="3.46" height="81.48" fill="url(#fvs)" stroke="none" stroke-width="1"/>
<rect x="100.29" y="552.64" width="3.46" height="78.76" fill="url(#fb9)" stroke="none" stroke-width="1"/>
<rect x="100.29" y="552.64" width="3.46" height="78.76" fill="url(#fvs)" stroke="none" stroke-width="1"/>
<rect x="107.2" y="555.55" width="3.46" height="75.85" fill="url(#fb0)" stroke="none" stroke-width="1"/>
<rect x="107.2" y="555.55" width="3.46" height="75.85" fill="url(#fvs)" stroke="none" stroke-width="1"/>
<rect x="110.61" y="551.67" width="3.46" height="79.73" fill="url(#fb1)" stroke="none" stroke-width="1"/>
<rect x="110.61" y="551.67" width="3.46" height="79.73" fill="url(#fvs)" stroke="none" stroke-width="1"/>
<rect x="114.02" y="550.7" width="3.46" height="80.7" fill="url(#fb2)" stroke="none" stroke-width="1"/>
<rect x="114.02" y="550.7" width="3.46" height="80.7" fill="url(#fvs)" stroke="none" stroke-width="1"/>
<rect x="117.43" y="553.02" width="3.46" height="78.38" fill="url(#fb3)" stroke="none" stroke-width="1"/>
<rect x="117.43" y="553.02" width="3.46" height="78.38" fill="url(#fvs)" stroke="none" stroke-width="1"/>
<rect x="120.84" y="547.98" width="3.46" height="83.42" fill="url(#fb4)" stroke="none" stroke-width="1"/>
<rect x="120.84" y="547.98" width="3.46" height="83.42" fill="url(#fvs)" stroke="none" stroke-width="1"/>
<rect x="124.25" y="554.58" width="3.46" height="76.82" fill="url(#fb5)" stroke="none" stroke-width="1"/>
<rect x="124.25" y="554.58" width="3.46" height="76.82" fill="url(#fvs)" stroke="none" stroke-width="1"/>
<rect x="127.66" y="544.49" width="3.46" height="86.91" fill="url(#fb6)" stroke="none" stroke-width="1"/>
<rect x="127.66" y="544.49" width="3.46" height="86.91" fill="url(#fvs)" stroke="none" stroke-width="1"/>
<rect x="131.07" y="546.62" width="3.46" height="84.78" fill="url(#fb7)" stroke="none" stroke-width="1"/>
<rect x="131.07" y="546.62" width="3.46" height="84.78" fill="url(#fvs)" stroke="none" stroke-width="1"/>
<rect x="134.48" y="548.95" width="3.46" height="82.45" fill="url(#fb8)" stroke="none" stroke-width="1"/>
<rect x="134.48" y="548.95" width="3.46" height="82.45" fill="url(#fvs)" stroke="none" stroke-width="1"/>
<rect x="137.89" y="553.8" width="3.46" height="77.6" fill="url(#fb9)" stroke="none" stroke-width="1"/>
<rect x="137.89" y="553.8" width="3.46" height="77.6" fill="url(#fvs)" stroke="none" stroke-width="1"/>
<rect x="144.9" y="555.55" width="3.46" height="75.85" fill="url(#fb0)" stroke="none" stroke-width="1"/>
<rect x="144.9" y="555.55" width="3.46" height="75.85" fill="url(#fvs)" stroke="none" stroke-width="1"/>
<rect x="148.31" y="547.98" width="3.46" height="83.42" fill="url(#fb1)" stroke="none" stroke-width="1"/>
<rect x="148.31" y="547.98" width="3.46" height="83.42" fill="url(#fvs)" stroke="none" stroke-width="1"/>
<rect x="151.72" y="550.5" width="3.46" height="80.9" fill="url(#fb2)" stroke="none" stroke-width="1"/>
<rect x="151.72" y="550.5" width="3.46" height="80.9" fill="url(#fvs)" stroke="none" stroke-width="1"/>
<rect x="155.13" y="552.44" width="3.46" height="78.96" fill="url(#fb3)" stroke="none" stroke-width="1"/>
<rect x="155.13" y="552.44" width="3.46" height="78.96" fill="url(#fvs)" stroke="none" stroke-width="1"/>
<rect x="158.54" y="546.62" width="3.46" height="84.78" fill="url(#fb4)" stroke="none" stroke-width="1"/>
<rect x="158.54" y="546.62" width="3.46" height="84.78" fill="url(#fvs)" stroke="none" stroke-width="1"/>
<rect x="161.95" y="551.67" width="3.46" height="79.73" fill="url(#fb5)" stroke="none" stroke-width="1"/>
<rect x="161.95" y="551.67" width="3.46" height="79.73" fill="url(#fvs)" stroke="none" stroke-width="1"/>
<rect x="165.36" y="548.56" width="3.46" height="82.84" fill="url(#fb6)" stroke="none" stroke-width="1"/>
<rect x="165.36" y="548.56" width="3.46" height="82.84" fill="url(#fvs)" stroke="none" stroke-width="1"/>
<rect x="168.77" y="553.61" width="3.46" height="77.79" fill="url(#fb7)" stroke="none" stroke-width="1"/>
<rect x="168.77" y="553.61" width="3.46" height="77.79" fill="url(#fvs)" stroke="none" stroke-width="1"/>
<rect x="172.18" y="551.28" width="3.46" height="80.12" fill="url(#fb8)" stroke="none" stroke-width="1"/>
<rect x="172.18" y="551.28" width="3.46" height="80.12" fill="url(#fvs)" stroke="none" stroke-width="1"/>
<rect x="175.59" y="550.7" width="3.46" height="80.7" fill="url(#fb9)" stroke="none" stroke-width="1"/>
<rect x="175.59" y="550.7" width="3.46" height="80.7" fill="url(#fvs)" stroke="none" stroke-width="1"/>
<rect x="182.4" y="540.41" width="3.46" height="90.99" fill="url(#fb0)" stroke="none" stroke-width="1"/>
<rect x="182.4" y="540.41" width="3.46" height="90.99" fill="url(#fvs)" stroke="none" stroke-width="1"/>
<rect x="185.81" y="544.1" width="3.46" height="87.3" fill="url(#fb1)" stroke="none" stroke-width="1"/>
<rect x="185.81" y="544.1" width="3.46" height="87.3" fill="url(#fvs)" stroke="none" stroke-width="1"/>
<rect x="189.22" y="548.37" width="3.46" height="83.03" fill="url(#fb2)" stroke="none" stroke-width="1"/>
<rect x="189.22" y="548.37" width="3.46" height="83.03" fill="url(#fvs)" stroke="none" stroke-width="1"/>
<rect x="192.63" y="539.44" width="3.46" height="91.96" fill="url(#fb3)" stroke="none" stroke-width="1"/>
<rect x="192.63" y="539.44" width="3.46" height="91.96" fill="url(#fvs)" stroke="none" stroke-width="1"/>
<rect x="196.04" y="537.7" width="3.46" height="93.7" fill="url(#fb4)" stroke="none" stroke-width="1"/>
<rect x="196.04" y="537.7" width="3.46" height="93.7" fill="url(#fvs)" stroke="none" stroke-width="1"/>
<rect x="199.45" y="551.47" width="3.46" height="79.93" fill="url(#fb5)" stroke="none" stroke-width="1"/>
<rect x="199.45" y="551.47" width="3.46" height="79.93" fill="url(#fvs)" stroke="none" stroke-width="1"/>
<rect x="202.86" y="544.49" width="3.46" height="86.91" fill="url(#fb6)" stroke="none" stroke-width="1"/>
<rect x="202.86" y="544.49" width="3.46" height="86.91" fill="url(#fvs)" stroke="none" stroke-width="1"/>
<rect x="206.27" y="546.43" width="3.46" height="84.97" fill="url(#fb7)" stroke="none" stroke-width="1"/>
<rect x="206.27" y="546.43" width="3.46" height="84.97" fill="url(#fvs)" stroke="none" stroke-width="1"/>
<rect x="209.68" y="541.38" width="3.46" height="90.02" fill="url(#fb8)" stroke="none" stroke-width="1"/>
<rect x="209.68" y="541.38" width="3.46" height="90.02" fill="url(#fvs)" stroke="none" stroke-width="1"/>
<rect x="213.09" y="545.26" width="3.46" height="86.14" fill="url(#fb9)" stroke="none" stroke-width="1"/>
<rect x="213.09" y="545.26" width="3.46" height="86.14" fill="url(#fvs)" stroke="none" stroke-width="1"/>
<polyline points="49.4,515.3 86.8,519.6 124.3,519 161.9,522.4 199.4,516.6" fill="none" stroke="#2f8fd2" stroke-width="1.3" stroke-linejoin="round"/>
<circle cx="49.4" cy="515.3" r="1.55" fill="#8cc6ee" stroke="#2f8fd2" stroke-width="0.9"/>
<circle cx="86.8" cy="519.6" r="1.55" fill="#8cc6ee" stroke="#2f8fd2" stroke-width="0.9"/>
<circle cx="124.3" cy="519" r="1.55" fill="#8cc6ee" stroke="#2f8fd2" stroke-width="0.9"/>
<circle cx="161.9" cy="522.4" r="1.55" fill="#8cc6ee" stroke="#2f8fd2" stroke-width="0.9"/>
<circle cx="199.4" cy="516.6" r="1.55" fill="#8cc6ee" stroke="#2f8fd2" stroke-width="0.9"/>
<text x="51" y="508.9" font-size="8" text-anchor="middle" font-weight="normal" fill="#111" dominant-baseline="central" stroke="#111" stroke-width="0.35">5.1%</text>
<text x="88.6" y="512.5" font-size="8" text-anchor="middle" font-weight="normal" fill="#111" dominant-baseline="central" stroke="#111" stroke-width="0.35">4.2%</text>
<text x="124.6" y="512.3" font-size="8" text-anchor="middle" font-weight="normal" fill="#111" dominant-baseline="central" stroke="#111" stroke-width="0.35">4.6%</text>
<text x="161.8" y="515.6" font-size="8" text-anchor="middle" font-weight="normal" fill="#111" dominant-baseline="central" stroke="#111" stroke-width="0.35">3.2%</text>
<text x="199.7" y="510.4" font-size="8" text-anchor="middle" font-weight="normal" fill="#111" dominant-baseline="central" stroke="#111" stroke-width="0.35">4.8%</text>
<line x1="114.8" y1="501.3" x2="132.6" y2="501.3" stroke="#2f8fd2" stroke-width="1.3"/>
<circle cx="123.7" cy="501.3" r="1.55" fill="#8cc6ee" stroke="#2f8fd2" stroke-width="0.9"/>
<text x="134.8" y="501.4" font-size="8" text-anchor="start" font-weight="normal" fill="#111" dominant-baseline="central" stroke="#111" stroke-width="0.35">Coefficient of Variation</text>
<rect x="30.3" y="495.6" width="188.5" height="135.8" fill="none" stroke="#111" stroke-width="1.2"/>
<line x1="27.9" y1="631.4" x2="30.3" y2="631.4" stroke="#111" stroke-width="1"/>
<text x="27.2" y="631.4" font-size="7.8" text-anchor="end" font-weight="normal" fill="#111" dominant-baseline="central" stroke="#111" stroke-width="0.35">0</text>
<line x1="29" y1="621.7" x2="30.3" y2="621.7" stroke="#111" stroke-width="0.7"/>
<line x1="27.9" y1="612" x2="30.3" y2="612" stroke="#111" stroke-width="1"/>
<text x="27.2" y="612" font-size="7.8" text-anchor="end" font-weight="normal" fill="#111" dominant-baseline="central" stroke="#111" stroke-width="0.35">10</text>
<line x1="29" y1="602.3" x2="30.3" y2="602.3" stroke="#111" stroke-width="0.7"/>
<line x1="27.9" y1="592.6" x2="30.3" y2="592.6" stroke="#111" stroke-width="1"/>
<text x="27.2" y="592.6" font-size="7.8" text-anchor="end" font-weight="normal" fill="#111" dominant-baseline="central" stroke="#111" stroke-width="0.35">20</text>
<line x1="29" y1="582.9" x2="30.3" y2="582.9" stroke="#111" stroke-width="0.7"/>
<line x1="27.9" y1="573.2" x2="30.3" y2="573.2" stroke="#111" stroke-width="1"/>
<text x="27.2" y="573.2" font-size="7.8" text-anchor="end" font-weight="normal" fill="#111" dominant-baseline="central" stroke="#111" stroke-width="0.35">30</text>
<line x1="29" y1="563.5" x2="30.3" y2="563.5" stroke="#111" stroke-width="0.7"/>
<line x1="27.9" y1="553.8" x2="30.3" y2="553.8" stroke="#111" stroke-width="1"/>
<text x="27.2" y="553.8" font-size="7.8" text-anchor="end" font-weight="normal" fill="#111" dominant-baseline="central" stroke="#111" stroke-width="0.35">40</text>
<line x1="29" y1="544.1" x2="30.3" y2="544.1" stroke="#111" stroke-width="0.7"/>
<line x1="27.9" y1="534.4" x2="30.3" y2="534.4" stroke="#111" stroke-width="1"/>
<text x="27.2" y="534.4" font-size="7.8" text-anchor="end" font-weight="normal" fill="#111" dominant-baseline="central" stroke="#111" stroke-width="0.35">50</text>
<line x1="29" y1="524.7" x2="30.3" y2="524.7" stroke="#111" stroke-width="0.7"/>
<line x1="27.9" y1="515" x2="30.3" y2="515" stroke="#111" stroke-width="1"/>
<text x="27.2" y="515" font-size="7.8" text-anchor="end" font-weight="normal" fill="#111" dominant-baseline="central" stroke="#111" stroke-width="0.35">60</text>
<line x1="29" y1="505.3" x2="30.3" y2="505.3" stroke="#111" stroke-width="0.7"/>
<line x1="27.9" y1="495.6" x2="30.3" y2="495.6" stroke="#111" stroke-width="1"/>
<text x="27.2" y="495.6" font-size="7.8" text-anchor="end" font-weight="normal" fill="#111" dominant-baseline="central" stroke="#111" stroke-width="0.35">70</text>
<line x1="49.4" y1="631.4" x2="49.4" y2="633.8" stroke="#111" stroke-width="1"/>
<text x="49.4" y="640" font-size="7.8" text-anchor="middle" font-weight="normal" fill="#111" dominant-baseline="central" stroke="#111" stroke-width="0.35">1</text>
<line x1="86.8" y1="631.4" x2="86.8" y2="633.8" stroke="#111" stroke-width="1"/>
<text x="86.8" y="640" font-size="7.8" text-anchor="middle" font-weight="normal" fill="#111" dominant-baseline="central" stroke="#111" stroke-width="0.35">2</text>
<line x1="124.3" y1="631.4" x2="124.3" y2="633.8" stroke="#111" stroke-width="1"/>
<text x="124.3" y="640" font-size="7.8" text-anchor="middle" font-weight="normal" fill="#111" dominant-baseline="central" stroke="#111" stroke-width="0.35">3</text>
<line x1="161.9" y1="631.4" x2="161.9" y2="633.8" stroke="#111" stroke-width="1"/>
<text x="161.9" y="640" font-size="7.8" text-anchor="middle" font-weight="normal" fill="#111" dominant-baseline="central" stroke="#111" stroke-width="0.35">4</text>
<line x1="199.4" y1="631.4" x2="199.4" y2="633.8" stroke="#111" stroke-width="1"/>
<text x="199.4" y="640" font-size="7.8" text-anchor="middle" font-weight="normal" fill="#111" dominant-baseline="central" stroke="#111" stroke-width="0.35">5</text>
<text x="124.6" y="647.4" font-size="8" text-anchor="middle" font-weight="bold" fill="#111" dominant-baseline="central">Position of random sample groups</text>
<text x="13.6" y="562.5" font-size="8.6" text-anchor="middle" font-weight="bold" fill="#111" dominant-baseline="central" transform="rotate(-90 13.6 562.5)">Current (fA)</text>
<defs>
<linearGradient id="gmask" x1="0" y1="1" x2="1" y2="0"><stop offset="0" stop-color="#2b3b51"/><stop offset="0.55" stop-color="#35475d"/><stop offset="1" stop-color="#5a6a80"/></linearGradient>
<linearGradient id="gplate" x1="0" y1="0" x2="1" y2="0"><stop offset="0" stop-color="#70c2ea"/><stop offset="0.5" stop-color="#58b0e2"/><stop offset="1" stop-color="#4296d4"/></linearGradient>
<pattern id="gdots" patternUnits="userSpaceOnUse" x="0.5" y="611.6" width="2.95" height="3.7"><rect width="2.95" height="3.7" fill="#56626a"/><polygon points="0.9,0.5 2.1,0.5 1.9,2.9 0.7,2.9" fill="#ae9c58"/><rect x="1.1" y="0.8" width="0.7" height="0.9" fill="#e2c860"/></pattern>
</defs>
<rect x="273.6" y="492.1" width="125.2" height="63.5" fill="#9ac591" stroke="none" stroke-width="1"/>
<circle cx="338" cy="507.4" r="0.55" fill="#5e7e60" stroke="none" stroke-width="0.8"/>
<polygon points="274.3,555.1 400.7,555.1 421.7,601.1 252,601.1" fill="url(#gmask)" stroke="none" stroke-width="1"/>
<path d="M274.3,555.1 L398.2,555.1 L398.2,578 C398.2,590 370,593.6 336.2,593.6 C302,593.6 274.3,590 274.3,578 Z" fill="#5e955a" fill-opacity="0.92"/>
<g transform="translate(282 570) skewX(-8)" fill="#9cc893"><rect x="0" y="0" width="17.8" height="2.7"/><rect x="0" y="8" width="17.8" height="2.7"/><rect x="7.4" y="0" width="3" height="10.7"/><rect x="22.2" y="0" width="17.8" height="2.7"/><rect x="22.2" y="0" width="3" height="10.7"/><rect x="29.6" y="0" width="3" height="10.7"/><rect x="37" y="0" width="3" height="10.7"/><rect x="44.4" y="0" width="3" height="10.7"/><rect x="44.4" y="0" width="17.8" height="2.7"/><rect x="44.4" y="4" width="16.02" height="2.7"/><rect x="44.4" y="8" width="17.8" height="2.7"/><rect x="66.6" y="0" width="3" height="10.7"/><rect x="66.6" y="0" width="17.8" height="2.7"/><rect x="66.6" y="4" width="16.02" height="2.7"/><rect x="66.6" y="8" width="17.8" height="2.7"/><rect x="88.8" y="0" width="17.8" height="2.7"/><rect x="96.2" y="0" width="3" height="10.7"/></g>
<rect x="283.2" y="602.9" width="106" height="4.2" fill="#dfe9d8" stroke="none" stroke-width="1"/>
<path d="M266,605.6 L409.4,605.6 Q410.6,605.6 411,607 L420.9,645.4 Q421.3,647.3 419.4,647.3 L256,647.3 Q254.1,647.3 254.6,645.4 L264.4,607 Q264.8,605.6 266,605.6 Z" fill="url(#gplate)"/>
<polygon points="254.9,640.5 420.6,640.5 421,645.5 254.5,645.5" fill="#74c0ea" stroke="none" stroke-width="1" fill-opacity="0.7"/>
<polygon points="266.8,610.2 409.5,610.2 417.3,639.6 258.9,639.6" fill="url(#gdots)" stroke="none" stroke-width="1"/>
<polygon points="266.8,610.2 409.5,610.2 417.3,639.6 258.9,639.6" fill="none" stroke="#34424e" stroke-width="1.8"/>
<rect x="283.2" y="605.6" width="106" height="4.6" fill="#cfe6c4" stroke="none" stroke-width="1" fill-opacity="0.55"/>
<g transform="translate(283.5 615.6) skewX(-6)" fill="#96d08c" fill-opacity="0.8"><rect x="0" y="0" width="18" height="3.3"/><rect x="0" y="10.7" width="18" height="3.3"/><rect x="7.35" y="0" width="3.3" height="14"/><rect x="21.9" y="0" width="18" height="3.3"/><rect x="21.9" y="0" width="3.3" height="14"/><rect x="29.25" y="0" width="3.3" height="14"/><rect x="36.6" y="0" width="3.3" height="14"/><rect x="43.8" y="0" width="3.3" height="14"/><rect x="43.8" y="0" width="18" height="3.3"/><rect x="43.8" y="5.35" width="16.2" height="3.3"/><rect x="43.8" y="10.7" width="18" height="3.3"/><rect x="65.7" y="0" width="3.3" height="14"/><rect x="65.7" y="0" width="18" height="3.3"/><rect x="65.7" y="5.35" width="16.2" height="3.3"/><rect x="65.7" y="10.7" width="18" height="3.3"/><rect x="87.6" y="0" width="18" height="3.3"/><rect x="94.95" y="0" width="3.3" height="14"/></g>
<polygon points="514.18,459.22 666.02,481.82 666.93,524.64 529.25,499.52" fill="#d4e8ee" stroke="none" stroke-width="1"/>
<line x1="527.94" y1="496.01" x2="666.85" y2="520.96" stroke="#b4cad2" stroke-width="0.45"/>
<line x1="526.6" y1="492.44" x2="666.77" y2="517.2" stroke="#b4cad2" stroke-width="0.45"/>
<line x1="525.24" y1="488.8" x2="666.69" y2="513.36" stroke="#b4cad2" stroke-width="0.45"/>
<line x1="523.85" y1="485.09" x2="666.61" y2="509.44" stroke="#b4cad2" stroke-width="0.45"/>
<line x1="522.44" y1="481.32" x2="666.52" y2="505.44" stroke="#b4cad2" stroke-width="0.45"/>
<line x1="521" y1="477.47" x2="666.43" y2="501.35" stroke="#b4cad2" stroke-width="0.45"/>
<line x1="519.54" y1="473.55" x2="666.35" y2="497.17" stroke="#b4cad2" stroke-width="0.45"/>
<line x1="518.04" y1="469.55" x2="666.26" y2="492.91" stroke="#b4cad2" stroke-width="0.45"/>
<line x1="516.52" y1="465.48" x2="666.17" y2="488.55" stroke="#b4cad2" stroke-width="0.45"/>
<line x1="514.97" y1="461.33" x2="666.07" y2="484.09" stroke="#b4cad2" stroke-width="0.45"/>
<line x1="554.34" y1="504.1" x2="541.57" y2="463.29" stroke="#b4cad2" stroke-width="0.45"/>
<line x1="580.58" y1="508.89" x2="570.34" y2="467.58" stroke="#b4cad2" stroke-width="0.45"/>
<line x1="608.02" y1="513.89" x2="600.59" y2="472.08" stroke="#b4cad2" stroke-width="0.45"/>
<line x1="636.78" y1="519.14" x2="632.44" y2="476.82" stroke="#b4cad2" stroke-width="0.45"/>
<polygon points="514.18,459.22 529.25,499.52 515.66,530.32 498.31,491.26" fill="#cfe4ea" stroke="none" stroke-width="1"/>
<line x1="514.16" y1="526.93" x2="527.94" y2="496.01" stroke="#b4cad2" stroke-width="0.4"/>
<line x1="512.62" y1="523.48" x2="526.6" y2="492.44" stroke="#b4cad2" stroke-width="0.4"/>
<line x1="511.06" y1="519.96" x2="525.24" y2="488.8" stroke="#b4cad2" stroke-width="0.4"/>
<line x1="509.47" y1="516.38" x2="523.85" y2="485.09" stroke="#b4cad2" stroke-width="0.4"/>
<line x1="507.85" y1="512.72" x2="522.44" y2="481.32" stroke="#b4cad2" stroke-width="0.4"/>
<line x1="506.19" y1="508.99" x2="521" y2="477.47" stroke="#b4cad2" stroke-width="0.4"/>
<line x1="504.5" y1="505.19" x2="519.54" y2="473.55" stroke="#b4cad2" stroke-width="0.4"/>
<line x1="502.78" y1="501.31" x2="518.04" y2="469.55" stroke="#b4cad2" stroke-width="0.4"/>
<line x1="501.02" y1="497.35" x2="516.52" y2="465.48" stroke="#b4cad2" stroke-width="0.4"/>
<line x1="499.22" y1="493.31" x2="514.97" y2="461.33" stroke="#b4cad2" stroke-width="0.4"/>
<line x1="517.83" y1="525.39" x2="500.86" y2="486.11" stroke="#b4cad2" stroke-width="0.4"/>
<line x1="519.98" y1="520.53" x2="503.37" y2="481.04" stroke="#b4cad2" stroke-width="0.4"/>
<line x1="522.09" y1="515.75" x2="505.84" y2="476.06" stroke="#b4cad2" stroke-width="0.4"/>
<line x1="524.17" y1="511.03" x2="508.27" y2="471.15" stroke="#b4cad2" stroke-width="0.4"/>
<line x1="526.22" y1="506.38" x2="510.66" y2="466.32" stroke="#b4cad2" stroke-width="0.4"/>
<line x1="528.25" y1="501.79" x2="513.01" y2="461.57" stroke="#b4cad2" stroke-width="0.4"/>
<polygon points="529.25,499.52 666.93,524.64 658.96,560.73 515.66,530.32" fill="#d4e8ee" stroke="none" stroke-width="1"/>
<polygon points="520.89,527.9 658.18,556.61 664.38,528.86 531.25,504.08" fill="#6aaedc" stroke="none" stroke-width="1"/>
<polygon points="609.81,532.37 612.89,532.98 613.71,530.2 610.64,529.6" fill="#dcecf0" stroke="none" stroke-width="1"/>
<polygon points="588.74,522.8 591.69,523.37 592.58,520.7 589.64,520.14" fill="#dcecf0" stroke="none" stroke-width="1"/>
<polygon points="561.46,525.5 564.32,526.07 565.3,523.42 562.46,522.86" fill="#dcecf0" stroke="none" stroke-width="1"/>
<polygon points="584.24,527.32 587.19,527.91 588.1,525.21 585.16,524.63" fill="#dcecf0" stroke="none" stroke-width="1"/>
<polygon points="620.09,528.85 623.2,529.45 623.98,526.68 620.88,526.09" fill="#dcecf0" stroke="none" stroke-width="1"/>
<polygon points="564.26,518.08 567.09,518.62 568.05,516.03 565.23,515.49" fill="#dcecf0" stroke="none" stroke-width="1"/>
<polygon points="607.71,529.19 610.77,529.79 611.6,527.04 608.55,526.46" fill="#dcecf0" stroke="none" stroke-width="1"/>
<polygon points="544.57,524.79 547.35,525.36 548.39,522.73 545.62,522.18" fill="#dcecf0" stroke="none" stroke-width="1"/>
<polygon points="605.3,537.07 608.38,537.69 609.23,534.88 606.15,534.26" fill="#dcecf0" stroke="none" stroke-width="1"/>
<polygon points="636.5,537.64 639.72,538.28 640.45,535.41 637.24,534.79" fill="#dcecf0" stroke="none" stroke-width="1"/>
<polygon points="547.52,517.45 550.28,517.99 551.3,515.42 548.55,514.89" fill="#dcecf0" stroke="none" stroke-width="1"/>
<polygon points="549.83,525.86 552.64,526.43 553.67,523.79 550.87,523.23" fill="#dcecf0" stroke="none" stroke-width="1"/>
<polygon points="615.64,533.52 618.75,534.14 619.56,531.34 616.45,530.73" fill="#dcecf0" stroke="none" stroke-width="1"/>
<polygon points="611.14,538.25 614.26,538.88 615.08,536.05 611.98,535.43" fill="#dcecf0" stroke="none" stroke-width="1"/>
<polygon points="594.32,523.87 597.3,524.45 598.17,521.77 595.2,521.2" fill="#dcecf0" stroke="none" stroke-width="1"/>
<polygon points="566.86,526.58 569.74,527.16 570.71,524.49 567.84,523.92" fill="#dcecf0" stroke="none" stroke-width="1"/>
<polygon points="589.83,528.42 592.81,529.01 593.7,526.3 590.73,525.72" fill="#dcecf0" stroke="none" stroke-width="1"/>
<polygon points="569.61,519.11 572.47,519.66 573.42,517.05 570.57,516.51" fill="#dcecf0" stroke="none" stroke-width="1"/>
<polygon points="572.31,527.67 575.22,528.25 576.17,525.57 573.27,524.99" fill="#dcecf0" stroke="none" stroke-width="1"/>
<polygon points="631.9,531.12 635.07,531.74 635.81,528.94 632.66,528.34" fill="#dcecf0" stroke="none" stroke-width="1"/>
<polygon points="635.79,540.35 639.02,541 639.76,538.11 636.54,537.48" fill="#dcecf0" stroke="none" stroke-width="1"/>
<polygon points="545.9,514.54 548.64,515.06 549.67,512.53 546.93,512" fill="#dcecf0" stroke="none" stroke-width="1"/>
<polygon points="575.01,520.15 577.9,520.71 578.83,518.08 575.95,517.53" fill="#dcecf0" stroke="none" stroke-width="1"/>
<polygon points="637.9,532.28 641.1,532.9 641.82,530.08 638.63,529.47" fill="#dcecf0" stroke="none" stroke-width="1"/>
<polygon points="611.38,527.17 614.44,527.76 615.25,525.02 612.2,524.44" fill="#dcecf0" stroke="none" stroke-width="1"/>
<polygon points="583.36,529.88 586.33,530.47 587.25,527.75 584.29,527.17" fill="#dcecf0" stroke="none" stroke-width="1"/>
<polygon points="585.29,533.02 588.27,533.63 589.19,530.88 586.21,530.28" fill="#dcecf0" stroke="none" stroke-width="1"/>
<polygon points="617.03,539.44 620.18,540.07 620.99,537.22 617.85,536.6" fill="#dcecf0" stroke="none" stroke-width="1"/>
<polygon points="563.33,520.53 566.17,521.09 567.14,518.48 564.31,517.93" fill="#dcecf0" stroke="none" stroke-width="1"/>
<polygon points="585.97,522.26 588.91,522.83 589.8,520.17 586.87,519.61" fill="#dcecf0" stroke="none" stroke-width="1"/>
<polygon points="560.51,528.02 563.38,528.6 564.37,525.92 561.52,525.35" fill="#dcecf0" stroke="none" stroke-width="1"/>
<polygon points="551.09,515.54 553.86,516.07 554.86,513.51 552.1,512.99" fill="#dcecf0" stroke="none" stroke-width="1"/>
<polygon points="546.54,519.88 549.31,520.43 550.34,517.84 547.58,517.3" fill="#dcecf0" stroke="none" stroke-width="1"/>
<polygon points="606.91,531.8 609.98,532.4 610.81,529.64 607.76,529.04" fill="#dcecf0" stroke="none" stroke-width="1"/>
<polygon points="643.95,533.45 647.18,534.07 647.88,531.24 644.66,530.62" fill="#dcecf0" stroke="none" stroke-width="1"/>
<polygon points="617.17,528.28 620.27,528.88 621.06,526.13 617.98,525.54" fill="#dcecf0" stroke="none" stroke-width="1"/>
<polygon points="612.71,532.94 615.81,533.56 616.63,530.77 613.54,530.17" fill="#dcecf0" stroke="none" stroke-width="1"/>
<polygon points="590.94,534.16 593.95,534.77 594.85,532.01 591.84,531.41" fill="#dcecf0" stroke="none" stroke-width="1"/>
<polygon points="591.52,523.34 594.49,523.91 595.37,521.23 592.41,520.67" fill="#dcecf0" stroke="none" stroke-width="1"/>
<polygon points="565.93,529.11 568.82,529.7 569.8,527.01 566.92,526.43" fill="#dcecf0" stroke="none" stroke-width="1"/>
<polygon points="566.93,518.59 569.77,519.14 570.73,516.54 567.89,516" fill="#dcecf0" stroke="none" stroke-width="1"/>
<polygon points="597.13,524.42 600.12,524.99 600.98,522.3 598,521.73" fill="#dcecf0" stroke="none" stroke-width="1"/>
<polygon points="568.7,521.58 571.57,522.14 572.52,519.51 569.67,518.96" fill="#dcecf0" stroke="none" stroke-width="1"/>
<polygon points="541.95,524.27 544.72,524.83 545.77,522.21 543.01,521.66" fill="#dcecf0" stroke="none" stroke-width="1"/>
<polygon points="571.4,530.22 574.31,530.81 575.27,528.1 572.36,527.52" fill="#dcecf0" stroke="none" stroke-width="1"/>
<polygon points="543.33,514.04 546.06,514.57 547.09,512.03 544.36,511.52" fill="#dcecf0" stroke="none" stroke-width="1"/>
<polygon points="634.89,531.7 638.08,532.32 638.81,529.51 635.63,528.9" fill="#dcecf0" stroke="none" stroke-width="1"/>
<polygon points="574.12,522.64 577.01,523.2 577.95,520.56 575.07,520" fill="#dcecf0" stroke="none" stroke-width="1"/>
<polygon points="637.2,534.95 640.41,535.58 641.14,532.74 637.94,532.12" fill="#dcecf0" stroke="none" stroke-width="1"/>
<polygon points="608.21,537.65 611.31,538.28 612.15,535.46 609.06,534.84" fill="#dcecf0" stroke="none" stroke-width="1"/>
<polygon points="635.08,543.08 638.32,543.74 639.06,540.83 635.83,540.19" fill="#dcecf0" stroke="none" stroke-width="1"/>
<polygon points="585.11,524.78 588.05,525.36 588.96,522.68 586.02,522.11" fill="#dcecf0" stroke="none" stroke-width="1"/>
<polygon points="587.03,527.87 589.99,528.46 590.9,525.75 587.94,525.17" fill="#dcecf0" stroke="none" stroke-width="1"/>
<polygon points="582.48,532.46 585.46,533.06 586.38,530.32 583.42,529.73" fill="#dcecf0" stroke="none" stroke-width="1"/>
<polygon points="562.4,523.01 565.25,523.57 566.23,520.94 563.39,520.39" fill="#dcecf0" stroke="none" stroke-width="1"/>
<polygon points="572.31,519.63 575.18,520.18 576.12,517.56 573.26,517.02" fill="#dcecf0" stroke="none" stroke-width="1"/>
<polygon points="545.56,522.33 548.33,522.88 549.37,520.28 546.6,519.73" fill="#dcecf0" stroke="none" stroke-width="1"/>
<polygon points="606.11,534.42 609.18,535.04 610.03,532.25 606.96,531.64" fill="#dcecf0" stroke="none" stroke-width="1"/>
<polygon points="547.19,525.33 549.99,525.89 551.03,523.26 548.24,522.7" fill="#dcecf0" stroke="none" stroke-width="1"/>
<polygon points="548.49,515.03 551.24,515.57 552.26,513.02 549.51,512.5" fill="#dcecf0" stroke="none" stroke-width="1"/>
<polygon points="608.5,526.61 611.55,527.2 612.37,524.47 609.33,523.89" fill="#dcecf0" stroke="none" stroke-width="1"/>
<polygon points="640.91,532.86 644.13,533.48 644.84,530.66 641.64,530.05" fill="#dcecf0" stroke="none" stroke-width="1"/>
<polygon points="614.08,538.84 617.21,539.47 618.03,536.63 614.91,536.01" fill="#dcecf0" stroke="none" stroke-width="1"/>
<polygon points="553.7,516.04 556.48,516.58 557.48,514.01 554.7,513.49" fill="#dcecf0" stroke="none" stroke-width="1"/>
<polygon points="614.27,527.72 617.35,528.32 618.15,525.57 615.08,524.99" fill="#dcecf0" stroke="none" stroke-width="1"/>
<polygon points="592.64,528.98 595.64,529.57 596.52,526.85 593.53,526.26" fill="#dcecf0" stroke="none" stroke-width="1"/>
<polygon points="588.1,533.59 591.11,534.2 592.01,531.44 589.02,530.84" fill="#dcecf0" stroke="none" stroke-width="1"/>
<polygon points="567.78,524.07 570.66,524.64 571.62,521.99 568.76,521.43" fill="#dcecf0" stroke="none" stroke-width="1"/>
<polygon points="593.78,534.74 596.81,535.35 597.7,532.58 594.68,531.97" fill="#dcecf0" stroke="none" stroke-width="1"/>
<polygon points="573.22,525.15 576.12,525.72 577.06,523.05 574.17,522.49" fill="#dcecf0" stroke="none" stroke-width="1"/>
<polygon points="539.35,523.74 542.11,524.3 543.16,521.69 540.41,521.14" fill="#dcecf0" stroke="none" stroke-width="1"/>
<path d="M521.2,527.7 523.3,528.2 524.2,526.1 522.1,525.7ZM522.3,525.3 524.4,525.7 525.3,523.7 523.1,523.3ZM523.3,522.8 525.4,523.3 526.3,521.2 524.2,520.8ZM524.4,520.4 526.5,520.8 527.3,518.8 525.2,518.4ZM525.4,518.0 527.5,518.4 528.4,516.4 526.3,516.0ZM526.5,515.6 528.6,516.0 529.4,514.1 527.3,513.6ZM527.5,513.2 529.6,513.7 530.4,511.7 528.3,511.3ZM528.5,510.9 530.6,511.3 531.4,509.3 529.4,508.9ZM529.5,508.6 531.6,508.9 532.4,507.0 530.4,506.6ZM530.5,506.2 532.6,506.6 533.4,504.7 531.4,504.3ZM523.7,528.3 525.9,528.7 526.8,526.7 524.6,526.2ZM524.8,525.8 526.9,526.2 527.8,524.2 525.7,523.8ZM525.9,523.4 528.0,523.8 528.9,521.8 526.7,521.3ZM526.9,520.9 529.0,521.4 529.9,519.3 527.8,518.9ZM528.0,518.5 530.1,518.9 530.9,516.9 528.8,516.5ZM529.0,516.1 531.1,516.5 531.9,514.5 529.8,514.1ZM530.0,513.7 532.1,514.1 532.9,512.2 530.9,511.8ZM531.0,511.4 533.1,511.8 534.0,509.8 531.9,509.4ZM532.0,509.0 534.1,509.4 535.0,507.5 532.9,507.1ZM533.0,506.7 535.1,507.1 535.9,505.2 533.9,504.8ZM526.3,528.8 528.5,529.3 529.3,527.2 527.2,526.8ZM527.4,526.3 529.5,526.8 530.4,524.7 528.2,524.3ZM528.4,523.9 530.5,524.3 531.4,522.3 529.3,521.9ZM529.5,521.4 531.6,521.9 532.4,519.9 530.3,519.4ZM530.5,519.0 532.6,519.4 533.5,517.4 531.3,517.0ZM531.5,516.6 533.6,517.0 534.5,515.0 532.4,514.6ZM532.5,514.2 534.6,514.6 535.5,512.7 533.4,512.3ZM533.5,511.9 535.6,512.3 536.5,510.3 534.4,509.9ZM534.6,509.5 536.6,509.9 537.5,508.0 535.4,507.6ZM535.5,507.2 537.6,507.6 538.5,505.6 536.4,505.2ZM528.9,529.3 531.0,529.8 531.9,527.7 529.8,527.3ZM529.9,526.9 532.1,527.3 532.9,525.3 530.8,524.8ZM531.0,524.4 533.1,524.8 534.0,522.8 531.8,522.4ZM532.0,522.0 534.1,522.4 535.0,520.4 532.9,519.9ZM533.0,519.5 535.2,520.0 536.0,517.9 533.9,517.5ZM534.1,517.1 536.2,517.5 537.0,515.5 534.9,515.1ZM535.1,514.7 537.2,515.1 538.0,513.2 535.9,512.7ZM536.1,512.3 538.2,512.8 539.0,510.8 536.9,510.4ZM537.1,510.0 539.2,510.4 540.0,508.4 537.9,508.0ZM538.1,507.6 540.2,508.0 541.0,506.1 538.9,505.7ZM531.5,529.9 533.6,530.3 534.5,528.3 532.4,527.8ZM532.5,527.4 534.7,527.8 535.5,525.8 533.4,525.3ZM533.6,524.9 535.7,525.4 536.6,523.3 534.4,522.9ZM534.6,522.5 536.7,522.9 537.6,520.9 535.4,520.5ZM535.6,520.0 537.7,520.5 538.6,518.5 536.4,518.0ZM536.6,517.6 538.7,518.0 539.6,516.0 537.5,515.6ZM537.6,515.2 539.7,515.6 540.6,513.6 538.4,513.2ZM538.6,512.8 540.7,513.2 541.6,511.3 539.4,510.9ZM539.6,510.5 541.7,510.9 542.5,508.9 540.4,508.5ZM540.6,508.1 542.7,508.5 543.5,506.6 541.4,506.2ZM534.1,530.4 536.3,530.9 537.1,528.8 534.9,528.4ZM535.1,527.9 537.3,528.4 538.1,526.3 536.0,525.9ZM536.1,525.5 538.3,525.9 539.1,523.8 537.0,523.4ZM537.2,523.0 539.3,523.4 540.2,521.4 538.0,521.0ZM538.2,520.6 540.3,521.0 541.2,519.0 539.0,518.5ZM539.2,518.1 541.3,518.5 542.1,516.5 540.0,516.1ZM540.2,515.7 542.3,516.1 543.1,514.1 541.0,513.7ZM541.2,513.3 543.3,513.7 544.1,511.8 542.0,511.4ZM542.2,511.0 544.3,511.4 545.1,509.4 543.0,509.0ZM543.1,508.6 545.2,509.0 546.0,507.0 543.9,506.7ZM536.7,531.0 538.9,531.4 539.7,529.3 537.6,528.9ZM537.7,528.5 539.9,528.9 540.7,526.9 538.6,526.4ZM538.7,526.0 540.9,526.4 541.8,524.4 539.6,523.9ZM540.8,521.1 542.9,521.5 543.7,519.5 541.6,519.0ZM541.8,518.6 543.9,519.1 544.7,517.0 542.6,516.6ZM542.8,516.2 544.9,516.6 545.7,514.6 543.6,514.2ZM544.7,511.4 546.8,511.8 547.6,509.9 545.5,509.5ZM545.7,509.1 547.8,509.5 548.6,507.5 546.5,507.1ZM539.3,531.5 541.5,532.0 542.4,529.9 540.2,529.4ZM540.3,529.0 542.5,529.5 543.4,527.4 541.2,526.9ZM541.4,526.5 543.5,527.0 544.4,524.9 542.2,524.5ZM543.4,521.6 545.5,522.0 546.3,520.0 544.2,519.6ZM544.4,519.1 546.5,519.6 547.3,517.6 545.2,517.1ZM545.3,516.7 547.5,517.1 548.3,515.1 546.1,514.7ZM547.3,511.9 549.4,512.3 550.2,510.4 548.1,510.0ZM548.2,509.6 550.4,510.0 551.2,508.0 549.0,507.6ZM542.0,532.1 544.2,532.5 545.0,530.4 542.8,530.0ZM543.0,529.6 545.2,530.0 546.0,527.9 543.8,527.5ZM544.0,527.1 546.2,527.5 547.0,525.4 544.8,525.0ZM549.9,512.4 552.0,512.8 552.8,510.9 550.7,510.4ZM550.8,510.0 553.0,510.4 553.7,508.5 551.6,508.1ZM544.6,532.6 546.8,533.1 547.7,531.0 545.5,530.5ZM545.6,530.1 547.8,530.6 548.6,528.5 546.5,528.0ZM546.6,527.6 548.8,528.0 549.6,526.0 547.4,525.5ZM548.6,522.6 550.8,523.1 551.6,521.0 549.4,520.6ZM549.6,520.2 551.7,520.6 552.5,518.6 550.4,518.1ZM550.5,517.7 552.7,518.2 553.5,516.1 551.3,515.7ZM552.5,512.9 554.6,513.3 555.4,511.3 553.2,510.9ZM553.4,510.5 555.6,510.9 556.3,509.0 554.2,508.6ZM547.3,533.2 549.5,533.7 550.3,531.5 548.1,531.1ZM548.3,530.7 550.5,531.1 551.3,529.0 549.1,528.6ZM549.3,528.1 551.5,528.6 552.3,526.5 550.1,526.1ZM551.2,523.2 553.4,523.6 554.2,521.5 552.0,521.1ZM552.2,520.7 554.4,521.1 555.2,519.1 553.0,518.7ZM553.2,518.2 555.3,518.7 556.1,516.7 553.9,516.2ZM555.1,513.4 557.2,513.8 558.0,511.8 555.8,511.4ZM556.0,511.0 558.2,511.4 558.9,509.4 556.8,509.0ZM550.0,533.7 552.2,534.2 553.0,532.1 550.8,531.6ZM550.9,531.2 553.2,531.7 554.0,529.6 551.8,529.1ZM551.9,528.7 554.1,529.1 554.9,527.0 552.7,526.6ZM552.9,526.2 555.1,526.6 555.9,524.5 553.7,524.1ZM553.9,523.7 556.1,524.1 556.9,522.1 554.7,521.6ZM554.8,521.2 557.0,521.6 557.8,519.6 555.6,519.2ZM555.8,518.8 558.0,519.2 558.8,517.2 556.6,516.7ZM556.7,516.3 558.9,516.7 559.7,514.7 557.5,514.3ZM557.7,513.9 559.9,514.3 560.6,512.3 558.4,511.9ZM558.6,511.5 560.8,511.9 561.5,509.9 559.4,509.5ZM552.6,534.3 554.9,534.8 555.7,532.6 553.5,532.2ZM553.6,531.8 555.9,532.2 556.7,530.1 554.4,529.7ZM554.6,529.2 556.8,529.7 557.6,527.6 555.4,527.1ZM555.6,526.7 557.8,527.2 558.6,525.1 556.4,524.6ZM556.5,524.2 558.7,524.7 559.5,522.6 557.3,522.2ZM557.5,521.7 559.7,522.2 560.5,520.1 558.3,519.7ZM558.4,519.3 560.6,519.7 561.4,517.7 559.2,517.2ZM559.4,516.8 561.6,517.3 562.3,515.2 560.1,514.8ZM560.3,514.4 562.5,514.8 563.3,512.8 561.1,512.4ZM561.2,512.0 563.4,512.4 564.2,510.4 562.0,510.0ZM555.3,534.9 557.6,535.3 558.4,533.2 556.2,532.7ZM556.3,532.3 558.6,532.8 559.4,530.7 557.1,530.2ZM557.3,529.8 559.5,530.2 560.3,528.1 558.1,527.7ZM558.2,527.2 560.5,527.7 561.3,525.6 559.0,525.2ZM559.2,524.7 561.4,525.2 562.2,523.1 560.0,522.7ZM560.1,522.3 562.4,522.7 563.1,520.6 560.9,520.2ZM561.1,519.8 563.3,520.2 564.1,518.2 561.9,517.8ZM562.0,517.3 564.2,517.8 565.0,515.7 562.8,515.3ZM562.9,514.9 565.1,515.3 565.9,513.3 563.7,512.9ZM563.9,512.5 566.0,512.9 566.8,510.9 564.6,510.5ZM558.1,535.4 560.3,535.9 561.1,533.8 558.9,533.3ZM559.0,532.9 561.3,533.3 562.1,531.2 559.8,530.8ZM560.0,530.3 562.2,530.8 563.0,528.7 560.8,528.2ZM565.6,515.4 567.8,515.8 568.5,513.8 566.3,513.4ZM566.5,513.0 568.7,513.4 569.4,511.4 567.2,511.0ZM560.8,536.0 563.1,536.5 563.8,534.3 561.6,533.9ZM561.7,533.4 564.0,533.9 564.8,531.8 562.5,531.3ZM562.7,530.9 565.0,531.3 565.7,529.2 563.5,528.8ZM563.6,528.3 565.9,528.8 566.7,526.7 564.4,526.2ZM564.6,525.8 566.8,526.3 567.6,524.2 565.3,523.7ZM565.5,523.3 567.7,523.8 568.5,521.7 566.3,521.3ZM566.4,520.8 568.7,521.3 569.4,519.2 567.2,518.8ZM568.3,515.9 570.5,516.3 571.2,514.3 569.0,513.9ZM569.2,513.5 571.4,513.9 572.1,511.9 569.9,511.5ZM563.5,536.6 565.8,537.1 566.6,534.9 564.3,534.4ZM564.5,534.0 566.7,534.5 567.5,532.3 565.3,531.9ZM565.4,531.4 567.7,531.9 568.5,529.8 566.2,529.3ZM570.9,516.4 573.2,516.9 573.9,514.8 571.7,514.4ZM571.8,514.0 574.0,514.4 574.8,512.4 572.6,512.0ZM566.3,537.2 568.6,537.6 569.3,535.5 567.1,535.0ZM567.2,534.6 569.5,535.0 570.3,532.9 568.0,532.4ZM568.1,532.0 570.4,532.5 571.2,530.3 568.9,529.9ZM569.1,529.4 571.4,529.9 572.1,527.8 569.8,527.3ZM570.0,526.9 572.3,527.3 573.0,525.3 570.8,524.8ZM570.9,524.4 573.2,524.8 573.9,522.7 571.7,522.3ZM571.8,521.9 574.1,522.3 574.8,520.3 572.6,519.8ZM573.6,516.9 575.9,517.4 576.6,515.3 574.4,514.9ZM574.5,514.5 576.7,514.9 577.5,512.9 575.2,512.5ZM569.0,537.7 571.3,538.2 572.1,536.0 569.8,535.6ZM570.0,535.1 572.3,535.6 573.0,533.5 570.7,533.0ZM570.9,532.5 573.2,533.0 573.9,530.9 571.7,530.4ZM576.3,517.5 578.6,517.9 579.3,515.8 577.0,515.4ZM577.2,515.0 579.4,515.4 580.2,513.4 577.9,513.0ZM571.8,538.3 574.1,538.8 574.9,536.6 572.6,536.1ZM572.7,535.7 575.0,536.2 575.8,534.0 573.5,533.6ZM573.7,533.1 576.0,533.6 576.7,531.4 574.4,531.0ZM574.6,530.5 576.9,531.0 577.6,528.9 575.3,528.4ZM575.5,528.0 577.8,528.4 578.5,526.3 576.2,525.9ZM576.4,525.5 578.7,525.9 579.4,523.8 577.1,523.4ZM577.3,522.9 579.5,523.4 580.3,521.3 578.0,520.9ZM578.1,520.5 580.4,520.9 581.1,518.8 578.9,518.4ZM579.0,518.0 581.3,518.4 582.0,516.4 579.7,515.9ZM579.9,515.5 582.2,515.9 582.9,513.9 580.6,513.5ZM574.6,538.9 576.9,539.4 577.7,537.2 575.4,536.7ZM575.5,536.3 577.8,536.8 578.6,534.6 576.3,534.1ZM576.4,533.7 578.7,534.1 579.5,532.0 577.2,531.5ZM577.3,531.1 579.6,531.6 580.4,529.4 578.1,529.0ZM578.2,528.5 580.5,529.0 581.3,526.9 579.0,526.4ZM579.1,526.0 581.4,526.5 582.1,524.4 579.9,523.9ZM580.0,523.5 582.3,523.9 583.0,521.8 580.7,521.4ZM580.9,521.0 583.2,521.4 583.9,519.3 581.6,518.9ZM581.8,518.5 584.0,518.9 584.7,516.9 582.5,516.4ZM582.6,516.0 584.9,516.5 585.6,514.4 583.3,514.0ZM577.4,539.5 579.7,540.0 580.5,537.8 578.2,537.3ZM578.3,536.9 580.6,537.3 581.4,535.2 579.1,534.7ZM579.2,534.2 581.5,534.7 582.3,532.6 580.0,532.1ZM580.1,531.7 582.4,532.1 583.2,530.0 580.9,529.5ZM581.0,529.1 583.3,529.6 584.0,527.4 581.7,527.0ZM581.9,526.5 584.2,527.0 584.9,524.9 582.6,524.4ZM582.8,524.0 585.1,524.5 585.8,522.4 583.5,521.9ZM583.6,521.5 585.9,521.9 586.6,519.9 584.3,519.4ZM584.5,519.0 586.8,519.4 587.5,517.4 585.2,517.0ZM585.3,516.5 587.6,517.0 588.3,514.9 586.0,514.5ZM580.2,540.1 582.6,540.6 583.3,538.4 581.0,537.9ZM581.1,537.4 583.5,537.9 584.2,535.7 581.9,535.3ZM582.0,534.8 584.4,535.3 585.1,533.1 582.8,532.7ZM587.2,519.5 589.5,520.0 590.2,517.9 587.9,517.5ZM588.1,517.1 590.4,517.5 591.1,515.4 588.8,515.0ZM583.1,540.7 585.4,541.2 586.2,539.0 583.8,538.5ZM583.9,538.0 586.3,538.5 587.0,536.3 584.7,535.8ZM584.8,535.4 587.2,535.9 587.9,533.7 585.6,533.2ZM586.6,530.2 588.9,530.7 589.6,528.5 587.3,528.1ZM588.3,525.1 590.6,525.5 591.3,523.4 589.0,523.0ZM590.0,520.1 592.3,520.5 593.0,518.4 590.7,518.0ZM590.8,517.6 593.1,518.0 593.8,516.0 591.5,515.5ZM585.9,541.3 588.3,541.7 589.0,539.5 586.6,539.1ZM586.8,538.6 589.1,539.1 589.9,536.9 587.5,536.4ZM587.7,536.0 590.0,536.5 590.7,534.3 588.4,533.8ZM589.4,530.8 591.7,531.2 592.4,529.1 590.1,528.6ZM591.1,525.6 593.4,526.1 594.1,524.0 591.8,523.5ZM592.8,520.6 595.1,521.0 595.8,519.0 593.5,518.5ZM593.6,518.1 595.9,518.5 596.6,516.5 594.3,516.0ZM588.8,541.9 591.1,542.3 591.9,540.1 589.5,539.6ZM589.6,539.2 592.0,539.7 592.7,537.5 590.4,537.0ZM590.5,536.5 592.9,537.0 593.6,534.9 591.2,534.4ZM592.2,531.3 594.6,531.8 595.3,529.6 592.9,529.2ZM593.9,526.2 596.2,526.6 596.9,524.5 594.6,524.1ZM595.6,521.1 597.9,521.6 598.6,519.5 596.2,519.0ZM596.4,518.6 598.7,519.1 599.4,517.0 597.1,516.6ZM591.6,542.5 594.0,543.0 594.7,540.7 592.3,540.2ZM592.5,539.8 594.9,540.3 595.6,538.1 593.2,537.6ZM593.4,537.1 595.7,537.6 596.4,535.4 594.1,534.9ZM595.1,531.9 597.4,532.4 598.1,530.2 595.7,529.7ZM595.9,529.3 598.2,529.8 598.9,527.6 596.6,527.2ZM596.7,526.7 599.1,527.2 599.8,525.1 597.4,524.6ZM598.4,521.7 600.7,522.1 601.4,520.0 599.0,519.6ZM599.2,519.1 601.5,519.6 602.2,517.5 599.9,517.1ZM594.5,543.1 596.9,543.6 597.6,541.3 595.2,540.8ZM595.4,540.4 597.8,540.9 598.5,538.7 596.1,538.2ZM596.2,537.7 598.6,538.2 599.3,536.0 596.9,535.5ZM597.1,535.1 599.4,535.6 600.1,533.4 597.8,532.9ZM597.9,532.5 600.3,532.9 601.0,530.8 598.6,530.3ZM598.7,529.9 601.1,530.3 601.8,528.2 599.4,527.7ZM599.6,527.3 601.9,527.7 602.6,525.6 600.2,525.2ZM600.4,524.7 602.7,525.2 603.4,523.1 601.0,522.6ZM601.2,522.2 603.5,522.6 604.2,520.5 601.8,520.1ZM602.0,519.7 604.3,520.1 605.0,518.0 602.6,517.6ZM597.4,543.7 599.8,544.2 600.5,541.9 598.1,541.4ZM598.3,541.0 600.7,541.5 601.4,539.2 599.0,538.8ZM599.1,538.3 601.5,538.8 602.2,536.6 599.8,536.1ZM599.9,535.7 602.3,536.1 603.0,534.0 600.6,533.5ZM600.8,533.0 603.2,533.5 603.8,531.3 601.4,530.9ZM601.6,530.4 604.0,530.9 604.6,528.7 602.3,528.3ZM602.4,527.8 604.8,528.3 605.4,526.2 603.1,525.7ZM603.2,525.3 605.6,525.7 606.2,523.6 603.9,523.2ZM604.0,522.7 606.4,523.2 607.0,521.1 604.7,520.6ZM604.8,520.2 607.2,520.6 607.8,518.6 605.5,518.1ZM600.3,544.3 602.8,544.8 603.4,542.5 601.0,542.0ZM601.2,541.6 603.6,542.1 604.3,539.8 601.9,539.4ZM602.0,538.9 604.4,539.4 605.1,537.2 602.7,536.7ZM602.8,536.2 605.2,536.7 605.9,534.5 603.5,534.1ZM603.6,533.6 606.0,534.1 606.7,531.9 604.3,531.4ZM604.5,531.0 606.8,531.5 607.5,529.3 605.1,528.8ZM605.3,528.4 607.6,528.9 608.3,526.7 605.9,526.3ZM606.1,525.8 608.4,526.3 609.1,524.2 606.7,523.7ZM606.9,523.3 609.2,523.7 609.9,521.6 607.5,521.2ZM607.6,520.7 610.0,521.2 610.6,519.1 608.3,518.6ZM603.3,544.9 605.7,545.4 606.4,543.1 603.9,542.6ZM604.1,542.2 606.5,542.7 607.2,540.4 604.8,539.9ZM604.9,539.5 607.3,540.0 608.0,537.8 605.6,537.3ZM609.7,523.8 612.1,524.3 612.7,522.2 610.4,521.7ZM610.5,521.3 612.9,521.7 613.5,519.6 611.1,519.2ZM606.2,545.5 608.7,546.0 609.3,543.7 606.9,543.2ZM607.0,542.8 609.5,543.3 610.1,541.0 607.7,540.5ZM607.8,540.1 610.3,540.6 610.9,538.4 608.5,537.9ZM609.4,534.8 611.9,535.2 612.5,533.1 610.1,532.6ZM611.0,529.5 613.4,530.0 614.1,527.8 611.7,527.4ZM612.6,524.4 615.0,524.8 615.6,522.7 613.2,522.2ZM613.3,521.8 615.7,522.3 616.4,520.1 614.0,519.7ZM609.2,546.1 611.6,546.6 612.3,544.4 609.8,543.8ZM610.0,543.4 612.4,543.9 613.1,541.6 610.6,541.1ZM610.8,540.7 613.2,541.2 613.9,539.0 611.4,538.5ZM612.4,535.3 614.8,535.8 615.4,533.6 613.0,533.2ZM613.9,530.1 616.3,530.6 617.0,528.4 614.6,527.9ZM615.5,524.9 617.9,525.4 618.5,523.2 616.1,522.8ZM616.2,522.4 618.6,522.8 619.2,520.7 616.8,520.2ZM612.1,546.7 614.6,547.2 615.3,545.0 612.8,544.5ZM612.9,544.0 615.4,544.5 616.0,542.3 613.6,541.7ZM613.7,541.3 616.2,541.8 616.8,539.6 614.4,539.1ZM615.3,535.9 617.7,536.4 618.4,534.2 615.9,533.7ZM616.8,530.7 619.3,531.1 619.9,529.0 617.5,528.5ZM618.4,525.5 620.8,525.9 621.4,523.8 619.0,523.3ZM619.1,522.9 621.5,523.3 622.1,521.2 619.7,520.8ZM615.1,547.4 617.6,547.9 618.3,545.6 615.8,545.1ZM615.9,544.6 618.4,545.1 619.0,542.9 616.6,542.4ZM616.7,541.9 619.2,542.4 619.8,540.2 617.3,539.7ZM618.2,536.5 620.7,537.0 621.3,534.8 618.9,534.3ZM619.0,533.9 621.4,534.3 622.1,532.2 619.6,531.7ZM619.8,531.2 622.2,531.7 622.8,529.5 620.4,529.1ZM621.3,526.0 623.7,526.5 624.3,524.3 621.9,523.9ZM622.0,523.4 624.4,523.9 625.0,521.8 622.6,521.3ZM618.1,548.0 620.6,548.5 621.3,546.2 618.8,545.7ZM618.9,545.2 621.4,545.7 622.0,543.5 619.5,543.0ZM619.7,542.5 622.2,543.0 622.8,540.8 620.3,540.3ZM620.4,539.8 622.9,540.3 623.5,538.1 621.1,537.6ZM621.2,537.1 623.7,537.6 624.3,535.4 621.8,534.9ZM622.0,534.4 624.4,534.9 625.0,532.7 622.6,532.2ZM622.7,531.8 625.2,532.3 625.8,530.1 623.3,529.6ZM623.4,529.2 625.9,529.6 626.5,527.5 624.1,527.0ZM624.2,526.6 626.6,527.0 627.2,524.9 624.8,524.4ZM624.9,524.0 627.3,524.4 627.9,522.3 625.5,521.9ZM621.1,548.6 623.6,549.1 624.3,546.8 621.8,546.3ZM621.9,545.9 624.4,546.4 625.0,544.1 622.5,543.6ZM622.7,543.1 625.2,543.6 625.8,541.4 623.3,540.9ZM623.4,540.4 625.9,540.9 626.5,538.7 624.0,538.2ZM624.2,537.7 626.7,538.2 627.3,536.0 624.8,535.5ZM624.9,535.0 627.4,535.5 628.0,533.3 625.5,532.8ZM625.7,532.4 628.1,532.9 628.7,530.7 626.3,530.2ZM626.4,529.7 628.8,530.2 629.4,528.0 627.0,527.6ZM627.1,527.1 629.6,527.6 630.2,525.4 627.7,525.0ZM627.8,524.5 630.3,525.0 630.9,522.9 628.4,522.4ZM624.2,549.2 626.7,549.8 627.3,547.5 624.8,546.9ZM624.9,546.5 627.4,547.0 628.1,544.7 625.5,544.2ZM625.7,543.7 628.2,544.2 628.8,542.0 626.3,541.5ZM626.4,541.0 628.9,541.5 629.5,539.3 627.0,538.8ZM627.2,538.3 629.7,538.8 630.3,536.6 627.8,536.1ZM627.9,535.6 630.4,536.1 631.0,533.9 628.5,533.4ZM628.6,533.0 631.1,533.4 631.7,531.2 629.2,530.8ZM629.4,530.3 631.8,530.8 632.4,528.6 629.9,528.1ZM630.1,527.7 632.5,528.2 633.1,526.0 630.7,525.5ZM630.8,525.1 633.2,525.6 633.8,523.4 631.4,522.9ZM627.2,549.9 629.7,550.4 630.4,548.1 627.8,547.6ZM628.0,547.1 630.5,547.6 631.1,545.3 628.6,544.8ZM628.7,544.3 631.2,544.9 631.8,542.6 629.3,542.1ZM629.4,541.6 631.9,542.1 632.6,539.9 630.0,539.4ZM630.2,538.9 632.7,539.4 633.3,537.2 630.8,536.7ZM630.9,536.2 633.4,536.7 634.0,534.5 631.5,534.0ZM631.6,533.5 634.1,534.0 634.7,531.8 632.2,531.3ZM633.0,528.3 635.5,528.7 636.1,526.6 633.6,526.1ZM633.7,525.6 636.2,526.1 636.8,524.0 634.3,523.5ZM630.3,550.5 632.8,551.1 633.4,548.7 630.9,548.2ZM631.0,547.7 633.5,548.3 634.2,546.0 631.6,545.4ZM631.7,545.0 634.3,545.5 634.9,543.2 632.3,542.7ZM632.5,542.2 635.0,542.7 635.6,540.5 633.1,540.0ZM633.2,539.5 635.7,540.0 636.3,537.8 633.8,537.3ZM633.9,536.8 636.4,537.3 637.0,535.1 634.5,534.6ZM634.6,534.1 637.1,534.6 637.7,532.4 635.2,531.9ZM636.0,528.8 638.5,529.3 639.1,527.1 636.6,526.7ZM636.7,526.2 639.2,526.7 639.8,524.5 637.3,524.0ZM633.3,551.2 635.9,551.7 636.5,549.4 633.9,548.8ZM634.1,548.4 636.6,548.9 637.2,546.6 634.7,546.1ZM634.8,545.6 637.3,546.1 637.9,543.8 635.4,543.3ZM639.0,529.4 641.5,529.9 642.1,527.7 639.6,527.2ZM639.7,526.8 642.2,527.2 642.7,525.1 640.3,524.6ZM636.4,551.8 639.0,552.3 639.6,550.0 637.0,549.5ZM637.2,549.0 639.7,549.5 640.3,547.2 637.7,546.7ZM637.9,546.2 640.4,546.7 641.0,544.4 638.5,543.9ZM638.6,543.5 641.1,544.0 641.7,541.7 639.2,541.2ZM639.3,540.7 641.8,541.2 642.4,539.0 639.8,538.5ZM640.0,538.0 642.5,538.5 643.1,536.2 640.5,535.8ZM640.7,535.3 643.2,535.8 643.7,533.6 641.2,533.1ZM642.0,530.0 644.5,530.4 645.1,528.3 642.6,527.8ZM642.7,527.3 645.2,527.8 645.7,525.6 643.2,525.2ZM639.5,552.5 642.1,553.0 642.7,550.7 640.1,550.1ZM640.2,549.6 642.8,550.2 643.4,547.8 640.8,547.3ZM640.9,546.8 643.5,547.4 644.1,545.1 641.5,544.5ZM641.6,544.1 644.2,544.6 644.8,542.3 642.2,541.8ZM642.3,541.3 644.9,541.8 645.5,539.6 642.9,539.1ZM643.0,538.6 645.6,539.1 646.1,536.8 643.6,536.4ZM643.7,535.9 646.2,536.4 646.8,534.2 644.3,533.7ZM645.0,530.5 647.6,531.0 648.1,528.8 645.6,528.3ZM645.7,527.9 648.2,528.4 648.8,526.2 646.3,525.7ZM642.7,553.1 645.3,553.7 645.8,551.3 643.2,550.8ZM643.4,550.3 646.0,550.8 646.5,548.5 643.9,548.0ZM644.0,547.5 646.6,548.0 647.2,545.7 644.6,545.2ZM644.7,544.7 647.3,545.2 647.9,542.9 645.3,542.4ZM645.4,541.9 648.0,542.5 648.5,540.2 646.0,539.7ZM646.1,539.2 648.6,539.7 649.2,537.4 646.6,536.9ZM646.8,536.5 649.3,537.0 649.9,534.7 647.3,534.3ZM647.4,533.8 650.0,534.3 650.5,532.1 648.0,531.6ZM648.1,531.1 650.6,531.6 651.1,529.4 648.6,528.9ZM648.7,528.5 651.3,528.9 651.8,526.8 649.3,526.3ZM645.8,553.8 648.4,554.3 649.0,551.9 646.4,551.4ZM646.5,550.9 649.1,551.5 649.7,549.1 647.1,548.6ZM647.2,548.1 649.8,548.6 650.3,546.3 647.7,545.8ZM647.8,545.3 650.4,545.8 651.0,543.5 648.4,543.0ZM648.5,542.6 651.1,543.1 651.6,540.8 649.1,540.3ZM649.2,539.8 651.7,540.3 652.3,538.0 649.7,537.5ZM649.8,537.1 652.4,537.6 652.9,535.3 650.4,534.8ZM650.5,534.4 653.0,534.9 653.6,532.6 651.0,532.2ZM651.1,531.7 653.7,532.2 654.2,530.0 651.7,529.5ZM651.8,529.0 654.3,529.5 654.8,527.3 652.3,526.8ZM649.0,554.4 651.6,555.0 652.1,552.6 649.5,552.1ZM649.6,551.6 652.2,552.1 652.8,549.8 650.2,549.2ZM650.3,548.8 652.9,549.3 653.5,547.0 650.8,546.4ZM651.0,546.0 653.6,546.5 654.1,544.2 651.5,543.6ZM651.6,543.2 654.2,543.7 654.7,541.4 652.2,540.9ZM652.3,540.4 654.9,540.9 655.4,538.7 652.8,538.2ZM652.9,537.7 655.5,538.2 656.0,535.9 653.5,535.4ZM653.6,535.0 656.1,535.5 656.7,533.2 654.1,532.7ZM654.2,532.3 656.8,532.8 657.3,530.6 654.7,530.1ZM654.8,529.6 657.4,530.1 657.9,527.9 655.4,527.4ZM652.1,555.1 654.8,555.6 655.3,553.3 652.7,552.7ZM652.8,552.2 655.4,552.8 656.0,550.4 653.3,549.9ZM653.4,549.4 656.1,549.9 656.6,547.6 654.0,547.1ZM654.1,546.6 656.7,547.1 657.2,544.8 654.6,544.3ZM654.7,543.8 657.4,544.3 657.9,542.0 655.3,541.5ZM655.4,541.0 658.0,541.5 658.5,539.3 655.9,538.8ZM656.0,538.3 658.6,538.8 659.1,536.5 656.5,536.0ZM656.7,535.6 659.2,536.1 659.7,533.8 657.2,533.3ZM657.3,532.9 659.9,533.4 660.4,531.1 657.8,530.6ZM657.9,530.2 660.5,530.7 661.0,528.5 658.4,528.0ZM655.3,555.8 658.0,556.3 658.5,553.9 655.9,553.4ZM656.0,552.9 658.6,553.4 659.1,551.1 656.5,550.5ZM656.6,550.0 659.2,550.6 659.8,548.2 657.1,547.7ZM657.3,547.2 659.9,547.8 660.4,545.4 657.8,544.9ZM657.9,544.4 660.5,545.0 661.0,542.6 658.4,542.1ZM658.5,541.7 661.1,542.2 661.6,539.9 659.0,539.4ZM659.1,538.9 661.7,539.4 662.3,537.1 659.7,536.6ZM659.8,536.2 662.4,536.7 662.9,534.4 660.3,533.9ZM660.4,533.5 663.0,534.0 663.5,531.7 660.9,531.2ZM661.0,530.8 663.6,531.3 664.1,529.0 661.5,528.6Z" fill="#1a78be"/>
<polyline points="498.31,491.26 514.18,459.22 666.02,481.82" fill="none" stroke="#5a6a70" stroke-width="0.5" stroke-linejoin="round"/>
<polyline points="514.18,459.22 529.25,499.52 666.93,524.64" fill="none" stroke="#5a6a70" stroke-width="0.5" stroke-linejoin="round"/>
<line x1="666.02" y1="481.82" x2="666.93" y2="524.64" stroke="#5a6a70" stroke-width="0.4"/>
<line x1="529.25" y1="499.52" x2="515.66" y2="530.32" stroke="#5a6a70" stroke-width="0.4"/>
<polyline points="498.31,491.26 515.66,530.32 658.96,560.73 666.93,524.64" fill="none" stroke="#222" stroke-width="0.8" stroke-linejoin="round"/>
<line x1="515.66" y1="530.32" x2="514.89" y2="532.06" stroke="#222" stroke-width="0.5"/>
<line x1="520.76" y1="531.4" x2="520.33" y2="532.4" stroke="#222" stroke-width="0.5"/>
<line x1="525.91" y1="532.49" x2="525.49" y2="533.5" stroke="#222" stroke-width="0.5"/>
<line x1="531.11" y1="533.6" x2="530.69" y2="534.61" stroke="#222" stroke-width="0.5"/>
<line x1="536.36" y1="534.71" x2="535.94" y2="535.73" stroke="#222" stroke-width="0.5"/>
<line x1="541.66" y1="535.83" x2="540.94" y2="537.63" stroke="#222" stroke-width="0.5"/>
<line x1="547" y1="536.97" x2="546.6" y2="538" stroke="#222" stroke-width="0.5"/>
<line x1="552.39" y1="538.11" x2="552" y2="539.15" stroke="#222" stroke-width="0.5"/>
<line x1="557.84" y1="539.27" x2="557.45" y2="540.31" stroke="#222" stroke-width="0.5"/>
<line x1="563.34" y1="540.43" x2="562.95" y2="541.49" stroke="#222" stroke-width="0.5"/>
<line x1="568.89" y1="541.61" x2="568.23" y2="543.47" stroke="#222" stroke-width="0.5"/>
<line x1="574.49" y1="542.8" x2="574.12" y2="543.87" stroke="#222" stroke-width="0.5"/>
<line x1="580.15" y1="544" x2="579.78" y2="545.07" stroke="#222" stroke-width="0.5"/>
<line x1="585.86" y1="545.21" x2="585.5" y2="546.29" stroke="#222" stroke-width="0.5"/>
<line x1="591.62" y1="546.44" x2="591.27" y2="547.52" stroke="#222" stroke-width="0.5"/>
<line x1="597.45" y1="547.67" x2="596.85" y2="549.59" stroke="#222" stroke-width="0.5"/>
<line x1="603.33" y1="548.92" x2="602.99" y2="550.02" stroke="#222" stroke-width="0.5"/>
<line x1="609.26" y1="550.18" x2="608.94" y2="551.29" stroke="#222" stroke-width="0.5"/>
<line x1="615.26" y1="551.45" x2="614.94" y2="552.57" stroke="#222" stroke-width="0.5"/>
<line x1="621.32" y1="552.74" x2="621.01" y2="553.86" stroke="#222" stroke-width="0.5"/>
<line x1="627.43" y1="554.04" x2="626.9" y2="556.02" stroke="#222" stroke-width="0.5"/>
<line x1="633.61" y1="555.35" x2="633.32" y2="556.49" stroke="#222" stroke-width="0.5"/>
<line x1="639.85" y1="556.67" x2="639.57" y2="557.82" stroke="#222" stroke-width="0.5"/>
<line x1="646.16" y1="558.01" x2="645.88" y2="559.16" stroke="#222" stroke-width="0.5"/>
<line x1="652.52" y1="559.36" x2="652.26" y2="560.52" stroke="#222" stroke-width="0.5"/>
<line x1="658.96" y1="560.73" x2="658.5" y2="562.78" stroke="#222" stroke-width="0.5"/>
<line x1="658.96" y1="560.73" x2="661.87" y2="561.34" stroke="#222" stroke-width="0.5"/>
<line x1="659.6" y1="557.81" x2="661.21" y2="558.15" stroke="#222" stroke-width="0.5"/>
<line x1="660.24" y1="554.92" x2="663.13" y2="555.53" stroke="#222" stroke-width="0.5"/>
<line x1="660.87" y1="552.06" x2="662.47" y2="552.39" stroke="#222" stroke-width="0.5"/>
<line x1="661.5" y1="549.22" x2="664.37" y2="549.8" stroke="#222" stroke-width="0.5"/>
<line x1="662.12" y1="546.4" x2="663.71" y2="546.72" stroke="#222" stroke-width="0.5"/>
<line x1="662.74" y1="543.6" x2="665.59" y2="544.17" stroke="#222" stroke-width="0.5"/>
<line x1="663.35" y1="540.83" x2="664.93" y2="541.14" stroke="#222" stroke-width="0.5"/>
<line x1="663.96" y1="538.08" x2="666.79" y2="538.63" stroke="#222" stroke-width="0.5"/>
<line x1="664.56" y1="535.35" x2="666.13" y2="535.65" stroke="#222" stroke-width="0.5"/>
<line x1="665.16" y1="532.64" x2="667.97" y2="533.17" stroke="#222" stroke-width="0.5"/>
<line x1="665.75" y1="529.95" x2="667.31" y2="530.24" stroke="#222" stroke-width="0.5"/>
<line x1="666.34" y1="527.29" x2="669.14" y2="527.8" stroke="#222" stroke-width="0.5"/>
<line x1="666.93" y1="524.64" x2="668.47" y2="524.92" stroke="#222" stroke-width="0.5"/>
<circle cx="542.29" cy="480.21" r="1.15" fill="#1f7cc2" stroke="#0e5a94" stroke-width="0.25"/>
<circle cx="610.82" cy="488.24" r="1.15" fill="#1f7cc2" stroke="#0e5a94" stroke-width="0.25"/>
<circle cx="566.79" cy="483.12" r="1.15" fill="#1f7cc2" stroke="#0e5a94" stroke-width="0.25"/>
<circle cx="605.78" cy="485.58" r="1.15" fill="#1f7cc2" stroke="#0e5a94" stroke-width="0.25"/>
<circle cx="617.2" cy="489.44" r="1.15" fill="#1f7cc2" stroke="#0e5a94" stroke-width="0.25"/>
<circle cx="530.79" cy="473.18" r="1.15" fill="#1f7cc2" stroke="#0e5a94" stroke-width="0.25"/>
<circle cx="544.94" cy="479.37" r="1.15" fill="#1f7cc2" stroke="#0e5a94" stroke-width="0.25"/>
<circle cx="608.82" cy="487.45" r="1.15" fill="#1f7cc2" stroke="#0e5a94" stroke-width="0.25"/>
<circle cx="638.56" cy="492.21" r="1.15" fill="#1f7cc2" stroke="#0e5a94" stroke-width="0.25"/>
<circle cx="533.28" cy="473.39" r="1.15" fill="#1f7cc2" stroke="#0e5a94" stroke-width="0.25"/>
<circle cx="558.26" cy="478.2" r="1.15" fill="#1f7cc2" stroke="#0e5a94" stroke-width="0.25"/>
<circle cx="590.38" cy="484.45" r="1.15" fill="#1f7cc2" stroke="#0e5a94" stroke-width="0.25"/>
<circle cx="560.74" cy="481.79" r="1.15" fill="#1f7cc2" stroke="#0e5a94" stroke-width="0.25"/>
<circle cx="562.05" cy="481.67" r="1.15" fill="#1f7cc2" stroke="#0e5a94" stroke-width="0.25"/>
<circle cx="630.25" cy="492.93" r="1.15" fill="#1f7cc2" stroke="#0e5a94" stroke-width="0.25"/>
<circle cx="641.87" cy="492.75" r="1.15" fill="#1f7cc2" stroke="#0e5a94" stroke-width="0.25"/>
<circle cx="556.58" cy="478.07" r="1.15" fill="#1f7cc2" stroke="#0e5a94" stroke-width="0.25"/>
<circle cx="568.08" cy="483.11" r="1.15" fill="#1f7cc2" stroke="#0e5a94" stroke-width="0.25"/>
<circle cx="565.12" cy="482.52" r="1.15" fill="#1f7cc2" stroke="#0e5a94" stroke-width="0.25"/>
<circle cx="604.1" cy="485.39" r="1.15" fill="#1f7cc2" stroke="#0e5a94" stroke-width="0.25"/>
<circle cx="583.84" cy="483.61" r="1.15" fill="#1f7cc2" stroke="#0e5a94" stroke-width="0.25"/>
<circle cx="588.42" cy="484.25" r="1.15" fill="#1f7cc2" stroke="#0e5a94" stroke-width="0.25"/>
<circle cx="635.12" cy="492.68" r="1.15" fill="#1f7cc2" stroke="#0e5a94" stroke-width="0.25"/>
<circle cx="580.13" cy="485.67" r="1.15" fill="#1f7cc2" stroke="#0e5a94" stroke-width="0.25"/>
<circle cx="581.5" cy="485.84" r="1.15" fill="#1f7cc2" stroke="#0e5a94" stroke-width="0.25"/>
<circle cx="612.14" cy="489.08" r="1.15" fill="#1f7cc2" stroke="#0e5a94" stroke-width="0.25"/>
<circle cx="607.2" cy="486.13" r="1.15" fill="#1f7cc2" stroke="#0e5a94" stroke-width="0.25"/>
<circle cx="640.35" cy="493.07" r="1.15" fill="#1f7cc2" stroke="#0e5a94" stroke-width="0.25"/>
<circle cx="555.2" cy="478.51" r="1.15" fill="#1f7cc2" stroke="#0e5a94" stroke-width="0.25"/>
<circle cx="578.37" cy="485.63" r="1.15" fill="#1f7cc2" stroke="#0e5a94" stroke-width="0.25"/>
<circle cx="585.39" cy="483.66" r="1.15" fill="#1f7cc2" stroke="#0e5a94" stroke-width="0.25"/>
<circle cx="602.63" cy="485.84" r="1.15" fill="#1f7cc2" stroke="#0e5a94" stroke-width="0.25"/>
<circle cx="583.12" cy="485.75" r="1.15" fill="#1f7cc2" stroke="#0e5a94" stroke-width="0.25"/>
<circle cx="538.04" cy="479.64" r="1.15" fill="#1f7cc2" stroke="#0e5a94" stroke-width="0.25"/>
<circle cx="586.89" cy="483.62" r="1.15" fill="#1f7cc2" stroke="#0e5a94" stroke-width="0.25"/>
<circle cx="563.59" cy="482.58" r="1.15" fill="#1f7cc2" stroke="#0e5a94" stroke-width="0.25"/>
<circle cx="628.74" cy="492.9" r="1.15" fill="#1f7cc2" stroke="#0e5a94" stroke-width="0.25"/>
<circle cx="532.3" cy="474.54" r="1.15" fill="#1f7cc2" stroke="#0e5a94" stroke-width="0.25"/>
<circle cx="631.81" cy="493.76" r="1.15" fill="#1f7cc2" stroke="#0e5a94" stroke-width="0.25"/>
<circle cx="633.79" cy="494.26" r="1.15" fill="#1f7cc2" stroke="#0e5a94" stroke-width="0.25"/>
<circle cx="591.51" cy="484.95" r="1.15" fill="#1f7cc2" stroke="#0e5a94" stroke-width="0.25"/>
<circle cx="615.67" cy="490.16" r="1.15" fill="#1f7cc2" stroke="#0e5a94" stroke-width="0.25"/>
<circle cx="636.74" cy="493.04" r="1.15" fill="#1f7cc2" stroke="#0e5a94" stroke-width="0.25"/>
<circle cx="614" cy="488.86" r="1.15" fill="#1f7cc2" stroke="#0e5a94" stroke-width="0.25"/>
<circle cx="535.01" cy="474.59" r="1.15" fill="#1f7cc2" stroke="#0e5a94" stroke-width="0.25"/>
<circle cx="543.45" cy="479.67" r="1.15" fill="#1f7cc2" stroke="#0e5a94" stroke-width="0.25"/>
<circle cx="539.61" cy="480.34" r="1.15" fill="#1f7cc2" stroke="#0e5a94" stroke-width="0.25"/>
<circle cx="554" cy="478.98" r="1.15" fill="#1f7cc2" stroke="#0e5a94" stroke-width="0.25"/>
<circle cx="643.23" cy="493.52" r="1.15" fill="#1f7cc2" stroke="#0e5a94" stroke-width="0.25"/>
<circle cx="540.78" cy="480.05" r="1.15" fill="#1f7cc2" stroke="#0e5a94" stroke-width="0.25"/>
<circle cx="565.37" cy="484.1" r="1.15" fill="#1f7cc2" stroke="#0e5a94" stroke-width="0.25"/>
<circle cx="561.07" cy="483.83" r="1.15" fill="#1f7cc2" stroke="#0e5a94" stroke-width="0.25"/>
<circle cx="554.47" cy="480.68" r="1.15" fill="#1f7cc2" stroke="#0e5a94" stroke-width="0.25"/>
<circle cx="634.54" cy="494.84" r="1.15" fill="#1f7cc2" stroke="#0e5a94" stroke-width="0.25"/>
<circle cx="603.36" cy="488.2" r="1.15" fill="#1f7cc2" stroke="#0e5a94" stroke-width="0.25"/>
<circle cx="566.68" cy="484.42" r="1.15" fill="#1f7cc2" stroke="#0e5a94" stroke-width="0.25"/>
<circle cx="601.61" cy="488.9" r="1.15" fill="#1f7cc2" stroke="#0e5a94" stroke-width="0.25"/>
<circle cx="552.66" cy="479.8" r="1.15" fill="#1f7cc2" stroke="#0e5a94" stroke-width="0.25"/>
<circle cx="636.22" cy="496.23" r="1.15" fill="#1f7cc2" stroke="#0e5a94" stroke-width="0.25"/>
<circle cx="538.09" cy="481.51" r="1.15" fill="#1f7cc2" stroke="#0e5a94" stroke-width="0.25"/>
<circle cx="578.9" cy="487.87" r="1.15" fill="#1f7cc2" stroke="#0e5a94" stroke-width="0.25"/>
<circle cx="559.19" cy="483.63" r="1.15" fill="#1f7cc2" stroke="#0e5a94" stroke-width="0.25"/>
<circle cx="577.23" cy="487.31" r="1.15" fill="#1f7cc2" stroke="#0e5a94" stroke-width="0.25"/>
<circle cx="536.88" cy="481.82" r="1.15" fill="#1f7cc2" stroke="#0e5a94" stroke-width="0.25"/>
<circle cx="609.25" cy="492.86" r="1.15" fill="#1f7cc2" stroke="#0e5a94" stroke-width="0.25"/>
<circle cx="585.4" cy="489.9" r="1.15" fill="#1f7cc2" stroke="#0e5a94" stroke-width="0.25"/>
<circle cx="633.68" cy="498.8" r="1.15" fill="#1f7cc2" stroke="#0e5a94" stroke-width="0.25"/>
<circle cx="582.4" cy="489.67" r="1.15" fill="#1f7cc2" stroke="#0e5a94" stroke-width="0.25"/>
<circle cx="565.53" cy="486.19" r="1.15" fill="#1f7cc2" stroke="#0e5a94" stroke-width="0.25"/>
<circle cx="564.3" cy="486.52" r="1.15" fill="#1f7cc2" stroke="#0e5a94" stroke-width="0.25"/>
<circle cx="551.54" cy="482.19" r="1.15" fill="#1f7cc2" stroke="#0e5a94" stroke-width="0.25"/>
<circle cx="559.71" cy="484.93" r="1.15" fill="#1f7cc2" stroke="#0e5a94" stroke-width="0.25"/>
<circle cx="610.49" cy="493.87" r="1.15" fill="#1f7cc2" stroke="#0e5a94" stroke-width="0.25"/>
<circle cx="602.65" cy="491.93" r="1.15" fill="#1f7cc2" stroke="#0e5a94" stroke-width="0.25"/>
<circle cx="583.92" cy="490.7" r="1.15" fill="#1f7cc2" stroke="#0e5a94" stroke-width="0.25"/>
<circle cx="600.94" cy="491.78" r="1.15" fill="#1f7cc2" stroke="#0e5a94" stroke-width="0.25"/>
<circle cx="605.66" cy="491.75" r="1.15" fill="#1f7cc2" stroke="#0e5a94" stroke-width="0.25"/>
<circle cx="612.11" cy="494.64" r="1.15" fill="#1f7cc2" stroke="#0e5a94" stroke-width="0.25"/>
<circle cx="557.98" cy="485.35" r="1.15" fill="#1f7cc2" stroke="#0e5a94" stroke-width="0.25"/>
<circle cx="579.64" cy="490.03" r="1.15" fill="#1f7cc2" stroke="#0e5a94" stroke-width="0.25"/>
<circle cx="535.24" cy="482.55" r="1.15" fill="#1f7cc2" stroke="#0e5a94" stroke-width="0.25"/>
<circle cx="586.95" cy="490.56" r="1.15" fill="#1f7cc2" stroke="#0e5a94" stroke-width="0.25"/>
<circle cx="576.36" cy="489.11" r="1.15" fill="#1f7cc2" stroke="#0e5a94" stroke-width="0.25"/>
<circle cx="635.21" cy="498.77" r="1.15" fill="#1f7cc2" stroke="#0e5a94" stroke-width="0.25"/>
<circle cx="581.04" cy="490.47" r="1.15" fill="#1f7cc2" stroke="#0e5a94" stroke-width="0.25"/>
<circle cx="604.18" cy="492.25" r="1.15" fill="#1f7cc2" stroke="#0e5a94" stroke-width="0.25"/>
<circle cx="536.8" cy="483.66" r="1.15" fill="#1f7cc2" stroke="#0e5a94" stroke-width="0.25"/>
<circle cx="552.6" cy="481.71" r="1.15" fill="#1f7cc2" stroke="#0e5a94" stroke-width="0.25"/>
<circle cx="577.78" cy="489.17" r="1.15" fill="#1f7cc2" stroke="#0e5a94" stroke-width="0.25"/>
<circle cx="607.32" cy="492.92" r="1.15" fill="#1f7cc2" stroke="#0e5a94" stroke-width="0.25"/>
<circle cx="535.56" cy="484.06" r="1.15" fill="#1f7cc2" stroke="#0e5a94" stroke-width="0.25"/>
<circle cx="564.49" cy="488.04" r="1.15" fill="#1f7cc2" stroke="#0e5a94" stroke-width="0.25"/>
<circle cx="599.92" cy="494.29" r="1.15" fill="#1f7cc2" stroke="#0e5a94" stroke-width="0.25"/>
<circle cx="634.46" cy="501.43" r="1.15" fill="#1f7cc2" stroke="#0e5a94" stroke-width="0.25"/>
<circle cx="575.32" cy="490.57" r="1.15" fill="#1f7cc2" stroke="#0e5a94" stroke-width="0.25"/>
<circle cx="550.49" cy="483.6" r="1.15" fill="#1f7cc2" stroke="#0e5a94" stroke-width="0.25"/>
<circle cx="556.76" cy="486.5" r="1.15" fill="#1f7cc2" stroke="#0e5a94" stroke-width="0.25"/>
<circle cx="563.11" cy="488.53" r="1.15" fill="#1f7cc2" stroke="#0e5a94" stroke-width="0.25"/>
<circle cx="601.76" cy="495.26" r="1.15" fill="#1f7cc2" stroke="#0e5a94" stroke-width="0.25"/>
<circle cx="632.96" cy="501.29" r="1.15" fill="#1f7cc2" stroke="#0e5a94" stroke-width="0.25"/>
<circle cx="558.3" cy="487.09" r="1.15" fill="#1f7cc2" stroke="#0e5a94" stroke-width="0.25"/>
<circle cx="534.14" cy="484.55" r="1.15" fill="#1f7cc2" stroke="#0e5a94" stroke-width="0.25"/>
<circle cx="551.62" cy="483.98" r="1.15" fill="#1f7cc2" stroke="#0e5a94" stroke-width="0.25"/>
<circle cx="576.38" cy="490.86" r="1.15" fill="#1f7cc2" stroke="#0e5a94" stroke-width="0.25"/>
<circle cx="532.81" cy="486.1" r="1.15" fill="#1f7cc2" stroke="#0e5a94" stroke-width="0.25"/>
<circle cx="583.92" cy="496.53" r="1.15" fill="#1f7cc2" stroke="#0e5a94" stroke-width="0.25"/>
<circle cx="582.68" cy="496.22" r="1.15" fill="#1f7cc2" stroke="#0e5a94" stroke-width="0.25"/>
<circle cx="534.02" cy="485.66" r="1.15" fill="#1f7cc2" stroke="#0e5a94" stroke-width="0.25"/>
<circle cx="538.35" cy="485.85" r="1.15" fill="#1f7cc2" stroke="#0e5a94" stroke-width="0.25"/>
<circle cx="550.57" cy="485.25" r="1.15" fill="#1f7cc2" stroke="#0e5a94" stroke-width="0.25"/>
<circle cx="530.96" cy="484.64" r="1.15" fill="#1f7cc2" stroke="#0e5a94" stroke-width="0.25"/>
<circle cx="585.76" cy="496.72" r="1.15" fill="#1f7cc2" stroke="#0e5a94" stroke-width="0.25"/>
<circle cx="557.52" cy="489" r="1.15" fill="#1f7cc2" stroke="#0e5a94" stroke-width="0.25"/>
<circle cx="607.26" cy="498.83" r="1.15" fill="#1f7cc2" stroke="#0e5a94" stroke-width="0.25"/>
<circle cx="605.81" cy="498.5" r="1.15" fill="#1f7cc2" stroke="#0e5a94" stroke-width="0.25"/>
<circle cx="536.53" cy="485.57" r="1.15" fill="#1f7cc2" stroke="#0e5a94" stroke-width="0.25"/>
<circle cx="586.89" cy="496.66" r="1.15" fill="#1f7cc2" stroke="#0e5a94" stroke-width="0.25"/>
<circle cx="573.88" cy="492.18" r="1.15" fill="#1f7cc2" stroke="#0e5a94" stroke-width="0.25"/>
<circle cx="535.03" cy="485.21" r="1.15" fill="#1f7cc2" stroke="#0e5a94" stroke-width="0.25"/>
<circle cx="526.89" cy="483.86" r="1.15" fill="#1f7cc2" stroke="#0e5a94" stroke-width="0.25"/>
<circle cx="562.07" cy="490.24" r="1.15" fill="#1f7cc2" stroke="#0e5a94" stroke-width="0.25"/>
<circle cx="610.34" cy="498.86" r="1.15" fill="#1f7cc2" stroke="#0e5a94" stroke-width="0.25"/>
<circle cx="599.17" cy="497.29" r="1.15" fill="#1f7cc2" stroke="#0e5a94" stroke-width="0.25"/>
<circle cx="601.05" cy="498.15" r="1.15" fill="#1f7cc2" stroke="#0e5a94" stroke-width="0.25"/>
<circle cx="612.19" cy="499.99" r="1.15" fill="#1f7cc2" stroke="#0e5a94" stroke-width="0.25"/>
<circle cx="580.72" cy="496.25" r="1.15" fill="#1f7cc2" stroke="#0e5a94" stroke-width="0.25"/>
<circle cx="563.03" cy="490.16" r="1.15" fill="#1f7cc2" stroke="#0e5a94" stroke-width="0.25"/>
<circle cx="588.18" cy="496.61" r="1.15" fill="#1f7cc2" stroke="#0e5a94" stroke-width="0.25"/>
<circle cx="527.8" cy="484.01" r="1.15" fill="#1f7cc2" stroke="#0e5a94" stroke-width="0.25"/>
<circle cx="575.65" cy="492.8" r="1.15" fill="#1f7cc2" stroke="#0e5a94" stroke-width="0.25"/>
<circle cx="578.62" cy="493.6" r="1.15" fill="#1f7cc2" stroke="#0e5a94" stroke-width="0.25"/>
<circle cx="602.71" cy="498.28" r="1.15" fill="#1f7cc2" stroke="#0e5a94" stroke-width="0.25"/>
<circle cx="614.11" cy="500.36" r="1.15" fill="#1f7cc2" stroke="#0e5a94" stroke-width="0.25"/>
<circle cx="539.23" cy="485.51" r="1.15" fill="#1f7cc2" stroke="#0e5a94" stroke-width="0.25"/>
<circle cx="555.95" cy="489.29" r="1.15" fill="#1f7cc2" stroke="#0e5a94" stroke-width="0.25"/>
<circle cx="608.69" cy="498.94" r="1.15" fill="#1f7cc2" stroke="#0e5a94" stroke-width="0.25"/>
<circle cx="634.07" cy="505.54" r="1.15" fill="#1f7cc2" stroke="#0e5a94" stroke-width="0.25"/>
<circle cx="604.28" cy="498.73" r="1.15" fill="#1f7cc2" stroke="#0e5a94" stroke-width="0.25"/>
<circle cx="549.2" cy="485.71" r="1.15" fill="#1f7cc2" stroke="#0e5a94" stroke-width="0.25"/>
<circle cx="632.41" cy="505.37" r="1.15" fill="#1f7cc2" stroke="#0e5a94" stroke-width="0.25"/>
<circle cx="529.38" cy="484.45" r="1.15" fill="#1f7cc2" stroke="#0e5a94" stroke-width="0.25"/>
<circle cx="577.36" cy="493.75" r="1.15" fill="#1f7cc2" stroke="#0e5a94" stroke-width="0.25"/>
<text x="512.26" y="531.92" font-size="5.6" text-anchor="middle" font-weight="normal" fill="#111" dominant-baseline="central" transform="rotate(62 512.26 531.92)">0</text>
<text x="509.07" y="524.73" font-size="5.6" text-anchor="middle" font-weight="normal" fill="#111" dominant-baseline="central" transform="rotate(62 509.07 524.73)">4</text>
<text x="505.75" y="517.25" font-size="5.6" text-anchor="middle" font-weight="normal" fill="#111" dominant-baseline="central" transform="rotate(62 505.75 517.25)">8</text>
<text x="502.29" y="509.46" font-size="5.6" text-anchor="middle" font-weight="normal" fill="#111" dominant-baseline="central" transform="rotate(62 502.29 509.46)">12</text>
<text x="498.68" y="501.34" font-size="5.6" text-anchor="middle" font-weight="normal" fill="#111" dominant-baseline="central" transform="rotate(62 498.68 501.34)">16</text>
<text x="494.91" y="492.86" font-size="5.6" text-anchor="middle" font-weight="normal" fill="#111" dominant-baseline="central" transform="rotate(62 494.91 492.86)">20</text>
<text x="540.75" y="542.4" font-size="6" text-anchor="middle" font-weight="normal" fill="#111" dominant-baseline="central" transform="rotate(-72 540.75 542.4)">10</text>
<text x="568.22" y="548.43" font-size="6" text-anchor="middle" font-weight="normal" fill="#111" dominant-baseline="central" transform="rotate(-72 568.22 548.43)">20</text>
<text x="597.05" y="554.76" font-size="6" text-anchor="middle" font-weight="normal" fill="#111" dominant-baseline="central" transform="rotate(-72 597.05 554.76)">30</text>
<text x="627.34" y="561.41" font-size="6" text-anchor="middle" font-weight="normal" fill="#111" dominant-baseline="central" transform="rotate(-72 627.34 561.41)">40</text>
<text x="659.19" y="568.41" font-size="6" text-anchor="middle" font-weight="normal" fill="#111" dominant-baseline="central" transform="rotate(-72 659.19 568.41)">50</text>
<text x="666.33" y="562.04" font-size="5" text-anchor="middle" font-weight="normal" fill="#111" dominant-baseline="central" transform="rotate(-72 666.33 562.04)">0</text>
<text x="667.57" y="556.2" font-size="5" text-anchor="middle" font-weight="normal" fill="#111" dominant-baseline="central" transform="rotate(-72 667.57 556.2)">2</text>
<text x="668.78" y="550.45" font-size="5" text-anchor="middle" font-weight="normal" fill="#111" dominant-baseline="central" transform="rotate(-72 668.78 550.45)">4</text>
<text x="669.98" y="544.8" font-size="5" text-anchor="middle" font-weight="normal" fill="#111" dominant-baseline="central" transform="rotate(-72 669.98 544.8)">6</text>
<text x="671.16" y="539.24" font-size="5" text-anchor="middle" font-weight="normal" fill="#111" dominant-baseline="central" transform="rotate(-72 671.16 539.24)">8</text>
<text x="672.32" y="533.77" font-size="5" text-anchor="middle" font-weight="normal" fill="#111" dominant-baseline="central" transform="rotate(-72 672.32 533.77)">10</text>
<text x="673.46" y="528.38" font-size="5" text-anchor="middle" font-weight="normal" fill="#111" dominant-baseline="central" transform="rotate(-72 673.46 528.38)">12</text>
<text x="579.2" y="560.3" font-size="6.6" text-anchor="middle" font-weight="bold" fill="#111" dominant-baseline="central" transform="rotate(20 579.2 560.3)">X Axis</text>
<text x="500.6" y="523" font-size="5.8" text-anchor="middle" font-weight="normal" fill="#111" dominant-baseline="central" transform="rotate(66 500.6 523)">Current(fA)</text>
<text x="678.1" y="547" font-size="6.6" text-anchor="middle" font-weight="bold" fill="#111" dominant-baseline="central" transform="rotate(-72 678.1 547)">Y Axis</text>
<polygon points="499.78,550.09 649.11,577.4 648.6,636.41 517.58,605.99" fill="#d4e8ee" stroke="none" stroke-width="1"/>
<line x1="516.08" y1="601.27" x2="648.65" y2="631.5" stroke="#b4cad2" stroke-width="0.45"/>
<line x1="514.53" y1="596.42" x2="648.69" y2="626.45" stroke="#b4cad2" stroke-width="0.45"/>
<line x1="512.96" y1="591.47" x2="648.73" y2="621.27" stroke="#b4cad2" stroke-width="0.45"/>
<line x1="511.34" y1="586.39" x2="648.78" y2="615.95" stroke="#b4cad2" stroke-width="0.45"/>
<line x1="509.68" y1="581.18" x2="648.83" y2="610.47" stroke="#b4cad2" stroke-width="0.45"/>
<line x1="507.98" y1="575.85" x2="648.88" y2="604.84" stroke="#b4cad2" stroke-width="0.45"/>
<line x1="506.24" y1="570.38" x2="648.93" y2="599.05" stroke="#b4cad2" stroke-width="0.45"/>
<line x1="504.45" y1="564.77" x2="648.98" y2="593.09" stroke="#b4cad2" stroke-width="0.45"/>
<line x1="502.62" y1="559.01" x2="649.03" y2="586.96" stroke="#b4cad2" stroke-width="0.45"/>
<line x1="500.74" y1="553.11" x2="649.09" y2="580.64" stroke="#b4cad2" stroke-width="0.45"/>
<line x1="541.44" y1="611.53" x2="526.6" y2="555" stroke="#b4cad2" stroke-width="0.45"/>
<line x1="566.4" y1="617.33" x2="554.82" y2="560.16" stroke="#b4cad2" stroke-width="0.45"/>
<line x1="592.52" y1="623.39" x2="584.56" y2="565.6" stroke="#b4cad2" stroke-width="0.45"/>
<line x1="619.89" y1="629.74" x2="615.95" y2="571.34" stroke="#b4cad2" stroke-width="0.45"/>
<polygon points="499.78,550.09 517.58,605.99 502.52,631.83 481.81,577.4" fill="#cfe4ea" stroke="none" stroke-width="1"/>
<line x1="500.78" y1="627.25" x2="516.08" y2="601.27" stroke="#b4cad2" stroke-width="0.4"/>
<line x1="498.99" y1="622.55" x2="514.53" y2="596.42" stroke="#b4cad2" stroke-width="0.4"/>
<line x1="497.16" y1="617.74" x2="512.96" y2="591.47" stroke="#b4cad2" stroke-width="0.4"/>
<line x1="495.28" y1="612.8" x2="511.34" y2="586.39" stroke="#b4cad2" stroke-width="0.4"/>
<line x1="493.36" y1="607.74" x2="509.68" y2="581.18" stroke="#b4cad2" stroke-width="0.4"/>
<line x1="491.38" y1="602.55" x2="507.98" y2="575.85" stroke="#b4cad2" stroke-width="0.4"/>
<line x1="489.35" y1="597.21" x2="506.24" y2="570.38" stroke="#b4cad2" stroke-width="0.4"/>
<line x1="487.27" y1="591.74" x2="504.45" y2="564.77" stroke="#b4cad2" stroke-width="0.4"/>
<line x1="485.13" y1="586.12" x2="502.62" y2="559.01" stroke="#b4cad2" stroke-width="0.4"/>
<line x1="482.93" y1="580.34" x2="500.74" y2="553.11" stroke="#b4cad2" stroke-width="0.4"/>
<line x1="504.91" y1="627.74" x2="484.67" y2="573.05" stroke="#b4cad2" stroke-width="0.4"/>
<line x1="507.27" y1="623.69" x2="487.5" y2="568.76" stroke="#b4cad2" stroke-width="0.4"/>
<line x1="509.6" y1="619.68" x2="490.28" y2="564.52" stroke="#b4cad2" stroke-width="0.4"/>
<line x1="511.91" y1="615.72" x2="493.04" y2="560.34" stroke="#b4cad2" stroke-width="0.4"/>
<line x1="514.2" y1="611.8" x2="495.76" y2="556.2" stroke="#b4cad2" stroke-width="0.4"/>
<line x1="516.46" y1="607.92" x2="498.45" y2="552.12" stroke="#b4cad2" stroke-width="0.4"/>
<polygon points="517.58,605.99 648.6,636.41 636.89,666.77 502.52,631.83" fill="#d4e8ee" stroke="none" stroke-width="1"/>
<polygon points="507.66,630.09 636.59,663.24 645.65,639.9 519.19,610.1" fill="#f0a878" stroke="none" stroke-width="1"/>
<polygon points="592.49,639.48 595.41,640.19 596.47,637.86 593.56,637.15" fill="#dcecf0" stroke="none" stroke-width="1"/>
<polygon points="573.07,629.91 575.86,630.59 576.96,628.33 574.17,627.67" fill="#dcecf0" stroke="none" stroke-width="1"/>
<polygon points="546.62,630.54 549.32,631.21 550.47,628.99 547.79,628.33" fill="#dcecf0" stroke="none" stroke-width="1"/>
<polygon points="568.35,633.53 571.14,634.22 572.25,631.95 569.46,631.27" fill="#dcecf0" stroke="none" stroke-width="1"/>
<polygon points="602.75,637.09 605.69,637.8 606.73,635.47 603.79,634.77" fill="#dcecf0" stroke="none" stroke-width="1"/>
<polygon points="549.9,624.3 552.58,624.95 553.72,622.76 551.04,622.12" fill="#dcecf0" stroke="none" stroke-width="1"/>
<polygon points="590.77,636.61 593.67,637.32 594.73,635 591.84,634.31" fill="#dcecf0" stroke="none" stroke-width="1"/>
<polygon points="530.49,628.88 533.11,629.54 534.31,627.35 531.69,626.69" fill="#dcecf0" stroke="none" stroke-width="1"/>
<polygon points="587.72,643.22 590.63,643.95 591.71,641.59 588.8,640.87" fill="#dcecf0" stroke="none" stroke-width="1"/>
<polygon points="617.71,645.69 620.75,646.43 621.76,644.03 618.72,643.29" fill="#dcecf0" stroke="none" stroke-width="1"/>
<polygon points="533.86,622.72 536.47,623.36 537.65,621.2 535.04,620.57" fill="#dcecf0" stroke="none" stroke-width="1"/>
<polygon points="535.45,630.13 538.1,630.79 539.29,628.58 536.64,627.92" fill="#dcecf0" stroke="none" stroke-width="1"/>
<polygon points="598,640.83 600.94,641.56 601.99,639.21 599.06,638.49" fill="#dcecf0" stroke="none" stroke-width="1"/>
<polygon points="593.22,644.6 596.16,645.34 597.23,642.97 594.3,642.24" fill="#dcecf0" stroke="none" stroke-width="1"/>
<polygon points="578.35,631.19 581.17,631.87 582.26,629.6 579.44,628.93" fill="#dcecf0" stroke="none" stroke-width="1"/>
<polygon points="551.72,631.81 554.43,632.49 555.58,630.25 552.87,629.58" fill="#dcecf0" stroke="none" stroke-width="1"/>
<polygon points="573.62,634.83 576.44,635.52 577.54,633.24 574.73,632.55" fill="#dcecf0" stroke="none" stroke-width="1"/>
<polygon points="554.96,625.53 557.67,626.18 558.8,623.98 556.1,623.33" fill="#dcecf0" stroke="none" stroke-width="1"/>
<polygon points="556.86,633.09 559.6,633.77 560.74,631.52 558,630.84" fill="#dcecf0" stroke="none" stroke-width="1"/>
<polygon points="613.94,639.8 616.94,640.52 617.94,638.16 614.95,637.44" fill="#dcecf0" stroke="none" stroke-width="1"/>
<polygon points="616.75,647.96 619.8,648.72 620.81,646.3 617.77,645.55" fill="#dcecf0" stroke="none" stroke-width="1"/>
<polygon points="532.53,620.1 535.12,620.73 536.29,618.59 533.7,617.96" fill="#dcecf0" stroke="none" stroke-width="1"/>
<polygon points="560.08,626.77 562.81,627.43 563.93,625.21 561.2,624.56" fill="#dcecf0" stroke="none" stroke-width="1"/>
<polygon points="619.61,641.17 622.64,641.9 623.63,639.53 620.61,638.8" fill="#dcecf0" stroke="none" stroke-width="1"/>
<polygon points="594.5,635.1 597.4,635.8 598.45,633.49 595.56,632.79" fill="#dcecf0" stroke="none" stroke-width="1"/>
<polygon points="567.29,635.68 570.08,636.37 571.2,634.09 568.41,633.4" fill="#dcecf0" stroke="none" stroke-width="1"/>
<polygon points="568.86,638.5 571.68,639.2 572.8,636.9 569.99,636.2" fill="#dcecf0" stroke="none" stroke-width="1"/>
<polygon points="598.78,645.99 601.75,646.74 602.8,644.35 599.84,643.61" fill="#dcecf0" stroke="none" stroke-width="1"/>
<polygon points="548.81,626.37 551.5,627.03 552.64,624.83 549.96,624.18" fill="#dcecf0" stroke="none" stroke-width="1"/>
<polygon points="570.45,629.28 573.23,629.95 574.33,627.7 571.55,627.04" fill="#dcecf0" stroke="none" stroke-width="1"/>
<polygon points="545.52,632.65 548.22,633.32 549.38,631.09 546.69,630.42" fill="#dcecf0" stroke="none" stroke-width="1"/>
<polygon points="537.43,621.29 540.05,621.92 541.22,619.77 538.6,619.14" fill="#dcecf0" stroke="none" stroke-width="1"/>
<polygon points="532.74,624.76 535.36,625.41 536.54,623.24 533.93,622.6" fill="#dcecf0" stroke="none" stroke-width="1"/>
<polygon points="589.76,638.8 592.66,639.52 593.73,637.19 590.83,636.48" fill="#dcecf0" stroke="none" stroke-width="1"/>
<polygon points="625.34,642.56 628.4,643.3 629.38,640.9 626.33,640.17" fill="#dcecf0" stroke="none" stroke-width="1"/>
<polygon points="599.99,636.42 602.92,637.13 603.95,634.81 601.03,634.11" fill="#dcecf0" stroke="none" stroke-width="1"/>
<polygon points="595.24,640.15 598.17,640.87 599.22,638.53 596.3,637.82" fill="#dcecf0" stroke="none" stroke-width="1"/>
<polygon points="574.18,639.83 577.03,640.54 578.13,638.23 575.3,637.52" fill="#dcecf0" stroke="none" stroke-width="1"/>
<polygon points="575.71,630.55 578.51,631.23 579.6,628.97 576.8,628.3" fill="#dcecf0" stroke="none" stroke-width="1"/>
<polygon points="550.62,633.93 553.34,634.61 554.5,632.36 551.78,631.68" fill="#dcecf0" stroke="none" stroke-width="1"/>
<polygon points="552.43,624.91 555.12,625.57 556.25,623.37 553.57,622.73" fill="#dcecf0" stroke="none" stroke-width="1"/>
<polygon points="581.01,631.83 583.85,632.52 584.92,630.24 582.1,629.57" fill="#dcecf0" stroke="none" stroke-width="1"/>
<polygon points="553.89,627.61 556.6,628.27 557.73,626.06 555.03,625.4" fill="#dcecf0" stroke="none" stroke-width="1"/>
<polygon points="528.02,628.27 530.64,628.92 531.83,626.73 529.23,626.08" fill="#dcecf0" stroke="none" stroke-width="1"/>
<polygon points="555.77,635.22 558.52,635.91 559.67,633.64 556.92,632.96" fill="#dcecf0" stroke="none" stroke-width="1"/>
<polygon points="530.09,619.51 532.67,620.13 533.85,618 531.27,617.38" fill="#dcecf0" stroke="none" stroke-width="1"/>
<polygon points="616.77,640.48 619.78,641.21 620.78,638.84 617.77,638.12" fill="#dcecf0" stroke="none" stroke-width="1"/>
<polygon points="559.01,628.86 561.74,629.53 562.87,627.3 560.14,626.64" fill="#dcecf0" stroke="none" stroke-width="1"/>
<polygon points="618.66,643.42 621.7,644.16 622.7,641.77 619.67,641.04" fill="#dcecf0" stroke="none" stroke-width="1"/>
<polygon points="590.46,643.91 593.39,644.64 594.46,642.28 591.54,641.55" fill="#dcecf0" stroke="none" stroke-width="1"/>
<polygon points="615.78,650.25 618.84,651.02 619.86,648.58 616.81,647.83" fill="#dcecf0" stroke="none" stroke-width="1"/>
<polygon points="569.4,631.4 572.19,632.08 573.29,629.82 570.51,629.15" fill="#dcecf0" stroke="none" stroke-width="1"/>
<polygon points="570.98,634.18 573.78,634.87 574.89,632.59 572.09,631.91" fill="#dcecf0" stroke="none" stroke-width="1"/>
<polygon points="566.22,637.84 569.02,638.54 570.14,636.24 567.35,635.55" fill="#dcecf0" stroke="none" stroke-width="1"/>
<polygon points="547.72,628.45 550.41,629.11 551.56,626.9 548.88,626.25" fill="#dcecf0" stroke="none" stroke-width="1"/>
<polygon points="557.52,626.15 560.23,626.8 561.36,624.59 558.65,623.94" fill="#dcecf0" stroke="none" stroke-width="1"/>
<polygon points="531.62,626.82 534.24,627.47 535.43,625.29 532.81,624.64" fill="#dcecf0" stroke="none" stroke-width="1"/>
<polygon points="588.74,641.01 591.65,641.73 592.72,639.39 589.82,638.67" fill="#dcecf0" stroke="none" stroke-width="1"/>
<polygon points="532.96,629.5 535.6,630.16 536.79,627.96 534.16,627.31" fill="#dcecf0" stroke="none" stroke-width="1"/>
<polygon points="534.97,620.69 537.58,621.32 538.75,619.17 536.15,618.55" fill="#dcecf0" stroke="none" stroke-width="1"/>
<polygon points="591.78,634.44 594.67,635.14 595.72,632.83 592.84,632.14" fill="#dcecf0" stroke="none" stroke-width="1"/>
<polygon points="622.47,641.86 625.51,642.6 626.5,640.21 623.46,639.48" fill="#dcecf0" stroke="none" stroke-width="1"/>
<polygon points="595.99,645.3 598.95,646.04 600.01,643.66 597.06,642.92" fill="#dcecf0" stroke="none" stroke-width="1"/>
<polygon points="539.9,621.88 542.53,622.52 543.69,620.36 541.07,619.73" fill="#dcecf0" stroke="none" stroke-width="1"/>
<polygon points="597.24,635.76 600.15,636.46 601.2,634.15 598.29,633.45" fill="#dcecf0" stroke="none" stroke-width="1"/>
<polygon points="576.28,635.48 579.11,636.18 580.21,633.89 577.38,633.2" fill="#dcecf0" stroke="none" stroke-width="1"/>
<polygon points="571.52,639.16 574.35,639.87 575.46,637.56 572.64,636.86" fill="#dcecf0" stroke="none" stroke-width="1"/>
<polygon points="552.8,629.7 555.52,630.37 556.66,628.15 553.95,627.49" fill="#dcecf0" stroke="none" stroke-width="1"/>
<polygon points="576.87,640.5 579.72,641.22 580.82,638.89 577.97,638.19" fill="#dcecf0" stroke="none" stroke-width="1"/>
<polygon points="557.94,630.97 560.68,631.64 561.81,629.4 559.07,628.74" fill="#dcecf0" stroke="none" stroke-width="1"/>
<polygon points="525.57,627.65 528.17,628.3 529.37,626.12 526.78,625.48" fill="#dcecf0" stroke="none" stroke-width="1"/>
<path d="M508.0,630.0 510.0,630.5 510.9,628.8 508.9,628.3ZM509.1,627.9 511.1,628.4 512.1,626.7 510.1,626.2ZM510.3,625.9 512.3,626.4 513.3,624.7 511.3,624.2ZM511.5,623.9 513.5,624.4 514.4,622.7 512.5,622.2ZM512.6,621.8 514.6,622.3 515.6,620.7 513.6,620.2ZM513.8,619.8 515.8,620.3 516.7,618.7 514.8,618.2ZM515.0,617.8 516.9,618.3 517.9,616.7 515.9,616.2ZM516.1,615.9 518.1,616.3 519.0,614.7 517.0,614.2ZM517.2,613.9 519.2,614.4 520.1,612.7 518.2,612.3ZM518.4,611.9 520.3,612.4 521.3,610.8 519.3,610.3ZM510.4,630.6 512.4,631.1 513.3,629.4 511.3,628.9ZM511.5,628.5 513.5,629.0 514.5,627.3 512.5,626.8ZM512.7,626.5 514.7,627.0 515.7,625.3 513.7,624.8ZM513.9,624.5 515.9,625.0 516.8,623.3 514.8,622.8ZM515.0,622.4 517.0,622.9 518.0,621.3 516.0,620.8ZM516.2,620.4 518.2,620.9 519.1,619.2 517.1,618.8ZM517.3,618.4 519.3,618.9 520.3,617.3 518.3,616.8ZM518.5,616.4 520.4,616.9 521.4,615.3 519.4,614.8ZM519.6,614.5 521.6,614.9 522.5,613.3 520.5,612.8ZM520.7,612.5 522.7,613.0 523.6,611.3 521.7,610.9ZM512.8,631.2 514.8,631.7 515.8,630.0 513.7,629.5ZM513.9,629.1 516.0,629.7 516.9,627.9 514.9,627.4ZM515.1,627.1 517.1,627.6 518.1,625.9 516.1,625.4ZM516.3,625.1 518.3,625.6 519.2,623.9 517.2,623.4ZM517.4,623.0 519.4,623.5 520.4,621.8 518.4,621.4ZM518.6,621.0 520.6,621.5 521.5,619.8 519.5,619.3ZM519.7,619.0 521.7,619.5 522.6,617.8 520.7,617.4ZM520.9,617.0 522.8,617.5 523.8,615.8 521.8,615.4ZM522.0,615.0 524.0,615.5 524.9,613.9 522.9,613.4ZM523.1,613.1 525.1,613.5 526.0,611.9 524.0,611.4ZM515.2,631.8 517.2,632.3 518.2,630.6 516.2,630.1ZM516.4,629.8 518.4,630.3 519.3,628.6 517.3,628.1ZM517.5,627.7 519.5,628.2 520.5,626.5 518.5,626.0ZM518.7,625.7 520.7,626.2 521.6,624.5 519.6,624.0ZM519.8,623.6 521.8,624.1 522.8,622.4 520.8,621.9ZM521.0,621.6 523.0,622.1 523.9,620.4 521.9,619.9ZM522.1,619.6 524.1,620.1 525.1,618.4 523.1,617.9ZM523.2,617.6 525.2,618.1 526.2,616.4 524.2,615.9ZM524.4,615.6 526.4,616.1 527.3,614.4 525.3,614.0ZM525.5,613.6 527.5,614.1 528.4,612.5 526.4,612.0ZM517.6,632.4 519.7,633.0 520.6,631.2 518.6,630.7ZM518.8,630.4 520.8,630.9 521.8,629.2 519.8,628.7ZM520.0,628.3 522.0,628.8 522.9,627.1 520.9,626.6ZM521.1,626.3 523.1,626.8 524.1,625.1 522.1,624.6ZM522.3,624.2 524.3,624.7 525.2,623.0 523.2,622.5ZM523.4,622.2 525.4,622.7 526.3,621.0 524.3,620.5ZM524.5,620.2 526.5,620.7 527.5,619.0 525.5,618.5ZM525.7,618.2 527.7,618.7 528.6,617.0 526.6,616.5ZM526.8,616.2 528.8,616.7 529.7,615.0 527.7,614.5ZM527.9,614.2 529.9,614.7 530.8,613.0 528.8,612.6ZM520.1,633.1 522.1,633.6 523.1,631.9 521.0,631.3ZM521.2,631.0 523.3,631.5 524.2,629.8 522.2,629.3ZM522.4,628.9 524.4,629.4 525.4,627.7 523.3,627.2ZM523.5,626.9 525.6,627.4 526.5,625.7 524.5,625.2ZM524.7,624.8 526.7,625.3 527.6,623.6 525.6,623.1ZM525.8,622.8 527.8,623.3 528.8,621.6 526.8,621.1ZM526.9,620.8 529.0,621.3 529.9,619.6 527.9,619.1ZM528.1,618.8 530.1,619.2 531.0,617.6 529.0,617.1ZM529.2,616.8 531.2,617.2 532.1,615.6 530.1,615.1ZM530.3,614.8 532.3,615.2 533.2,613.6 531.2,613.1ZM522.5,633.7 524.6,634.2 525.5,632.5 523.5,632.0ZM523.7,631.6 525.7,632.1 526.7,630.4 524.6,629.9ZM524.8,629.5 526.9,630.1 527.8,628.3 525.8,627.8ZM527.1,625.4 529.2,625.9 530.1,624.2 528.1,623.7ZM528.3,623.4 530.3,623.9 531.2,622.2 529.2,621.7ZM529.4,621.4 531.4,621.9 532.3,620.2 530.3,619.7ZM531.6,617.3 533.6,617.8 534.5,616.2 532.5,615.7ZM532.7,615.3 534.7,615.8 535.6,614.2 533.6,613.7ZM525.0,634.3 527.1,634.9 528.0,633.1 526.0,632.6ZM526.1,632.2 528.2,632.8 529.2,631.0 527.1,630.5ZM527.3,630.2 529.3,630.7 530.3,629.0 528.2,628.4ZM529.6,626.0 531.6,626.5 532.5,624.8 530.5,624.3ZM530.7,624.0 532.7,624.5 533.7,622.8 531.6,622.3ZM531.8,622.0 533.9,622.5 534.8,620.8 532.7,620.3ZM534.0,617.9 536.1,618.4 537.0,616.7 535.0,616.3ZM535.1,615.9 537.2,616.4 538.1,614.7 536.1,614.3ZM527.5,635.0 529.5,635.5 530.5,633.8 528.4,633.2ZM528.6,632.9 530.7,633.4 531.6,631.7 529.6,631.1ZM529.8,630.8 531.8,631.3 532.8,629.6 530.7,629.1ZM536.5,618.5 538.5,619.0 539.4,617.3 537.4,616.8ZM537.6,616.5 539.6,617.0 540.5,615.3 538.5,614.8ZM530.0,635.6 532.0,636.2 533.0,634.4 530.9,633.9ZM531.1,633.5 533.2,634.0 534.1,632.3 532.1,631.8ZM532.2,631.4 534.3,631.9 535.3,630.2 533.2,629.7ZM534.5,627.3 536.6,627.8 537.5,626.1 535.4,625.6ZM535.6,625.2 537.7,625.7 538.6,624.0 536.5,623.5ZM536.7,623.2 538.8,623.7 539.7,622.0 537.7,621.5ZM538.9,619.1 541.0,619.6 541.9,617.9 539.9,617.4ZM540.0,617.1 542.1,617.6 543.0,615.9 540.9,615.4ZM532.5,636.3 534.6,636.8 535.5,635.0 533.4,634.5ZM533.6,634.1 535.7,634.7 536.6,632.9 534.5,632.4ZM534.7,632.0 536.8,632.6 537.8,630.8 535.7,630.3ZM537.0,627.9 539.1,628.4 540.0,626.7 537.9,626.2ZM538.1,625.8 540.2,626.3 541.1,624.6 539.0,624.1ZM539.2,623.8 541.3,624.3 542.2,622.6 540.1,622.1ZM541.4,619.7 543.5,620.2 544.4,618.5 542.3,618.0ZM542.5,617.7 544.6,618.2 545.5,616.5 543.4,616.0ZM535.0,636.9 537.1,637.4 538.0,635.7 535.9,635.1ZM536.1,634.8 538.2,635.3 539.1,633.6 537.1,633.0ZM537.2,632.7 539.3,633.2 540.3,631.5 538.2,630.9ZM538.4,630.6 540.5,631.1 541.4,629.4 539.3,628.9ZM539.5,628.5 541.6,629.0 542.5,627.3 540.4,626.8ZM540.6,626.4 542.7,626.9 543.6,625.2 541.5,624.7ZM541.7,624.4 543.8,624.9 544.7,623.2 542.6,622.7ZM542.8,622.3 544.9,622.8 545.8,621.1 543.7,620.6ZM543.9,620.3 546.0,620.8 546.9,619.1 544.8,618.6ZM545.0,618.3 547.0,618.7 547.9,617.1 545.9,616.6ZM537.5,637.6 539.6,638.1 540.5,636.3 538.4,635.8ZM538.6,635.4 540.7,636.0 541.7,634.2 539.6,633.7ZM539.8,633.3 541.9,633.8 542.8,632.1 540.7,631.6ZM540.9,631.2 543.0,631.7 543.9,630.0 541.8,629.5ZM542.0,629.1 544.1,629.6 545.0,627.9 542.9,627.4ZM543.1,627.0 545.2,627.6 546.1,625.8 544.0,625.3ZM544.2,625.0 546.3,625.5 547.2,623.8 545.1,623.3ZM545.3,622.9 547.4,623.4 548.3,621.7 546.2,621.2ZM546.4,620.9 548.5,621.4 549.3,619.7 547.3,619.2ZM547.5,618.8 549.5,619.3 550.4,617.7 548.4,617.2ZM540.0,638.2 542.2,638.7 543.1,637.0 541.0,636.4ZM541.2,636.1 543.3,636.6 544.2,634.8 542.1,634.3ZM542.3,634.0 544.4,634.5 545.3,632.7 543.2,632.2ZM543.4,631.8 545.5,632.4 546.4,630.6 544.3,630.1ZM544.5,629.7 546.6,630.3 547.5,628.5 545.4,628.0ZM545.6,627.7 547.7,628.2 548.6,626.5 546.5,625.9ZM546.7,625.6 548.8,626.1 549.7,624.4 547.6,623.9ZM547.8,623.5 549.9,624.0 550.8,622.3 548.7,621.8ZM548.9,621.5 551.0,622.0 551.9,620.3 549.8,619.8ZM550.0,619.4 552.0,619.9 552.9,618.2 550.8,617.8ZM542.6,638.9 544.7,639.4 545.6,637.6 543.5,637.1ZM543.7,636.7 545.8,637.3 546.8,635.5 544.6,635.0ZM544.8,634.6 546.9,635.1 547.9,633.4 545.7,632.8ZM551.4,622.1 553.5,622.6 554.4,620.9 552.3,620.4ZM552.5,620.0 554.6,620.5 555.4,618.8 553.4,618.3ZM545.1,639.5 547.3,640.1 548.2,638.3 546.1,637.7ZM546.3,637.4 548.4,637.9 549.3,636.1 547.2,635.6ZM547.4,635.2 549.5,635.8 550.4,634.0 548.3,633.5ZM548.5,633.1 550.6,633.6 551.5,631.9 549.4,631.4ZM549.6,631.0 551.7,631.5 552.6,629.8 550.5,629.3ZM550.7,628.9 552.8,629.4 553.7,627.7 551.6,627.2ZM551.8,626.8 553.9,627.3 554.8,625.6 552.7,625.1ZM553.9,622.7 556.0,623.2 556.9,621.5 554.8,621.0ZM555.0,620.6 557.1,621.1 558.0,619.4 555.9,618.9ZM547.7,640.2 549.9,640.7 550.8,638.9 548.6,638.4ZM548.8,638.0 551.0,638.6 551.9,636.8 549.8,636.2ZM549.9,635.9 552.1,636.4 553.0,634.7 550.9,634.1ZM556.5,623.3 558.6,623.8 559.4,622.1 557.3,621.6ZM557.5,621.2 559.6,621.7 560.5,620.0 558.4,619.5ZM550.3,640.8 552.5,641.4 553.4,639.6 551.2,639.0ZM551.4,638.7 553.6,639.2 554.5,637.4 552.3,636.9ZM552.5,636.5 554.7,637.1 555.6,635.3 553.4,634.8ZM553.6,634.4 555.8,634.9 556.7,633.2 554.5,632.6ZM554.7,632.3 556.8,632.8 557.7,631.0 555.6,630.5ZM555.8,630.2 557.9,630.7 558.8,628.9 556.7,628.4ZM556.9,628.1 559.0,628.6 559.9,626.8 557.8,626.3ZM559.0,623.9 561.1,624.4 562.0,622.7 559.9,622.2ZM560.1,621.8 562.2,622.3 563.0,620.6 560.9,620.1ZM552.9,641.5 555.1,642.1 556.0,640.3 553.8,639.7ZM554.0,639.3 556.2,639.9 557.1,638.1 554.9,637.6ZM555.1,637.2 557.3,637.7 558.2,635.9 556.0,635.4ZM561.6,624.5 563.7,625.0 564.6,623.3 562.4,622.8ZM562.6,622.4 564.7,622.9 565.6,621.2 563.5,620.7ZM555.5,642.2 557.7,642.7 558.6,640.9 556.4,640.4ZM556.6,640.0 558.8,640.6 559.7,638.8 557.5,638.2ZM557.7,637.8 559.9,638.4 560.8,636.6 558.6,636.1ZM558.8,635.7 561.0,636.2 561.8,634.5 559.7,633.9ZM559.9,633.6 562.0,634.1 562.9,632.3 560.8,631.8ZM560.9,631.4 563.1,632.0 564.0,630.2 561.8,629.7ZM562.0,629.3 564.2,629.8 565.0,628.1 562.9,627.6ZM563.1,627.2 565.2,627.7 566.1,626.0 563.9,625.5ZM564.1,625.1 566.3,625.6 567.1,623.9 565.0,623.4ZM565.2,623.1 567.3,623.6 568.2,621.8 566.0,621.3ZM558.1,642.9 560.3,643.4 561.2,641.6 559.0,641.0ZM559.2,640.7 561.4,641.2 562.3,639.4 560.1,638.9ZM560.3,638.5 562.5,639.1 563.4,637.3 561.2,636.7ZM561.4,636.3 563.6,636.9 564.5,635.1 562.3,634.6ZM562.5,634.2 564.6,634.7 565.5,633.0 563.4,632.4ZM563.5,632.1 565.7,632.6 566.6,630.8 564.4,630.3ZM564.6,630.0 566.8,630.5 567.6,628.7 565.5,628.2ZM565.7,627.8 567.8,628.4 568.7,626.6 566.5,626.1ZM566.7,625.7 568.9,626.3 569.7,624.5 567.6,624.0ZM567.8,623.7 569.9,624.2 570.8,622.4 568.6,621.9ZM560.8,643.5 563.0,644.1 563.9,642.3 561.7,641.7ZM561.9,641.3 564.0,641.9 564.9,640.1 562.8,639.5ZM562.9,639.2 565.1,639.7 566.0,637.9 563.8,637.4ZM564.0,637.0 566.2,637.6 567.1,635.8 564.9,635.2ZM565.1,634.9 567.3,635.4 568.1,633.6 566.0,633.1ZM566.1,632.7 568.3,633.2 569.2,631.5 567.0,630.9ZM567.2,630.6 569.4,631.1 570.2,629.4 568.1,628.8ZM568.3,628.5 570.4,629.0 571.3,627.2 569.1,626.7ZM569.3,626.4 571.5,626.9 572.3,625.1 570.2,624.6ZM570.3,624.3 572.5,624.8 573.4,623.1 571.2,622.6ZM563.4,644.2 565.6,644.8 566.5,642.9 564.3,642.4ZM564.5,642.0 566.7,642.6 567.6,640.8 565.4,640.2ZM565.6,639.8 567.8,640.4 568.7,638.6 566.5,638.0ZM571.9,627.0 574.1,627.5 574.9,625.8 572.8,625.3ZM572.9,624.9 575.1,625.4 576.0,623.7 573.8,623.2ZM566.1,644.9 568.3,645.5 569.2,643.6 567.0,643.1ZM567.2,642.7 569.4,643.3 570.2,641.4 568.0,640.9ZM568.2,640.5 570.4,641.1 571.3,639.2 569.1,638.7ZM570.3,636.2 572.5,636.7 573.4,634.9 571.2,634.4ZM572.5,631.9 574.6,632.4 575.5,630.6 573.3,630.1ZM574.5,627.6 576.7,628.1 577.6,626.4 575.4,625.9ZM575.6,625.5 577.7,626.0 578.6,624.3 576.4,623.8ZM568.7,645.6 571.0,646.2 571.9,644.3 569.6,643.7ZM569.8,643.4 572.0,643.9 572.9,642.1 570.7,641.5ZM570.9,641.2 573.1,641.7 574.0,639.9 571.8,639.4ZM573.0,636.8 575.2,637.4 576.1,635.6 573.9,635.0ZM575.1,632.5 577.3,633.0 578.1,631.3 576.0,630.7ZM577.2,628.3 579.4,628.8 580.2,627.0 578.0,626.5ZM578.2,626.1 580.4,626.7 581.2,624.9 579.0,624.4ZM571.4,646.3 573.7,646.8 574.5,645.0 572.3,644.4ZM572.5,644.1 574.7,644.6 575.6,642.8 573.4,642.2ZM573.6,641.8 575.8,642.4 576.7,640.6 574.4,640.0ZM575.7,637.5 577.9,638.0 578.7,636.2 576.5,635.7ZM577.7,633.2 580.0,633.7 580.8,631.9 578.6,631.4ZM579.8,628.9 582.0,629.4 582.8,627.7 580.6,627.1ZM580.8,626.8 583.0,627.3 583.9,625.5 581.7,625.0ZM574.1,647.0 576.4,647.5 577.3,645.7 575.0,645.1ZM575.2,644.7 577.4,645.3 578.3,643.5 576.1,642.9ZM576.2,642.5 578.5,643.1 579.4,641.3 577.1,640.7ZM578.3,638.1 580.6,638.7 581.4,636.9 579.2,636.3ZM579.4,636.0 581.6,636.5 582.5,634.7 580.2,634.2ZM580.4,633.8 582.6,634.3 583.5,632.6 581.3,632.0ZM582.5,629.5 584.7,630.1 585.5,628.3 583.3,627.8ZM583.5,627.4 585.7,627.9 586.5,626.2 584.3,625.6ZM576.8,647.7 579.1,648.2 580.0,646.4 577.7,645.8ZM577.9,645.4 580.1,646.0 581.0,644.2 578.8,643.6ZM578.9,643.2 581.2,643.8 582.1,641.9 579.8,641.4ZM580.0,641.0 582.2,641.6 583.1,639.7 580.9,639.2ZM581.0,638.8 583.3,639.4 584.1,637.6 581.9,637.0ZM582.1,636.6 584.3,637.2 585.1,635.4 582.9,634.8ZM583.1,634.5 585.3,635.0 586.2,633.2 583.9,632.7ZM584.1,632.3 586.3,632.8 587.2,631.1 585.0,630.5ZM585.1,630.2 587.3,630.7 588.2,628.9 586.0,628.4ZM586.1,628.0 588.4,628.6 589.2,626.8 587.0,626.3ZM579.6,648.4 581.8,648.9 582.7,647.1 580.4,646.5ZM580.6,646.1 582.9,646.7 583.7,644.8 581.5,644.3ZM581.7,643.9 583.9,644.5 584.8,642.6 582.5,642.1ZM582.7,641.7 585.0,642.2 585.8,640.4 583.6,639.9ZM583.7,639.5 586.0,640.0 586.8,638.2 584.6,637.7ZM584.8,637.3 587.0,637.8 587.9,636.0 585.6,635.5ZM585.8,635.1 588.0,635.7 588.9,633.9 586.6,633.3ZM586.8,633.0 589.0,633.5 589.9,631.7 587.6,631.2ZM587.8,630.8 590.0,631.3 590.9,629.6 588.6,629.0ZM588.8,628.7 591.0,629.2 591.9,627.4 589.6,626.9ZM582.3,649.1 584.6,649.6 585.4,647.8 583.2,647.2ZM583.3,646.8 585.6,647.4 586.5,645.5 584.2,645.0ZM584.4,644.6 586.7,645.2 587.5,643.3 585.2,642.7ZM585.4,642.4 587.7,642.9 588.5,641.1 586.3,640.5ZM586.4,640.2 588.7,640.7 589.6,638.9 587.3,638.3ZM587.5,638.0 589.7,638.5 590.6,636.7 588.3,636.1ZM588.5,635.8 590.7,636.3 591.6,634.5 589.3,634.0ZM589.5,633.6 591.7,634.2 592.6,632.4 590.3,631.8ZM590.5,631.4 592.7,632.0 593.6,630.2 591.3,629.7ZM591.5,629.3 593.7,629.8 594.6,628.1 592.3,627.5ZM585.0,649.8 587.3,650.4 588.2,648.5 585.9,647.9ZM586.1,647.5 588.4,648.1 589.2,646.2 586.9,645.7ZM587.1,645.3 589.4,645.8 590.3,644.0 588.0,643.4ZM593.2,632.1 595.5,632.6 596.3,630.8 594.0,630.3ZM594.2,629.9 596.5,630.5 597.3,628.7 595.0,628.2ZM587.8,650.5 590.1,651.1 591.0,649.2 588.7,648.6ZM588.8,648.2 591.1,648.8 592.0,646.9 589.7,646.3ZM589.9,646.0 592.2,646.5 593.0,644.7 590.7,644.1ZM591.9,641.5 594.2,642.1 595.0,640.2 592.8,639.7ZM593.9,637.1 596.2,637.7 597.0,635.8 594.8,635.3ZM595.9,632.7 598.2,633.3 599.0,631.5 596.7,631.0ZM596.9,630.6 599.2,631.1 600.0,629.3 597.7,628.8ZM590.6,651.2 592.9,651.8 593.8,649.9 591.4,649.3ZM591.6,648.9 593.9,649.5 594.8,647.6 592.5,647.0ZM592.6,646.7 594.9,647.2 595.8,645.4 593.5,644.8ZM594.7,642.2 597.0,642.8 597.8,640.9 595.5,640.4ZM596.7,637.8 599.0,638.3 599.8,636.5 597.5,636.0ZM598.7,633.4 600.9,634.0 601.7,632.1 599.5,631.6ZM599.6,631.2 601.9,631.8 602.7,630.0 600.5,629.5ZM593.4,651.9 595.7,652.5 596.5,650.6 594.2,650.0ZM594.4,649.6 596.7,650.2 597.6,648.3 595.2,647.8ZM595.4,647.4 597.7,648.0 598.6,646.1 596.3,645.5ZM597.4,642.9 599.7,643.5 600.6,641.6 598.3,641.0ZM599.4,638.4 601.7,639.0 602.5,637.2 600.3,636.6ZM601.4,634.1 603.7,634.6 604.5,632.8 602.2,632.3ZM602.4,631.9 604.7,632.4 605.5,630.6 603.2,630.1ZM596.2,652.6 598.5,653.2 599.4,651.3 597.0,650.7ZM597.2,650.3 599.5,650.9 600.4,649.0 598.0,648.5ZM598.2,648.1 600.5,648.7 601.4,646.8 599.0,646.2ZM600.2,643.6 602.5,644.1 603.4,642.3 601.0,641.7ZM601.2,641.3 603.5,641.9 604.3,640.1 602.0,639.5ZM602.2,639.1 604.5,639.7 605.3,637.8 603.0,637.3ZM604.2,634.7 606.5,635.3 607.3,633.5 605.0,632.9ZM605.1,632.5 607.4,633.1 608.2,631.3 605.9,630.7ZM599.0,653.4 601.3,654.0 602.2,652.0 599.8,651.4ZM600.0,651.1 602.4,651.7 603.2,649.8 600.8,649.2ZM601.0,648.8 603.4,649.4 604.2,647.5 601.8,646.9ZM602.0,646.5 604.4,647.1 605.2,645.2 602.8,644.6ZM603.0,644.3 605.3,644.8 606.2,643.0 603.8,642.4ZM604.0,642.0 606.3,642.6 607.1,640.7 604.8,640.2ZM605.0,639.8 607.3,640.4 608.1,638.5 605.8,638.0ZM606.0,637.6 608.3,638.1 609.1,636.3 606.8,635.8ZM606.9,635.4 609.2,635.9 610.0,634.1 607.7,633.6ZM607.9,633.2 610.2,633.7 611.0,631.9 608.7,631.4ZM601.8,654.1 604.2,654.7 605.0,652.8 602.7,652.2ZM602.8,651.8 605.2,652.4 606.0,650.5 603.7,649.9ZM603.8,649.5 606.2,650.1 607.0,648.2 604.7,647.6ZM604.8,647.2 607.2,647.8 608.0,645.9 605.7,645.3ZM605.8,645.0 608.2,645.5 609.0,643.7 606.6,643.1ZM606.8,642.7 609.1,643.3 609.9,641.4 607.6,640.9ZM607.8,640.5 610.1,641.0 610.9,639.2 608.6,638.6ZM608.8,638.3 611.1,638.8 611.9,637.0 609.6,636.4ZM609.7,636.1 612.0,636.6 612.8,634.8 610.5,634.2ZM610.7,633.9 613.0,634.4 613.8,632.6 611.5,632.0ZM604.7,654.8 607.0,655.4 607.9,653.5 605.5,652.9ZM605.7,652.5 608.0,653.1 608.9,651.2 606.5,650.6ZM606.7,650.2 609.0,650.8 609.8,648.9 607.5,648.3ZM607.7,647.9 610.0,648.5 610.8,646.6 608.5,646.0ZM608.6,645.7 611.0,646.2 611.8,644.4 609.5,643.8ZM609.6,643.4 612.0,644.0 612.8,642.1 610.4,641.5ZM610.6,641.2 612.9,641.7 613.7,639.9 611.4,639.3ZM611.6,638.9 613.9,639.5 614.7,637.7 612.4,637.1ZM612.5,636.7 614.8,637.3 615.6,635.5 613.3,634.9ZM613.5,634.5 615.8,635.1 616.6,633.3 614.3,632.7ZM607.5,655.5 609.9,656.2 610.7,654.2 608.4,653.6ZM608.5,653.2 610.9,653.8 611.7,651.9 609.3,651.3ZM609.5,650.9 611.9,651.5 612.7,649.6 610.3,649.0ZM610.5,648.6 612.9,649.2 613.7,647.3 611.3,646.8ZM611.5,646.4 613.8,647.0 614.6,645.1 612.3,644.5ZM612.4,644.1 614.8,644.7 615.6,642.8 613.2,642.2ZM613.4,641.9 615.8,642.4 616.6,640.6 614.2,640.0ZM615.3,637.4 617.7,638.0 618.5,636.1 616.1,635.6ZM616.3,635.2 618.6,635.7 619.4,633.9 617.1,633.4ZM610.4,656.3 612.8,656.9 613.6,655.0 611.2,654.4ZM611.4,654.0 613.8,654.6 614.6,652.6 612.2,652.0ZM612.4,651.6 614.8,652.3 615.6,650.3 613.2,649.7ZM613.4,649.4 615.7,649.9 616.5,648.0 614.2,647.5ZM614.3,647.1 616.7,647.7 617.5,645.8 615.1,645.2ZM615.3,644.8 617.7,645.4 618.5,643.5 616.1,642.9ZM616.2,642.5 618.6,643.1 619.4,641.3 617.0,640.7ZM618.2,638.1 620.5,638.6 621.3,636.8 618.9,636.2ZM619.1,635.9 621.4,636.4 622.2,634.6 619.9,634.0ZM613.3,657.0 615.7,657.6 616.5,655.7 614.1,655.1ZM614.3,654.7 616.7,655.3 617.5,653.4 615.1,652.8ZM615.3,652.4 617.7,653.0 618.5,651.1 616.1,650.5ZM621.0,638.8 623.4,639.3 624.1,637.5 621.8,636.9ZM621.9,636.5 624.3,637.1 625.1,635.3 622.7,634.7ZM616.2,657.8 618.6,658.4 619.4,656.4 617.0,655.8ZM617.2,655.4 619.6,656.0 620.4,654.1 618.0,653.5ZM618.1,653.1 620.6,653.7 621.4,651.8 618.9,651.2ZM619.1,650.8 621.5,651.4 622.3,649.5 619.9,648.9ZM620.1,648.5 622.5,649.1 623.3,647.2 620.9,646.6ZM621.0,646.2 623.4,646.8 624.2,644.9 621.8,644.3ZM622.0,643.9 624.4,644.5 625.1,642.6 622.7,642.1ZM623.8,639.4 626.2,640.0 627.0,638.2 624.6,637.6ZM624.8,637.2 627.1,637.8 627.9,635.9 625.5,635.4ZM619.1,658.5 621.5,659.1 622.3,657.2 619.9,656.6ZM620.1,656.2 622.5,656.8 623.3,654.8 620.9,654.2ZM621.0,653.8 623.5,654.5 624.3,652.5 621.8,651.9ZM622.0,651.5 624.4,652.1 625.2,650.2 622.8,649.6ZM623.0,649.2 625.4,649.8 626.2,647.9 623.7,647.3ZM623.9,646.9 626.3,647.5 627.1,645.6 624.7,645.0ZM624.8,644.6 627.2,645.2 628.0,643.3 625.6,642.8ZM626.7,640.1 629.1,640.7 629.9,638.8 627.5,638.3ZM627.6,637.9 630.0,638.5 630.8,636.6 628.4,636.0ZM622.0,659.3 624.5,659.9 625.3,657.9 622.8,657.3ZM623.0,656.9 625.4,657.5 626.2,655.6 623.8,655.0ZM624.0,654.6 626.4,655.2 627.2,653.3 624.8,652.6ZM624.9,652.2 627.3,652.9 628.1,650.9 625.7,650.3ZM625.9,649.9 628.3,650.5 629.1,648.6 626.6,648.0ZM626.8,647.6 629.2,648.2 630.0,646.3 627.6,645.7ZM627.7,645.3 630.2,645.9 630.9,644.0 628.5,643.5ZM628.7,643.1 631.1,643.7 631.8,641.8 629.4,641.2ZM629.6,640.8 632.0,641.4 632.7,639.5 630.4,639.0ZM630.5,638.6 632.9,639.1 633.7,637.3 631.3,636.7ZM625.0,660.0 627.5,660.7 628.2,658.7 625.8,658.1ZM626.0,657.7 628.4,658.3 629.2,656.3 626.7,655.7ZM626.9,655.3 629.3,655.9 630.1,654.0 627.7,653.4ZM627.8,653.0 630.3,653.6 631.1,651.7 628.6,651.1ZM628.8,650.7 631.2,651.3 632.0,649.3 629.6,648.7ZM629.7,648.4 632.1,648.9 632.9,647.0 630.5,646.4ZM630.6,646.1 633.1,646.6 633.8,644.7 631.4,644.2ZM631.6,643.8 634.0,644.4 634.7,642.5 632.3,641.9ZM632.5,641.5 634.9,642.1 635.7,640.2 633.2,639.6ZM633.4,639.3 635.8,639.8 636.6,638.0 634.1,637.4ZM628.0,660.8 630.4,661.4 631.2,659.4 628.7,658.8ZM628.9,658.4 631.4,659.0 632.1,657.1 629.7,656.5ZM629.8,656.1 632.3,656.7 633.1,654.7 630.6,654.1ZM630.8,653.7 633.2,654.3 634.0,652.4 631.6,651.8ZM631.7,651.4 634.2,652.0 634.9,650.1 632.5,649.5ZM632.6,649.1 635.1,649.7 635.8,647.8 633.4,647.2ZM633.6,646.8 636.0,647.4 636.8,645.5 634.3,644.9ZM634.5,644.5 636.9,645.1 637.7,643.2 635.2,642.6ZM635.4,642.2 637.8,642.8 638.6,640.9 636.1,640.3ZM636.3,639.9 638.7,640.5 639.5,638.7 637.0,638.1ZM630.9,661.6 633.4,662.2 634.2,660.2 631.7,659.6ZM631.9,659.2 634.4,659.8 635.1,657.8 632.7,657.2ZM632.8,656.8 635.3,657.4 636.1,655.5 633.6,654.9ZM633.7,654.5 636.2,655.1 637.0,653.1 634.5,652.5ZM634.7,652.1 637.1,652.7 637.9,650.8 635.4,650.2ZM635.6,649.8 638.0,650.4 638.8,648.5 636.3,647.9ZM636.5,647.5 639.0,648.1 639.7,646.2 637.3,645.6ZM637.4,645.2 639.9,645.8 640.6,643.9 638.2,643.3ZM638.3,642.9 640.8,643.5 641.5,641.6 639.1,641.0ZM639.2,640.6 641.6,641.2 642.4,639.3 640.0,638.8ZM633.9,662.3 636.4,663.0 637.2,661.0 634.7,660.3ZM634.9,659.9 637.3,660.6 638.1,658.6 635.6,658.0ZM635.8,657.6 638.3,658.2 639.0,656.2 636.6,655.6ZM636.7,655.2 639.2,655.8 640.0,653.9 637.5,653.3ZM637.6,652.9 640.1,653.5 640.9,651.5 638.4,650.9ZM638.5,650.5 641.0,651.1 641.8,649.2 639.3,648.6ZM639.5,648.2 641.9,648.8 642.7,646.9 640.2,646.3ZM640.4,645.9 642.8,646.5 643.6,644.6 641.1,644.0ZM641.3,643.6 643.7,644.2 644.4,642.3 642.0,641.7ZM642.1,641.3 644.6,641.9 645.3,640.0 642.9,639.5Z" fill="#e8742a"/>
<polyline points="481.81,577.4 499.78,550.09 649.11,577.4" fill="none" stroke="#5a6a70" stroke-width="0.5" stroke-linejoin="round"/>
<polyline points="499.78,550.09 517.58,605.99 648.6,636.41" fill="none" stroke="#5a6a70" stroke-width="0.5" stroke-linejoin="round"/>
<line x1="649.11" y1="577.4" x2="648.6" y2="636.41" stroke="#5a6a70" stroke-width="0.4"/>
<line x1="517.58" y1="605.99" x2="502.52" y2="631.83" stroke="#5a6a70" stroke-width="0.4"/>
<polyline points="481.81,577.4 502.52,631.83 636.89,666.77 648.6,636.41" fill="none" stroke="#222" stroke-width="0.8" stroke-linejoin="round"/>
<line x1="502.52" y1="631.83" x2="501.68" y2="633.28" stroke="#222" stroke-width="0.5"/>
<line x1="507.31" y1="633.08" x2="506.83" y2="633.91" stroke="#222" stroke-width="0.5"/>
<line x1="512.14" y1="634.33" x2="511.67" y2="635.17" stroke="#222" stroke-width="0.5"/>
<line x1="517.02" y1="635.6" x2="516.55" y2="636.44" stroke="#222" stroke-width="0.5"/>
<line x1="521.94" y1="636.88" x2="521.47" y2="637.73" stroke="#222" stroke-width="0.5"/>
<line x1="526.91" y1="638.17" x2="526.1" y2="639.66" stroke="#222" stroke-width="0.5"/>
<line x1="531.92" y1="639.48" x2="531.46" y2="640.33" stroke="#222" stroke-width="0.5"/>
<line x1="536.98" y1="640.79" x2="536.52" y2="641.65" stroke="#222" stroke-width="0.5"/>
<line x1="542.09" y1="642.12" x2="541.64" y2="642.99" stroke="#222" stroke-width="0.5"/>
<line x1="547.24" y1="643.46" x2="546.79" y2="644.33" stroke="#222" stroke-width="0.5"/>
<line x1="552.45" y1="644.81" x2="551.67" y2="646.35" stroke="#222" stroke-width="0.5"/>
<line x1="557.7" y1="646.18" x2="557.26" y2="647.06" stroke="#222" stroke-width="0.5"/>
<line x1="563.01" y1="647.56" x2="562.57" y2="648.45" stroke="#222" stroke-width="0.5"/>
<line x1="568.36" y1="648.95" x2="567.93" y2="649.85" stroke="#222" stroke-width="0.5"/>
<line x1="573.77" y1="650.36" x2="573.34" y2="651.26" stroke="#222" stroke-width="0.5"/>
<line x1="579.23" y1="651.78" x2="578.48" y2="653.37" stroke="#222" stroke-width="0.5"/>
<line x1="584.74" y1="653.21" x2="584.32" y2="654.12" stroke="#222" stroke-width="0.5"/>
<line x1="590.31" y1="654.66" x2="589.89" y2="655.58" stroke="#222" stroke-width="0.5"/>
<line x1="595.93" y1="656.12" x2="595.52" y2="657.05" stroke="#222" stroke-width="0.5"/>
<line x1="601.61" y1="657.6" x2="601.2" y2="658.53" stroke="#222" stroke-width="0.5"/>
<line x1="607.34" y1="659.09" x2="606.64" y2="660.73" stroke="#222" stroke-width="0.5"/>
<line x1="613.13" y1="660.59" x2="612.74" y2="661.54" stroke="#222" stroke-width="0.5"/>
<line x1="618.98" y1="662.11" x2="618.59" y2="663.06" stroke="#222" stroke-width="0.5"/>
<line x1="624.89" y1="663.65" x2="624.5" y2="664.61" stroke="#222" stroke-width="0.5"/>
<line x1="630.86" y1="665.2" x2="630.48" y2="666.17" stroke="#222" stroke-width="0.5"/>
<line x1="636.89" y1="666.77" x2="636.23" y2="668.47" stroke="#222" stroke-width="0.5"/>
<line x1="636.89" y1="666.77" x2="639.62" y2="667.48" stroke="#222" stroke-width="0.5"/>
<line x1="637.82" y1="664.35" x2="639.34" y2="664.74" stroke="#222" stroke-width="0.5"/>
<line x1="638.75" y1="661.94" x2="641.47" y2="662.64" stroke="#222" stroke-width="0.5"/>
<line x1="639.67" y1="659.55" x2="641.18" y2="659.93" stroke="#222" stroke-width="0.5"/>
<line x1="640.59" y1="657.17" x2="643.3" y2="657.85" stroke="#222" stroke-width="0.5"/>
<line x1="641.5" y1="654.81" x2="643" y2="655.18" stroke="#222" stroke-width="0.5"/>
<line x1="642.41" y1="652.46" x2="645.11" y2="653.12" stroke="#222" stroke-width="0.5"/>
<line x1="643.31" y1="650.12" x2="644.8" y2="650.49" stroke="#222" stroke-width="0.5"/>
<line x1="644.21" y1="647.8" x2="646.89" y2="648.46" stroke="#222" stroke-width="0.5"/>
<line x1="645.1" y1="645.5" x2="646.58" y2="645.86" stroke="#222" stroke-width="0.5"/>
<line x1="645.98" y1="643.21" x2="648.65" y2="643.84" stroke="#222" stroke-width="0.5"/>
<line x1="646.86" y1="640.93" x2="648.34" y2="641.28" stroke="#222" stroke-width="0.5"/>
<line x1="647.73" y1="638.66" x2="650.39" y2="639.29" stroke="#222" stroke-width="0.5"/>
<line x1="648.6" y1="636.41" x2="650.08" y2="636.75" stroke="#222" stroke-width="0.5"/>
<circle cx="615.33" cy="595.39" r="1" fill="#ec7a2c" stroke="#b2501a" stroke-width="0.25"/>
<circle cx="624.87" cy="597.3" r="1" fill="#ec7a2c" stroke="#b2501a" stroke-width="0.25"/>
<circle cx="626.14" cy="597.66" r="1" fill="#ec7a2c" stroke="#b2501a" stroke-width="0.25"/>
<circle cx="543.72" cy="580.57" r="1" fill="#ec7a2c" stroke="#b2501a" stroke-width="0.25"/>
<circle cx="552.43" cy="582.46" r="1" fill="#ec7a2c" stroke="#b2501a" stroke-width="0.25"/>
<circle cx="623.09" cy="597.11" r="1" fill="#ec7a2c" stroke="#b2501a" stroke-width="0.25"/>
<circle cx="522.05" cy="576.56" r="1" fill="#ec7a2c" stroke="#b2501a" stroke-width="0.25"/>
<circle cx="590.28" cy="590.19" r="1" fill="#ec7a2c" stroke="#b2501a" stroke-width="0.25"/>
<circle cx="593.42" cy="590.82" r="1" fill="#ec7a2c" stroke="#b2501a" stroke-width="0.25"/>
<circle cx="588.73" cy="590.04" r="1" fill="#ec7a2c" stroke="#b2501a" stroke-width="0.25"/>
<circle cx="619.59" cy="596.12" r="1" fill="#ec7a2c" stroke="#b2501a" stroke-width="0.25"/>
<circle cx="546.8" cy="581.6" r="1" fill="#ec7a2c" stroke="#b2501a" stroke-width="0.25"/>
<circle cx="597.71" cy="591.74" r="1" fill="#ec7a2c" stroke="#b2501a" stroke-width="0.25"/>
<circle cx="549.38" cy="582.09" r="1" fill="#ec7a2c" stroke="#b2501a" stroke-width="0.25"/>
<circle cx="591.59" cy="590.5" r="1" fill="#ec7a2c" stroke="#b2501a" stroke-width="0.25"/>
<circle cx="524.71" cy="577.08" r="1" fill="#ec7a2c" stroke="#b2501a" stroke-width="0.25"/>
<circle cx="566.65" cy="585.3" r="1" fill="#ec7a2c" stroke="#b2501a" stroke-width="0.25"/>
<circle cx="599.6" cy="592.41" r="1" fill="#ec7a2c" stroke="#b2501a" stroke-width="0.25"/>
<circle cx="594.85" cy="591.25" r="1" fill="#ec7a2c" stroke="#b2501a" stroke-width="0.25"/>
<circle cx="611.89" cy="594.58" r="1" fill="#ec7a2c" stroke="#b2501a" stroke-width="0.25"/>
<circle cx="530.04" cy="578.27" r="1" fill="#ec7a2c" stroke="#b2501a" stroke-width="0.25"/>
<circle cx="527.27" cy="577.3" r="1" fill="#ec7a2c" stroke="#b2501a" stroke-width="0.25"/>
<circle cx="541.13" cy="580.12" r="1" fill="#ec7a2c" stroke="#b2501a" stroke-width="0.25"/>
<circle cx="573.75" cy="586.97" r="1" fill="#ec7a2c" stroke="#b2501a" stroke-width="0.25"/>
<circle cx="621.53" cy="596.5" r="1" fill="#ec7a2c" stroke="#b2501a" stroke-width="0.25"/>
<circle cx="575.51" cy="587.39" r="1" fill="#ec7a2c" stroke="#b2501a" stroke-width="0.25"/>
<circle cx="519.13" cy="575.69" r="1" fill="#ec7a2c" stroke="#b2501a" stroke-width="0.25"/>
<circle cx="618.28" cy="596.16" r="1" fill="#ec7a2c" stroke="#b2501a" stroke-width="0.25"/>
<circle cx="547.83" cy="581.57" r="1" fill="#ec7a2c" stroke="#b2501a" stroke-width="0.25"/>
<circle cx="553.46" cy="582.82" r="1" fill="#ec7a2c" stroke="#b2501a" stroke-width="0.25"/>
<circle cx="531.16" cy="578.32" r="1" fill="#ec7a2c" stroke="#b2501a" stroke-width="0.25"/>
<circle cx="596.46" cy="591.55" r="1" fill="#ec7a2c" stroke="#b2501a" stroke-width="0.25"/>
<circle cx="525.96" cy="577.36" r="1" fill="#ec7a2c" stroke="#b2501a" stroke-width="0.25"/>
<circle cx="569.45" cy="585.95" r="1" fill="#ec7a2c" stroke="#b2501a" stroke-width="0.25"/>
<circle cx="545.03" cy="581.13" r="1" fill="#ec7a2c" stroke="#b2501a" stroke-width="0.25"/>
<circle cx="567.96" cy="585.79" r="1" fill="#ec7a2c" stroke="#b2501a" stroke-width="0.25"/>
<circle cx="563.68" cy="584.96" r="1" fill="#ec7a2c" stroke="#b2501a" stroke-width="0.25"/>
<circle cx="542.16" cy="580.51" r="1" fill="#ec7a2c" stroke="#b2501a" stroke-width="0.25"/>
<circle cx="523.28" cy="577.02" r="1" fill="#ec7a2c" stroke="#b2501a" stroke-width="0.25"/>
<circle cx="587.4" cy="590.1" r="1" fill="#ec7a2c" stroke="#b2501a" stroke-width="0.25"/>
<circle cx="616.57" cy="595.7" r="1" fill="#ec7a2c" stroke="#b2501a" stroke-width="0.25"/>
<circle cx="576.7" cy="587.46" r="1" fill="#ec7a2c" stroke="#b2501a" stroke-width="0.25"/>
<circle cx="600.95" cy="592.76" r="1" fill="#ec7a2c" stroke="#b2501a" stroke-width="0.25"/>
<circle cx="520.51" cy="576.35" r="1" fill="#ec7a2c" stroke="#b2501a" stroke-width="0.25"/>
<circle cx="572.41" cy="586.88" r="1" fill="#ec7a2c" stroke="#b2501a" stroke-width="0.25"/>
<circle cx="528.38" cy="577.84" r="1" fill="#ec7a2c" stroke="#b2501a" stroke-width="0.25"/>
<circle cx="564.84" cy="585.29" r="1" fill="#ec7a2c" stroke="#b2501a" stroke-width="0.25"/>
<circle cx="613.2" cy="595.38" r="1" fill="#ec7a2c" stroke="#b2501a" stroke-width="0.25"/>
<circle cx="550.78" cy="582.6" r="1" fill="#ec7a2c" stroke="#b2501a" stroke-width="0.25"/>
<circle cx="570.68" cy="586.6" r="1" fill="#ec7a2c" stroke="#b2501a" stroke-width="0.25"/>
<circle cx="570.49" cy="586.99" r="1" fill="#ec7a2c" stroke="#b2501a" stroke-width="0.25"/>
<circle cx="611.55" cy="595.39" r="1" fill="#ec7a2c" stroke="#b2501a" stroke-width="0.25"/>
<circle cx="616.09" cy="596.48" r="1" fill="#ec7a2c" stroke="#b2501a" stroke-width="0.25"/>
<circle cx="548.94" cy="582.84" r="1" fill="#ec7a2c" stroke="#b2501a" stroke-width="0.25"/>
<circle cx="542" cy="581.61" r="1" fill="#ec7a2c" stroke="#b2501a" stroke-width="0.25"/>
<circle cx="540.6" cy="581.38" r="1" fill="#ec7a2c" stroke="#b2501a" stroke-width="0.25"/>
<circle cx="524.01" cy="577.62" r="1" fill="#ec7a2c" stroke="#b2501a" stroke-width="0.25"/>
<circle cx="520.03" cy="577" r="1" fill="#ec7a2c" stroke="#b2501a" stroke-width="0.25"/>
<circle cx="576.28" cy="588.51" r="1" fill="#ec7a2c" stroke="#b2501a" stroke-width="0.25"/>
<circle cx="599.1" cy="593.2" r="1" fill="#ec7a2c" stroke="#b2501a" stroke-width="0.25"/>
<circle cx="544.57" cy="581.99" r="1" fill="#ec7a2c" stroke="#b2501a" stroke-width="0.25"/>
<circle cx="594.2" cy="592.28" r="1" fill="#ec7a2c" stroke="#b2501a" stroke-width="0.25"/>
<circle cx="573.43" cy="588.08" r="1" fill="#ec7a2c" stroke="#b2501a" stroke-width="0.25"/>
<circle cx="566.22" cy="586.61" r="1" fill="#ec7a2c" stroke="#b2501a" stroke-width="0.25"/>
<circle cx="625.8" cy="598.53" r="1" fill="#ec7a2c" stroke="#b2501a" stroke-width="0.25"/>
<circle cx="546.11" cy="582.2" r="1" fill="#ec7a2c" stroke="#b2501a" stroke-width="0.25"/>
<circle cx="614.8" cy="596.59" r="1" fill="#ec7a2c" stroke="#b2501a" stroke-width="0.25"/>
<circle cx="571.98" cy="587.55" r="1" fill="#ec7a2c" stroke="#b2501a" stroke-width="0.25"/>
<circle cx="622.55" cy="597.92" r="1" fill="#ec7a2c" stroke="#b2501a" stroke-width="0.25"/>
<circle cx="567.3" cy="586.66" r="1" fill="#ec7a2c" stroke="#b2501a" stroke-width="0.25"/>
<circle cx="596.16" cy="592.73" r="1" fill="#ec7a2c" stroke="#b2501a" stroke-width="0.25"/>
<circle cx="619.33" cy="597.47" r="1" fill="#ec7a2c" stroke="#b2501a" stroke-width="0.25"/>
<circle cx="521.49" cy="577.53" r="1" fill="#ec7a2c" stroke="#b2501a" stroke-width="0.25"/>
<circle cx="617.8" cy="596.8" r="1" fill="#ec7a2c" stroke="#b2501a" stroke-width="0.25"/>
<circle cx="525.42" cy="578.25" r="1" fill="#ec7a2c" stroke="#b2501a" stroke-width="0.25"/>
<circle cx="569.13" cy="587.3" r="1" fill="#ec7a2c" stroke="#b2501a" stroke-width="0.25"/>
<circle cx="551.79" cy="583.37" r="1" fill="#ec7a2c" stroke="#b2501a" stroke-width="0.25"/>
<circle cx="592.82" cy="592.17" r="1" fill="#ec7a2c" stroke="#b2501a" stroke-width="0.25"/>
<circle cx="564.67" cy="586.41" r="1" fill="#ec7a2c" stroke="#b2501a" stroke-width="0.25"/>
<circle cx="547.42" cy="582.88" r="1" fill="#ec7a2c" stroke="#b2501a" stroke-width="0.25"/>
<circle cx="612.93" cy="596.23" r="1" fill="#ec7a2c" stroke="#b2501a" stroke-width="0.25"/>
<circle cx="586.88" cy="590.51" r="1" fill="#ec7a2c" stroke="#b2501a" stroke-width="0.25"/>
<circle cx="530.86" cy="579.52" r="1" fill="#ec7a2c" stroke="#b2501a" stroke-width="0.25"/>
<circle cx="543.27" cy="582.01" r="1" fill="#ec7a2c" stroke="#b2501a" stroke-width="0.25"/>
<circle cx="621.01" cy="597.94" r="1" fill="#ec7a2c" stroke="#b2501a" stroke-width="0.25"/>
<circle cx="575.02" cy="588.58" r="1" fill="#ec7a2c" stroke="#b2501a" stroke-width="0.25"/>
<circle cx="518.84" cy="576.97" r="1" fill="#ec7a2c" stroke="#b2501a" stroke-width="0.25"/>
<circle cx="527.94" cy="578.69" r="1" fill="#ec7a2c" stroke="#b2501a" stroke-width="0.25"/>
<circle cx="588.2" cy="591.05" r="1" fill="#ec7a2c" stroke="#b2501a" stroke-width="0.25"/>
<circle cx="624.14" cy="598.65" r="1" fill="#ec7a2c" stroke="#b2501a" stroke-width="0.25"/>
<circle cx="589.98" cy="591.54" r="1" fill="#ec7a2c" stroke="#b2501a" stroke-width="0.25"/>
<circle cx="522.6" cy="577.59" r="1" fill="#ec7a2c" stroke="#b2501a" stroke-width="0.25"/>
<circle cx="563.18" cy="585.72" r="1" fill="#ec7a2c" stroke="#b2501a" stroke-width="0.25"/>
<circle cx="597.28" cy="593.07" r="1" fill="#ec7a2c" stroke="#b2501a" stroke-width="0.25"/>
<circle cx="591.07" cy="591.46" r="1" fill="#ec7a2c" stroke="#b2501a" stroke-width="0.25"/>
<circle cx="550.21" cy="583.52" r="1" fill="#ec7a2c" stroke="#b2501a" stroke-width="0.25"/>
<circle cx="600.51" cy="593.7" r="1" fill="#ec7a2c" stroke="#b2501a" stroke-width="0.25"/>
<circle cx="526.7" cy="578.61" r="1" fill="#ec7a2c" stroke="#b2501a" stroke-width="0.25"/>
<circle cx="552.94" cy="583.71" r="1" fill="#ec7a2c" stroke="#b2501a" stroke-width="0.25"/>
<circle cx="529.39" cy="579.02" r="1" fill="#ec7a2c" stroke="#b2501a" stroke-width="0.25"/>
<circle cx="586.3" cy="591.84" r="1" fill="#ec7a2c" stroke="#b2501a" stroke-width="0.25"/>
<circle cx="551.2" cy="585" r="1" fill="#ec7a2c" stroke="#b2501a" stroke-width="0.25"/>
<circle cx="546.58" cy="583.94" r="1" fill="#ec7a2c" stroke="#b2501a" stroke-width="0.25"/>
<circle cx="539.78" cy="582.62" r="1" fill="#ec7a2c" stroke="#b2501a" stroke-width="0.25"/>
<circle cx="523.37" cy="579.27" r="1" fill="#ec7a2c" stroke="#b2501a" stroke-width="0.25"/>
<circle cx="617.38" cy="598.57" r="1" fill="#ec7a2c" stroke="#b2501a" stroke-width="0.25"/>
<circle cx="618.51" cy="598.8" r="1" fill="#ec7a2c" stroke="#b2501a" stroke-width="0.25"/>
<circle cx="587.59" cy="592.52" r="1" fill="#ec7a2c" stroke="#b2501a" stroke-width="0.25"/>
<circle cx="552.42" cy="585.31" r="1" fill="#ec7a2c" stroke="#b2501a" stroke-width="0.25"/>
<circle cx="563.72" cy="587.35" r="1" fill="#ec7a2c" stroke="#b2501a" stroke-width="0.25"/>
<circle cx="545.31" cy="583.7" r="1" fill="#ec7a2c" stroke="#b2501a" stroke-width="0.25"/>
<circle cx="562.62" cy="587.35" r="1" fill="#ec7a2c" stroke="#b2501a" stroke-width="0.25"/>
<circle cx="524.52" cy="579.32" r="1" fill="#ec7a2c" stroke="#b2501a" stroke-width="0.25"/>
<circle cx="540.96" cy="582.73" r="1" fill="#ec7a2c" stroke="#b2501a" stroke-width="0.25"/>
<circle cx="562.08" cy="587.86" r="1" fill="#ec7a2c" stroke="#b2501a" stroke-width="0.25"/>
<circle cx="618.4" cy="599.45" r="1" fill="#ec7a2c" stroke="#b2501a" stroke-width="0.25"/>
<circle cx="546.07" cy="584.65" r="1" fill="#ec7a2c" stroke="#b2501a" stroke-width="0.25"/>
<circle cx="616.81" cy="599.14" r="1" fill="#ec7a2c" stroke="#b2501a" stroke-width="0.25"/>
<circle cx="587.08" cy="593.29" r="1" fill="#ec7a2c" stroke="#b2501a" stroke-width="0.25"/>
<circle cx="539.41" cy="583.62" r="1" fill="#ec7a2c" stroke="#b2501a" stroke-width="0.25"/>
<circle cx="563.47" cy="588.5" r="1" fill="#ec7a2c" stroke="#b2501a" stroke-width="0.25"/>
<circle cx="585.67" cy="593.13" r="1" fill="#ec7a2c" stroke="#b2501a" stroke-width="0.25"/>
<circle cx="540.41" cy="583.65" r="1" fill="#ec7a2c" stroke="#b2501a" stroke-width="0.25"/>
<circle cx="524.08" cy="580.45" r="1" fill="#ec7a2c" stroke="#b2501a" stroke-width="0.25"/>
<circle cx="551.67" cy="585.98" r="1" fill="#ec7a2c" stroke="#b2501a" stroke-width="0.25"/>
<circle cx="544.87" cy="584.65" r="1" fill="#ec7a2c" stroke="#b2501a" stroke-width="0.25"/>
<circle cx="550.67" cy="585.98" r="1" fill="#ec7a2c" stroke="#b2501a" stroke-width="0.25"/>
<circle cx="522.79" cy="579.94" r="1" fill="#ec7a2c" stroke="#b2501a" stroke-width="0.25"/>
<circle cx="561.42" cy="589.53" r="1" fill="#ec7a2c" stroke="#b2501a" stroke-width="0.25"/>
<circle cx="591.16" cy="595.32" r="1" fill="#ec7a2c" stroke="#b2501a" stroke-width="0.25"/>
<circle cx="522.23" cy="581.4" r="1" fill="#ec7a2c" stroke="#b2501a" stroke-width="0.25"/>
<circle cx="586.27" cy="594.39" r="1" fill="#ec7a2c" stroke="#b2501a" stroke-width="0.25"/>
<circle cx="594.19" cy="596.37" r="1" fill="#ec7a2c" stroke="#b2501a" stroke-width="0.25"/>
<circle cx="565.66" cy="590.33" r="1" fill="#ec7a2c" stroke="#b2501a" stroke-width="0.25"/>
<circle cx="595.65" cy="596.3" r="1" fill="#ec7a2c" stroke="#b2501a" stroke-width="0.25"/>
<circle cx="571.35" cy="591.33" r="1" fill="#ec7a2c" stroke="#b2501a" stroke-width="0.25"/>
<circle cx="562.54" cy="589.62" r="1" fill="#ec7a2c" stroke="#b2501a" stroke-width="0.25"/>
<circle cx="568.36" cy="590.7" r="1" fill="#ec7a2c" stroke="#b2501a" stroke-width="0.25"/>
<circle cx="617.56" cy="601.16" r="1" fill="#ec7a2c" stroke="#b2501a" stroke-width="0.25"/>
<circle cx="588.26" cy="595.11" r="1" fill="#ec7a2c" stroke="#b2501a" stroke-width="0.25"/>
<circle cx="545.41" cy="586.05" r="1" fill="#ec7a2c" stroke="#b2501a" stroke-width="0.25"/>
<circle cx="551.05" cy="587.23" r="1" fill="#ec7a2c" stroke="#b2501a" stroke-width="0.25"/>
<circle cx="539.67" cy="584.83" r="1" fill="#ec7a2c" stroke="#b2501a" stroke-width="0.25"/>
<circle cx="570" cy="591.16" r="1" fill="#ec7a2c" stroke="#b2501a" stroke-width="0.25"/>
<circle cx="567.13" cy="590.84" r="1" fill="#ec7a2c" stroke="#b2501a" stroke-width="0.25"/>
<circle cx="549.71" cy="586.93" r="1" fill="#ec7a2c" stroke="#b2501a" stroke-width="0.25"/>
<circle cx="523.21" cy="581.29" r="1" fill="#ec7a2c" stroke="#b2501a" stroke-width="0.25"/>
<circle cx="544.12" cy="585.72" r="1" fill="#ec7a2c" stroke="#b2501a" stroke-width="0.25"/>
<circle cx="589.52" cy="595.51" r="1" fill="#ec7a2c" stroke="#b2501a" stroke-width="0.25"/>
<circle cx="592.34" cy="596.14" r="1" fill="#ec7a2c" stroke="#b2501a" stroke-width="0.25"/>
<circle cx="538.61" cy="584.61" r="1" fill="#ec7a2c" stroke="#b2501a" stroke-width="0.25"/>
<circle cx="584.92" cy="594.33" r="1" fill="#ec7a2c" stroke="#b2501a" stroke-width="0.25"/>
<circle cx="564.18" cy="590.01" r="1" fill="#ec7a2c" stroke="#b2501a" stroke-width="0.25"/>
<circle cx="616.28" cy="601.13" r="1" fill="#ec7a2c" stroke="#b2501a" stroke-width="0.25"/>
<circle cx="590.8" cy="596.36" r="1" fill="#ec7a2c" stroke="#b2501a" stroke-width="0.25"/>
<circle cx="522.79" cy="582.23" r="1" fill="#ec7a2c" stroke="#b2501a" stroke-width="0.25"/>
<circle cx="593.75" cy="597.09" r="1" fill="#ec7a2c" stroke="#b2501a" stroke-width="0.25"/>
<circle cx="549.52" cy="587.99" r="1" fill="#ec7a2c" stroke="#b2501a" stroke-width="0.25"/>
<circle cx="570.95" cy="592.29" r="1" fill="#ec7a2c" stroke="#b2501a" stroke-width="0.25"/>
<circle cx="569.53" cy="591.88" r="1" fill="#ec7a2c" stroke="#b2501a" stroke-width="0.25"/>
<circle cx="615.91" cy="601.85" r="1" fill="#ec7a2c" stroke="#b2501a" stroke-width="0.25"/>
<circle cx="594.98" cy="597.23" r="1" fill="#ec7a2c" stroke="#b2501a" stroke-width="0.25"/>
<circle cx="566.83" cy="591.65" r="1" fill="#ec7a2c" stroke="#b2501a" stroke-width="0.25"/>
<circle cx="539.34" cy="585.62" r="1" fill="#ec7a2c" stroke="#b2501a" stroke-width="0.25"/>
<circle cx="537.98" cy="585.57" r="1" fill="#ec7a2c" stroke="#b2501a" stroke-width="0.25"/>
<circle cx="587.52" cy="595.71" r="1" fill="#ec7a2c" stroke="#b2501a" stroke-width="0.25"/>
<circle cx="568.07" cy="591.63" r="1" fill="#ec7a2c" stroke="#b2501a" stroke-width="0.25"/>
<circle cx="560.68" cy="590.17" r="1" fill="#ec7a2c" stroke="#b2501a" stroke-width="0.25"/>
<circle cx="617.02" cy="602.16" r="1" fill="#ec7a2c" stroke="#b2501a" stroke-width="0.25"/>
<circle cx="521.44" cy="582.03" r="1" fill="#ec7a2c" stroke="#b2501a" stroke-width="0.25"/>
<circle cx="550.48" cy="588.07" r="1" fill="#ec7a2c" stroke="#b2501a" stroke-width="0.25"/>
<circle cx="563.74" cy="590.77" r="1" fill="#ec7a2c" stroke="#b2501a" stroke-width="0.25"/>
<circle cx="584.68" cy="595.36" r="1" fill="#ec7a2c" stroke="#b2501a" stroke-width="0.25"/>
<circle cx="543.59" cy="586.72" r="1" fill="#ec7a2c" stroke="#b2501a" stroke-width="0.25"/>
<circle cx="544.89" cy="587.15" r="1" fill="#ec7a2c" stroke="#b2501a" stroke-width="0.25"/>
<circle cx="591.94" cy="596.98" r="1" fill="#ec7a2c" stroke="#b2501a" stroke-width="0.25"/>
<circle cx="588.99" cy="596.49" r="1" fill="#ec7a2c" stroke="#b2501a" stroke-width="0.25"/>
<circle cx="561.98" cy="590.61" r="1" fill="#ec7a2c" stroke="#b2501a" stroke-width="0.25"/>
<circle cx="585.75" cy="595.43" r="1" fill="#ec7a2c" stroke="#b2501a" stroke-width="0.25"/>
<circle cx="564.96" cy="591.51" r="1" fill="#ec7a2c" stroke="#b2501a" stroke-width="0.25"/>
<circle cx="543.05" cy="587.82" r="1" fill="#ec7a2c" stroke="#b2501a" stroke-width="0.25"/>
<circle cx="544.41" cy="588.43" r="1" fill="#ec7a2c" stroke="#b2501a" stroke-width="0.25"/>
<circle cx="548.68" cy="589.13" r="1" fill="#ec7a2c" stroke="#b2501a" stroke-width="0.25"/>
<circle cx="549.88" cy="589.34" r="1" fill="#ec7a2c" stroke="#b2501a" stroke-width="0.25"/>
<circle cx="616.54" cy="603.41" r="1" fill="#ec7a2c" stroke="#b2501a" stroke-width="0.25"/>
<circle cx="538.53" cy="587.06" r="1" fill="#ec7a2c" stroke="#b2501a" stroke-width="0.25"/>
<circle cx="584.03" cy="596.92" r="1" fill="#ec7a2c" stroke="#b2501a" stroke-width="0.25"/>
<circle cx="537.29" cy="586.81" r="1" fill="#ec7a2c" stroke="#b2501a" stroke-width="0.25"/>
<circle cx="520.64" cy="583.19" r="1" fill="#ec7a2c" stroke="#b2501a" stroke-width="0.25"/>
<circle cx="522.1" cy="583.68" r="1" fill="#ec7a2c" stroke="#b2501a" stroke-width="0.25"/>
<circle cx="615.06" cy="603.47" r="1" fill="#ec7a2c" stroke="#b2501a" stroke-width="0.25"/>
<circle cx="561.32" cy="592.1" r="1" fill="#ec7a2c" stroke="#b2501a" stroke-width="0.25"/>
<circle cx="585.2" cy="596.92" r="1" fill="#ec7a2c" stroke="#b2501a" stroke-width="0.25"/>
<circle cx="559.94" cy="591.57" r="1" fill="#ec7a2c" stroke="#b2501a" stroke-width="0.25"/>
<circle cx="543.81" cy="588.94" r="1" fill="#ec7a2c" stroke="#b2501a" stroke-width="0.25"/>
<circle cx="584.7" cy="597.6" r="1" fill="#ec7a2c" stroke="#b2501a" stroke-width="0.25"/>
<circle cx="549.31" cy="590.56" r="1" fill="#ec7a2c" stroke="#b2501a" stroke-width="0.25"/>
<circle cx="559.63" cy="592.3" r="1" fill="#ec7a2c" stroke="#b2501a" stroke-width="0.25"/>
<circle cx="520.19" cy="584.17" r="1" fill="#ec7a2c" stroke="#b2501a" stroke-width="0.25"/>
<circle cx="616.15" cy="604.6" r="1" fill="#ec7a2c" stroke="#b2501a" stroke-width="0.25"/>
<circle cx="583.3" cy="597.61" r="1" fill="#ec7a2c" stroke="#b2501a" stroke-width="0.25"/>
<circle cx="548.09" cy="590.3" r="1" fill="#ec7a2c" stroke="#b2501a" stroke-width="0.25"/>
<circle cx="614.67" cy="604.47" r="1" fill="#ec7a2c" stroke="#b2501a" stroke-width="0.25"/>
<circle cx="542.31" cy="589.06" r="1" fill="#ec7a2c" stroke="#b2501a" stroke-width="0.25"/>
<circle cx="560.88" cy="592.75" r="1" fill="#ec7a2c" stroke="#b2501a" stroke-width="0.25"/>
<circle cx="521.57" cy="584.52" r="1" fill="#ec7a2c" stroke="#b2501a" stroke-width="0.25"/>
<circle cx="538.04" cy="588.01" r="1" fill="#ec7a2c" stroke="#b2501a" stroke-width="0.25"/>
<circle cx="536.87" cy="587.8" r="1" fill="#ec7a2c" stroke="#b2501a" stroke-width="0.25"/>
<circle cx="523.64" cy="586.26" r="1" fill="#ec7a2c" stroke="#b2501a" stroke-width="0.25"/>
<circle cx="571.93" cy="596.48" r="1" fill="#ec7a2c" stroke="#b2501a" stroke-width="0.25"/>
<circle cx="570.76" cy="596.3" r="1" fill="#ec7a2c" stroke="#b2501a" stroke-width="0.25"/>
<circle cx="563.24" cy="594.8" r="1" fill="#ec7a2c" stroke="#b2501a" stroke-width="0.25"/>
<circle cx="613.98" cy="605.58" r="1" fill="#ec7a2c" stroke="#b2501a" stroke-width="0.25"/>
<circle cx="514.26" cy="584.52" r="1" fill="#ec7a2c" stroke="#b2501a" stroke-width="0.25"/>
<circle cx="526.33" cy="586.91" r="1" fill="#ec7a2c" stroke="#b2501a" stroke-width="0.25"/>
<circle cx="518.25" cy="585.39" r="1" fill="#ec7a2c" stroke="#b2501a" stroke-width="0.25"/>
<circle cx="522.25" cy="586.16" r="1" fill="#ec7a2c" stroke="#b2501a" stroke-width="0.25"/>
<circle cx="585.79" cy="599.63" r="1" fill="#ec7a2c" stroke="#b2501a" stroke-width="0.25"/>
<circle cx="525.1" cy="586.73" r="1" fill="#ec7a2c" stroke="#b2501a" stroke-width="0.25"/>
<circle cx="515.33" cy="584.63" r="1" fill="#ec7a2c" stroke="#b2501a" stroke-width="0.25"/>
<circle cx="547.55" cy="591.52" r="1" fill="#ec7a2c" stroke="#b2501a" stroke-width="0.25"/>
<circle cx="590.31" cy="600.8" r="1" fill="#ec7a2c" stroke="#b2501a" stroke-width="0.25"/>
<circle cx="567.67" cy="595.82" r="1" fill="#ec7a2c" stroke="#b2501a" stroke-width="0.25"/>
<circle cx="520.6" cy="585.55" r="1" fill="#ec7a2c" stroke="#b2501a" stroke-width="0.25"/>
<circle cx="584.17" cy="599.12" r="1" fill="#ec7a2c" stroke="#b2501a" stroke-width="0.25"/>
<circle cx="543.09" cy="590.66" r="1" fill="#ec7a2c" stroke="#b2501a" stroke-width="0.25"/>
<circle cx="593.23" cy="601.31" r="1" fill="#ec7a2c" stroke="#b2501a" stroke-width="0.25"/>
<circle cx="536.15" cy="588.88" r="1" fill="#ec7a2c" stroke="#b2501a" stroke-width="0.25"/>
<circle cx="560.07" cy="593.96" r="1" fill="#ec7a2c" stroke="#b2501a" stroke-width="0.25"/>
<circle cx="569.14" cy="596.02" r="1" fill="#ec7a2c" stroke="#b2501a" stroke-width="0.25"/>
<circle cx="537.32" cy="589.31" r="1" fill="#ec7a2c" stroke="#b2501a" stroke-width="0.25"/>
<circle cx="595.05" cy="601.76" r="1" fill="#ec7a2c" stroke="#b2501a" stroke-width="0.25"/>
<circle cx="588.77" cy="600.4" r="1" fill="#ec7a2c" stroke="#b2501a" stroke-width="0.25"/>
<circle cx="561.73" cy="594.71" r="1" fill="#ec7a2c" stroke="#b2501a" stroke-width="0.25"/>
<circle cx="587.11" cy="599.99" r="1" fill="#ec7a2c" stroke="#b2501a" stroke-width="0.25"/>
<circle cx="596.32" cy="601.91" r="1" fill="#ec7a2c" stroke="#b2501a" stroke-width="0.25"/>
<circle cx="615.4" cy="606.16" r="1" fill="#ec7a2c" stroke="#b2501a" stroke-width="0.25"/>
<circle cx="519.66" cy="585.65" r="1" fill="#ec7a2c" stroke="#b2501a" stroke-width="0.25"/>
<circle cx="548.7" cy="591.9" r="1" fill="#ec7a2c" stroke="#b2501a" stroke-width="0.25"/>
<circle cx="582.83" cy="598.96" r="1" fill="#ec7a2c" stroke="#b2501a" stroke-width="0.25"/>
<circle cx="564.9" cy="595.27" r="1" fill="#ec7a2c" stroke="#b2501a" stroke-width="0.25"/>
<circle cx="516.74" cy="585.15" r="1" fill="#ec7a2c" stroke="#b2501a" stroke-width="0.25"/>
<circle cx="592.06" cy="601.25" r="1" fill="#ec7a2c" stroke="#b2501a" stroke-width="0.25"/>
<circle cx="566.07" cy="595.37" r="1" fill="#ec7a2c" stroke="#b2501a" stroke-width="0.25"/>
<circle cx="559.02" cy="594.12" r="1" fill="#ec7a2c" stroke="#b2501a" stroke-width="0.25"/>
<circle cx="541.81" cy="590.59" r="1" fill="#ec7a2c" stroke="#b2501a" stroke-width="0.25"/>
<circle cx="536.68" cy="589.89" r="1" fill="#ec7a2c" stroke="#b2501a" stroke-width="0.25"/>
<circle cx="591.54" cy="601.92" r="1" fill="#ec7a2c" stroke="#b2501a" stroke-width="0.25"/>
<circle cx="522.94" cy="587.29" r="1" fill="#ec7a2c" stroke="#b2501a" stroke-width="0.25"/>
<circle cx="568.58" cy="597.03" r="1" fill="#ec7a2c" stroke="#b2501a" stroke-width="0.25"/>
<circle cx="583.82" cy="600.26" r="1" fill="#ec7a2c" stroke="#b2501a" stroke-width="0.25"/>
<circle cx="564.4" cy="596.23" r="1" fill="#ec7a2c" stroke="#b2501a" stroke-width="0.25"/>
<circle cx="589.76" cy="601.39" r="1" fill="#ec7a2c" stroke="#b2501a" stroke-width="0.25"/>
<circle cx="513.65" cy="585.41" r="1" fill="#ec7a2c" stroke="#b2501a" stroke-width="0.25"/>
<circle cx="561.37" cy="595.51" r="1" fill="#ec7a2c" stroke="#b2501a" stroke-width="0.25"/>
<circle cx="585.41" cy="600.69" r="1" fill="#ec7a2c" stroke="#b2501a" stroke-width="0.25"/>
<circle cx="517.53" cy="586.16" r="1" fill="#ec7a2c" stroke="#b2501a" stroke-width="0.25"/>
<circle cx="565.57" cy="596.27" r="1" fill="#ec7a2c" stroke="#b2501a" stroke-width="0.25"/>
<circle cx="559.82" cy="594.85" r="1" fill="#ec7a2c" stroke="#b2501a" stroke-width="0.25"/>
<circle cx="516.41" cy="585.84" r="1" fill="#ec7a2c" stroke="#b2501a" stroke-width="0.25"/>
<circle cx="570.12" cy="597.2" r="1" fill="#ec7a2c" stroke="#b2501a" stroke-width="0.25"/>
<circle cx="514.91" cy="585.72" r="1" fill="#ec7a2c" stroke="#b2501a" stroke-width="0.25"/>
<circle cx="558.53" cy="594.65" r="1" fill="#ec7a2c" stroke="#b2501a" stroke-width="0.25"/>
<circle cx="548.29" cy="592.84" r="1" fill="#ec7a2c" stroke="#b2501a" stroke-width="0.25"/>
<circle cx="596.11" cy="602.91" r="1" fill="#ec7a2c" stroke="#b2501a" stroke-width="0.25"/>
<circle cx="521.81" cy="586.97" r="1" fill="#ec7a2c" stroke="#b2501a" stroke-width="0.25"/>
<circle cx="582.32" cy="600" r="1" fill="#ec7a2c" stroke="#b2501a" stroke-width="0.25"/>
<circle cx="594.57" cy="602.49" r="1" fill="#ec7a2c" stroke="#b2501a" stroke-width="0.25"/>
<circle cx="571.35" cy="597.56" r="1" fill="#ec7a2c" stroke="#b2501a" stroke-width="0.25"/>
<circle cx="588.34" cy="601.21" r="1" fill="#ec7a2c" stroke="#b2501a" stroke-width="0.25"/>
<circle cx="613.41" cy="606.77" r="1" fill="#ec7a2c" stroke="#b2501a" stroke-width="0.25"/>
<circle cx="562.59" cy="595.95" r="1" fill="#ec7a2c" stroke="#b2501a" stroke-width="0.25"/>
<circle cx="541.17" cy="591.25" r="1" fill="#ec7a2c" stroke="#b2501a" stroke-width="0.25"/>
<circle cx="535.5" cy="590.03" r="1" fill="#ec7a2c" stroke="#b2501a" stroke-width="0.25"/>
<circle cx="525.73" cy="587.84" r="1" fill="#ec7a2c" stroke="#b2501a" stroke-width="0.25"/>
<circle cx="567.06" cy="596.74" r="1" fill="#ec7a2c" stroke="#b2501a" stroke-width="0.25"/>
<circle cx="614.87" cy="607.21" r="1" fill="#ec7a2c" stroke="#b2501a" stroke-width="0.25"/>
<circle cx="546.7" cy="592.28" r="1" fill="#ec7a2c" stroke="#b2501a" stroke-width="0.25"/>
<circle cx="520.2" cy="586.74" r="1" fill="#ec7a2c" stroke="#b2501a" stroke-width="0.25"/>
<circle cx="518.84" cy="586.49" r="1" fill="#ec7a2c" stroke="#b2501a" stroke-width="0.25"/>
<circle cx="586.79" cy="601.2" r="1" fill="#ec7a2c" stroke="#b2501a" stroke-width="0.25"/>
<circle cx="524.49" cy="587.72" r="1" fill="#ec7a2c" stroke="#b2501a" stroke-width="0.25"/>
<circle cx="542.5" cy="591.66" r="1" fill="#ec7a2c" stroke="#b2501a" stroke-width="0.25"/>
<circle cx="592.69" cy="602.12" r="1" fill="#ec7a2c" stroke="#b2501a" stroke-width="0.25"/>
<text x="499.12" y="633.43" font-size="5.6" text-anchor="middle" font-weight="normal" fill="#111" dominant-baseline="central" transform="rotate(62 499.12 633.43)">0</text>
<text x="495.41" y="623.68" font-size="5.6" text-anchor="middle" font-weight="normal" fill="#111" dominant-baseline="central" transform="rotate(62 495.41 623.68)">6</text>
<text x="491.5" y="613.4" font-size="5.6" text-anchor="middle" font-weight="normal" fill="#111" dominant-baseline="central" transform="rotate(62 491.5 613.4)">12</text>
<text x="487.38" y="602.56" font-size="5.6" text-anchor="middle" font-weight="normal" fill="#111" dominant-baseline="central" transform="rotate(62 487.38 602.56)">18</text>
<text x="483.02" y="591.11" font-size="5.6" text-anchor="middle" font-weight="normal" fill="#111" dominant-baseline="central" transform="rotate(62 483.02 591.11)">24</text>
<text x="478.41" y="579" font-size="5.6" text-anchor="middle" font-weight="normal" fill="#111" dominant-baseline="central" transform="rotate(62 478.41 579)">30</text>
<text x="525.6" y="643.4" font-size="6" text-anchor="middle" font-weight="normal" fill="#111" dominant-baseline="central" transform="rotate(-72 525.6 643.4)">10</text>
<text x="551.28" y="650.25" font-size="6" text-anchor="middle" font-weight="normal" fill="#111" dominant-baseline="central" transform="rotate(-72 551.28 650.25)">20</text>
<text x="578.22" y="657.44" font-size="6" text-anchor="middle" font-weight="normal" fill="#111" dominant-baseline="central" transform="rotate(-72 578.22 657.44)">30</text>
<text x="606.51" y="664.99" font-size="6" text-anchor="middle" font-weight="normal" fill="#111" dominant-baseline="central" transform="rotate(-72 606.51 664.99)">40</text>
<text x="636.25" y="672.92" font-size="6" text-anchor="middle" font-weight="normal" fill="#111" dominant-baseline="central" transform="rotate(-72 636.25 672.92)">50</text>
<text x="643.87" y="668.27" font-size="5" text-anchor="middle" font-weight="normal" fill="#111" dominant-baseline="central" transform="rotate(-72 643.87 668.27)">0</text>
<text x="645.71" y="663.41" font-size="5" text-anchor="middle" font-weight="normal" fill="#111" dominant-baseline="central" transform="rotate(-72 645.71 663.41)">2</text>
<text x="647.52" y="658.61" font-size="5" text-anchor="middle" font-weight="normal" fill="#111" dominant-baseline="central" transform="rotate(-72 647.52 658.61)">4</text>
<text x="649.32" y="653.87" font-size="5" text-anchor="middle" font-weight="normal" fill="#111" dominant-baseline="central" transform="rotate(-72 649.32 653.87)">6</text>
<text x="651.09" y="649.18" font-size="5" text-anchor="middle" font-weight="normal" fill="#111" dominant-baseline="central" transform="rotate(-72 651.09 649.18)">8</text>
<text x="652.83" y="644.55" font-size="5" text-anchor="middle" font-weight="normal" fill="#111" dominant-baseline="central" transform="rotate(-72 652.83 644.55)">10</text>
<text x="654.56" y="639.98" font-size="5" text-anchor="middle" font-weight="normal" fill="#111" dominant-baseline="central" transform="rotate(-72 654.56 639.98)">12</text>
<text x="563" y="664.5" font-size="6.6" text-anchor="middle" font-weight="bold" fill="#111" dominant-baseline="central" transform="rotate(20 563 664.5)">X Axis</text>
<text x="482.4" y="615" font-size="5.8" text-anchor="middle" font-weight="normal" fill="#111" dominant-baseline="central" transform="rotate(66 482.4 615)">Current(fA)</text>
<text x="663" y="655" font-size="6.6" text-anchor="middle" font-weight="bold" fill="#111" dominant-baseline="central" transform="rotate(-72 663 655)">Y Axis</text>
<text x="664.7" y="475" font-size="11" text-anchor="middle" font-weight="bold" fill="#111" dominant-baseline="central">i</text>
<text x="655.6" y="581.4" font-size="11" text-anchor="middle" font-weight="bold" fill="#111" dominant-baseline="central">ii</text>
</svg>
</body></html>
